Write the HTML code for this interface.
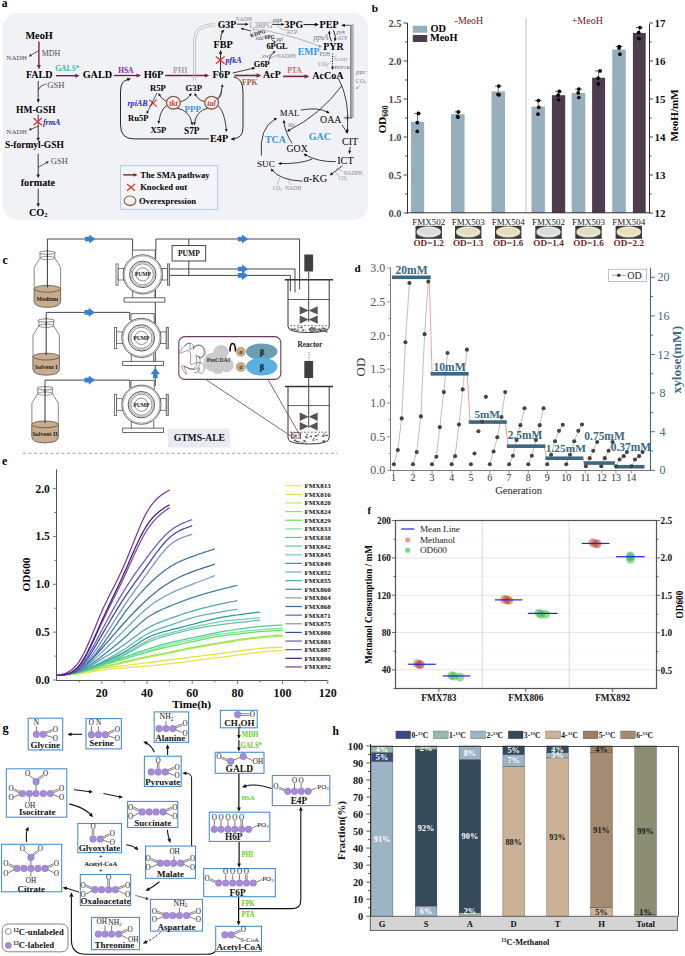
<!DOCTYPE html>
<html><head><meta charset="utf-8"><style>
html,body{margin:0;padding:0;background:#fff;overflow:hidden;}
svg{display:block;font-family:"Liberation Serif",serif;}
</style></head><body>
<svg width="685" height="956" viewBox="0 0 685 956">
<rect x="3.00" y="13.00" width="365.00" height="207.00" rx="15" fill="#f1f2f6" stroke="none" stroke-width="1"/>
<text x="1.80" y="6.70" font-size="11.50" fill="#000" font-weight="bold">a</text>
<text x="25.40" y="38.90" font-size="10.32" fill="#000" font-weight="bold">MeoH</text>
<text x="25.90" y="78.30" font-size="10.08" fill="#000" font-weight="bold">FALD</text>
<text x="82.70" y="78.30" font-size="10.18" fill="#000" font-weight="bold">GALD</text>
<text x="16.10" y="112.90" font-size="9.50" fill="#000" font-weight="bold">HM-GSH</text>
<text x="4.90" y="148.40" font-size="9.48" fill="#000" font-weight="bold">S-formyl-GSH</text>
<text x="20.70" y="185.70" font-size="10.19" fill="#000" font-weight="bold">formate</text>
<text x="28.9" y="216.2" font-size="10.3" font-weight="bold">CO<tspan font-size="6.5" dy="1">2</tspan></text>
<line x1="38.90" y1="41.50" x2="38.90" y2="66.35" stroke="#7a2341" stroke-width="1.4"/>
<polygon points="38.90,69.50 36.88,65.00 40.92,65.00" fill="#7a2341"/>
<line x1="38.90" y1="50.50" x2="30.43" y2="55.47" stroke="#333" stroke-width="0.8"/>
<polygon points="28.50,56.60 30.53,53.74 31.99,56.22" fill="#333"/>
<text x="6.30" y="59.50" font-size="7.10" fill="#505050">NADH</text>
<text x="41.70" y="56.30" font-size="8.01" fill="#505050">MDH</text>
<line x1="56.00" y1="75.70" x2="76.55" y2="75.70" stroke="#7a2341" stroke-width="1.4"/>
<polygon points="79.70,75.70 75.20,77.73 75.20,73.67" fill="#7a2341"/>
<text x="55.20" y="70.80" font-size="7.60" fill="#2ec0a0" font-weight="bold">GALS*</text>
<line x1="38.20" y1="81.00" x2="38.20" y2="100.34" stroke="#222" stroke-width="0.9"/>
<polygon points="38.20,103.00 36.49,99.20 39.91,99.20" fill="#222"/>
<path d="M38.2 90 L41 86 L46.4 83.8" stroke="#333" stroke-width="0.8" fill="none"/>
<text x="47.30" y="88.00" font-size="8.60" fill="#505050">GSH</text>
<line x1="38.20" y1="114.50" x2="38.20" y2="138.84" stroke="#222" stroke-width="0.9"/>
<polygon points="38.20,141.50 36.49,137.70 39.91,137.70" fill="#222"/>
<line x1="33.50" y1="118.00" x2="41.90" y2="125.20" stroke="#e8302a" stroke-width="1.3"/>
<line x1="33.50" y1="125.20" x2="41.90" y2="118.00" stroke="#e8302a" stroke-width="1.3"/>
<text x="42.90" y="125.00" font-size="8.08" fill="#2a2ab8" font-style="italic" font-weight="bold">frmA</text>
<line x1="38.20" y1="126.20" x2="30.38" y2="129.36" stroke="#333" stroke-width="0.8"/>
<polygon points="28.30,130.20 30.73,127.67 31.81,130.34" fill="#333"/>
<text x="6.30" y="133.50" font-size="7.10" fill="#505050">NADH</text>
<line x1="38.20" y1="153.70" x2="38.20" y2="175.64" stroke="#222" stroke-width="0.9"/>
<polygon points="38.20,178.30 36.49,174.50 39.91,174.50" fill="#222"/>
<line x1="38.20" y1="167.30" x2="47.04" y2="162.39" stroke="#333" stroke-width="0.8"/>
<polygon points="49.00,161.30 46.90,164.11 45.50,161.60" fill="#333"/>
<text x="50.80" y="164.20" font-size="8.60" fill="#505050">GSH</text>
<line x1="38.20" y1="188.70" x2="38.20" y2="204.54" stroke="#222" stroke-width="0.9"/>
<polygon points="38.20,207.20 36.49,203.40 39.91,203.40" fill="#222"/>
<line x1="113.90" y1="75.50" x2="137.95" y2="75.50" stroke="#7a2341" stroke-width="1.4"/>
<polygon points="141.10,75.50 136.60,77.53 136.60,73.47" fill="#7a2341"/>
<text x="118.20" y="72.50" font-size="7.44" fill="#7a2aa8" font-weight="bold">HSA</text>
<text x="143.70" y="78.20" font-size="10.48" fill="#000" font-weight="bold">H6P</text>
<line x1="165.20" y1="75.50" x2="206.15" y2="75.50" stroke="#7a2341" stroke-width="1.4"/>
<polygon points="209.30,75.50 204.80,77.53 204.80,73.47" fill="#7a2341"/>
<text x="173.00" y="72.50" font-size="8.04" fill="#a0a0a8" font-weight="bold">PHI</text>
<text x="212.60" y="78.20" font-size="10.22" fill="#000" font-weight="bold">F6P</text>
<line x1="234.50" y1="75.50" x2="258.04" y2="75.50" stroke="#7a2341" stroke-width="1.6"/>
<polygon points="261.40,75.50 256.60,77.66 256.60,73.34" fill="#7a2341"/>
<text x="242.10" y="85.30" font-size="7.70" fill="#9a6632" font-weight="bold">FPK</text>
<text x="263.10" y="78.20" font-size="9.91" fill="#000" font-weight="bold">AcP</text>
<line x1="283.10" y1="76.40" x2="306.04" y2="76.40" stroke="#7a2341" stroke-width="1.6"/>
<polygon points="309.40,76.40 304.60,78.56 304.60,74.24" fill="#7a2341"/>
<text x="287.20" y="72.50" font-size="7.58" fill="#c86b6b" font-weight="bold">PTA</text>
<text x="312.30" y="78.60" font-size="10.09" fill="#000" font-weight="bold">AcCoA</text>
<text x="217.70" y="28.10" font-size="9.80" fill="#000" font-weight="bold">G3P</text>
<text x="213.50" y="48.30" font-size="10.22" fill="#000" font-weight="bold">FBP</text>
<text x="284.60" y="28.20" font-size="9.90" fill="#000" font-weight="bold">3PG</text>
<text x="319.60" y="28.20" font-size="10.06" fill="#000" font-weight="bold">PEP</text>
<text x="323.30" y="49.70" font-size="9.93" fill="#000" font-weight="bold">PYR</text>
<text x="266.40" y="49.00" font-size="8.33" fill="#000" font-weight="bold">6PGL</text>
<text x="253.80" y="67.10" font-size="8.47" fill="#000" font-weight="bold">G6P</text>
<line x1="220.60" y1="71.00" x2="220.60" y2="52.66" stroke="#111" stroke-width="0.9"/>
<polygon points="220.60,50.00 222.31,53.80 218.89,53.80" fill="#111"/>
<line x1="216.00" y1="56.60" x2="224.60" y2="63.80" stroke="#e8302a" stroke-width="1.3"/>
<line x1="216.00" y1="63.80" x2="224.60" y2="56.60" stroke="#e8302a" stroke-width="1.3"/>
<text x="225.50" y="63.00" font-size="8.15" fill="#2a2ab8" font-style="italic" font-weight="bold">pfkA</text>
<path d="M220.60 40.20 Q221.00 33.00 222.62 31.48" stroke="#111" stroke-width="0.9" fill="none"/>
<polygon points="224.40,29.80 222.93,33.35 220.77,31.05" fill="#111"/>
<path d="M215.2 23.5 Q193.5 23.5 193.5 40 L193.5 80.5" stroke="#b0b0b0" stroke-width="0.7" fill="none"/>
<path d="M215.2 25.8 Q195.6 25.8 195.6 41 L195.6 80.5" stroke="#b0b0b0" stroke-width="0.7" fill="none"/>
<text x="248.80" y="27.60" font-size="7.35" fill="#8a8a8a">1,3BPG</text>
<text x="235.40" y="21.20" font-size="5.78" fill="#8a8a8a">NADH</text>
<line x1="237.00" y1="24.20" x2="246.36" y2="24.20" stroke="#111" stroke-width="0.9"/>
<polygon points="248.60,24.20 245.40,25.64 245.40,22.76" fill="#111"/>
<text x="273.10" y="21.50" font-size="6.44" fill="#555" font-style="italic">pgk</text>
<line x1="272.30" y1="24.40" x2="282.36" y2="24.40" stroke="#111" stroke-width="0.9"/>
<polygon points="284.60,24.40 281.40,25.84 281.40,22.96" fill="#111"/>
<text x="286.20" y="33.50" font-size="6.35" fill="#8a8a8a">ATP</text>
<path d="M276 24.6 Q283 31 288 30" stroke="#888" stroke-width="0.5" fill="none"/>
<line x1="303.60" y1="24.60" x2="316.10" y2="24.60" stroke="#111" stroke-width="1"/>
<polygon points="318.90,24.60 314.90,26.40 314.90,22.80" fill="#111"/>
<text x="250.80" y="37.40" font-size="5.40" fill="#222" font-weight="bold" transform="rotate(-17 250.8 37.4)">KDPG</text>
<text x="255.80" y="40.20" font-size="5.20" fill="#555" font-style="italic">edd</text>
<text x="264.60" y="39.40" font-size="5.40" fill="#222" font-weight="bold">6PG</text>
<text x="276.40" y="40.60" font-size="5.20" fill="#555" font-style="italic">pgl</text>
<line x1="251.00" y1="31.00" x2="242.53" y2="28.74" stroke="#111" stroke-width="0.8"/>
<polygon points="240.50,28.20 243.75,27.67 243.05,30.28" fill="#111"/>
<line x1="268.00" y1="36.50" x2="266.07" y2="36.02" stroke="#111" stroke-width="0.01"/>
<polygon points="266.00,36.00 266.11,35.98 266.09,36.07" fill="#111"/>
<line x1="271.50" y1="39.60" x2="274.48" y2="41.96" stroke="#111" stroke-width="0.7"/>
<polygon points="275.80,43.00 273.25,42.36 274.59,40.66" fill="#111"/>
<path d="M266.00 30.50 Q300.00 38.00 319.93 46.34" stroke="#888" stroke-width="0.6" fill="none"/>
<polygon points="322.00,47.20 318.49,47.29 319.60,44.64" fill="#888"/>
<path d="M252 29.6 L266 30.5" stroke="#888" stroke-width="0.6" fill="none"/>
<path d="M268.90 60.40 Q271.00 54.00 273.93 52.22" stroke="#111" stroke-width="0.7" fill="none"/>
<polygon points="275.60,51.20 273.86,53.73 272.55,51.58" fill="#111"/>
<text x="262.20" y="58.30" font-size="6.50" fill="#777" font-style="italic">zwf</text>
<text x="276.80" y="58.30" font-size="5.52" fill="#8a8a8a">NADPH</text>
<path d="M270.5 58.5 Q274 55.5 277 55.8" stroke="#777" stroke-width="0.5" fill="none"/>
<line x1="232.80" y1="73.00" x2="253.25" y2="68.23" stroke="#111" stroke-width="0.8"/>
<polygon points="255.50,67.70 252.62,69.90 251.95,67.00" fill="#111"/>
<path d="M331.50 41.50 Q329.00 36.00 329.30 32.73" stroke="#111" stroke-width="0.9" fill="none"/>
<polygon points="329.50,30.50 330.64,33.82 327.78,33.56" fill="#111"/>
<path d="M333.50 30.50 Q336.00 36.00 335.15 39.33" stroke="#111" stroke-width="0.9" fill="none"/>
<polygon points="334.60,41.50 333.99,38.04 336.78,38.75" fill="#111"/>
<text x="336.40" y="33.50" font-size="6.34" fill="#777" font-style="italic">pyk</text>
<text x="337.20" y="39.80" font-size="5.74" fill="#8a8a8a">ATP</text>
<text x="313.50" y="40.00" font-size="7.45" fill="#777" font-style="italic">ppsA</text>
<text x="297.70" y="55.30" font-size="9.86" fill="#3b96dd" font-weight="bold">EMP</text>
<text x="319.60" y="56.30" font-size="5.15" fill="#777">PDH</text>
<line x1="332.50" y1="53.50" x2="332.50" y2="67.76" stroke="#111" stroke-width="0.9" stroke-dasharray="1.2 1.2"/>
<polygon points="332.50,70.00 331.06,66.80 333.94,66.80" fill="#111"/>
<text x="334.20" y="61.30" font-size="4.57" fill="#8a8a8a">NADH</text>
<text x="318.20" y="66.30" font-size="6.00" fill="#8a8a8a">CO</text>
<text x="326.60" y="67.30" font-size="4.00" fill="#8a8a8a">2</text>
<path d="M332.5 60 L328 64" stroke="#888" stroke-width="0.5" fill="none"/>
<path d="M332.5 57 L336.5 56" stroke="#888" stroke-width="0.5" fill="none"/>
<text x="334.20" y="68.80" font-size="4.75" fill="#777" font-weight="bold">PEPCK</text>
<line x1="352.50" y1="24.20" x2="352.50" y2="118.00" stroke="#b4b4b4" stroke-width="2.6"/>
<path d="M350.8 118 L350.8 25.3 L342 25.3" stroke="#222" stroke-width="0.7" fill="none"/>
<polygon points="341.30,25.30 344.90,23.68 344.90,26.92" fill="#111"/>
<text x="356.10" y="73.50" font-size="7.13" fill="#777" font-style="italic">ppc</text>
<text x="355.40" y="82.50" font-size="6.50" fill="#8a8a8a">CO</text>
<text x="364.00" y="83.50" font-size="4.20" fill="#8a8a8a">2</text>
<line x1="360.00" y1="85.50" x2="357.16" y2="87.99" stroke="#777" stroke-width="0.5"/>
<polygon points="356.00,89.00 357.00,86.81 358.31,88.30" fill="#777"/>
<text x="149.90" y="90.50" font-size="8.67" fill="#000" font-weight="bold">R5P</text>
<text x="185.60" y="90.50" font-size="8.68" fill="#000" font-weight="bold">G3P</text>
<text x="128.00" y="120.50" font-size="8.54" fill="#000" font-weight="bold">Ru5P</text>
<text x="150.50" y="132.80" font-size="8.57" fill="#000" font-weight="bold">X5P</text>
<text x="184.00" y="134.20" font-size="9.30" fill="#000" font-weight="bold">S7P</text>
<text x="210.10" y="142.00" font-size="10.12" fill="#000" font-weight="bold">E4P</text>
<text x="127.40" y="106.00" font-size="8.16" fill="#2a2ab8" font-style="italic" font-weight="bold">rpiAB</text>
<line x1="149.20" y1="99.60" x2="156.80" y2="106.60" stroke="#e8302a" stroke-width="1.2"/>
<line x1="149.20" y1="106.60" x2="156.80" y2="99.60" stroke="#e8302a" stroke-width="1.2"/>
<line x1="157.00" y1="93.00" x2="147.44" y2="112.12" stroke="#111" stroke-width="0.7"/>
<polygon points="146.50,114.00 146.63,110.71 149.05,111.92" fill="#111"/>
<path d="M174.00 103.00 Q163.00 102.00 159.44 94.88" stroke="#111" stroke-width="0.8" fill="none"/>
<polygon points="158.50,93.00 161.05,95.08 158.63,96.29" fill="#111"/>
<path d="M174.00 103.00 Q186.00 102.00 190.40 94.79" stroke="#111" stroke-width="0.8" fill="none"/>
<polygon points="191.50,93.00 191.09,96.26 188.78,94.86" fill="#111"/>
<path d="M174.00 103.00 Q161.00 104.00 158.76 121.92" stroke="#111" stroke-width="0.8" fill="none"/>
<polygon points="158.50,124.00 157.53,120.86 160.21,121.19" fill="#111"/>
<path d="M177.00 108.00 Q190.00 111.00 191.97 123.43" stroke="#111" stroke-width="0.8" fill="none"/>
<polygon points="192.30,125.50 190.50,122.75 193.16,122.33" fill="#111"/>
<path d="M211.60 103.00 Q199.00 102.00 195.44 94.88" stroke="#111" stroke-width="0.8" fill="none"/>
<polygon points="194.50,93.00 197.05,95.08 194.63,96.29" fill="#111"/>
<path d="M208.00 108.00 Q196.00 111.00 194.46 123.42" stroke="#111" stroke-width="0.8" fill="none"/>
<polygon points="194.20,125.50 193.23,122.36 195.91,122.69" fill="#111"/>
<path d="M211.60 103.00 Q224.00 104.00 226.31 129.91" stroke="#111" stroke-width="0.8" fill="none"/>
<polygon points="226.50,132.00 224.89,129.13 227.58,128.89" fill="#111"/>
<path d="M211.60 103.00 Q221.00 100.00 222.30 86.09" stroke="#111" stroke-width="0.8" fill="none"/>
<polygon points="222.50,84.00 223.56,87.11 220.88,86.86" fill="#111"/>
<path d="M221.50 90.00 Q222.00 98.00 216.73 98.75" stroke="#111" stroke-width="0.6" fill="none"/>
<polygon points="215.00,99.00 217.32,97.53 217.63,99.76" fill="#111"/>
<ellipse cx="173.40" cy="102.70" rx="6.90" ry="6.30" fill="#f1f2f6" stroke="#8b5e3c" stroke-width="1.3"/>
<ellipse cx="211.60" cy="102.70" rx="6.90" ry="6.30" fill="#f1f2f6" stroke="#8b5e3c" stroke-width="1.3"/>
<text x="173.40" y="105.50" font-size="8.00" fill="#e8302a" text-anchor="middle" font-style="italic" font-weight="bold">tkt</text>
<text x="211.60" y="105.50" font-size="8.00" fill="#e8302a" text-anchor="middle" font-style="italic" font-weight="bold">tal</text>
<text x="184.60" y="111.60" font-size="8.95" fill="#3b96dd" font-weight="bold">PPP</text>
<path d="M209 138.9 L134 138.9 Q120.5 138.9 120.5 125 L120.5 92 Q120.5 80.5 128 79.5" stroke="#111" stroke-width="0.9" fill="none"/>
<polygon points="131.00,78.60 127.74,81.20 126.90,77.88" fill="#111"/>
<path d="M233.6 77 Q243 78 243 92 L243 128 Q243 138 233 138.9" stroke="#111" stroke-width="0.9" fill="none"/>
<polygon points="230.50,139.00 234.30,137.29 234.30,140.71" fill="#111"/>
<text x="279.80" y="115.60" font-size="8.82" fill="#000">MAL</text>
<text x="320.10" y="122.70" font-size="9.88" fill="#000">OAA</text>
<text x="342.00" y="145.10" font-size="10.12" fill="#000">CIT</text>
<text x="337.20" y="164.00" font-size="10.24" fill="#000">ICT</text>
<text x="286.40" y="152.10" font-size="9.88" fill="#000">GOX</text>
<text x="257.00" y="167.00" font-size="9.20" fill="#000">SUC</text>
<text x="303.40" y="182.40" font-size="10.30" fill="#000">α-KG</text>
<text x="264.90" y="143.30" font-size="9.95" fill="#3b96dd" font-weight="bold">TCA</text>
<text x="308.70" y="139.80" font-size="10.04" fill="#3b96dd" font-weight="bold">GAC</text>
<text x="288.00" y="127.20" font-size="5.50" fill="#777" font-style="italic">Ms</text>
<path d="M342.00 85.50 Q320.00 115.00 288.87 130.38" stroke="#111" stroke-width="0.8" fill="none"/>
<polygon points="286.80,131.40 289.10,128.61 290.42,131.27" fill="#111"/>
<path d="M338.50 78.50 Q350.00 100.00 347.40 130.70" stroke="#111" stroke-width="0.8" fill="none"/>
<polygon points="347.20,133.00 346.00,129.59 348.96,129.84" fill="#111"/>
<path d="M300.80 110.00 Q318.00 107.00 327.66 112.12" stroke="#111" stroke-width="0.8" fill="none"/>
<polygon points="329.70,113.20 326.09,112.97 327.48,110.34" fill="#111"/>
<line x1="342.00" y1="124.90" x2="346.78" y2="131.80" stroke="#111" stroke-width="0.8"/>
<polygon points="348.10,133.70 345.00,131.83 347.44,130.14" fill="#111"/>
<line x1="343.70" y1="117.90" x2="352.00" y2="117.90" stroke="#111" stroke-width="0.7"/>
<line x1="347.20" y1="115.50" x2="347.20" y2="120.30" stroke="#111" stroke-width="0.6"/>
<line x1="350.20" y1="146.80" x2="349.59" y2="151.71" stroke="#111" stroke-width="0.8"/>
<polygon points="349.30,154.00 348.24,150.54 351.18,150.91" fill="#111"/>
<path d="M335.80 161.70 Q318.00 162.00 305.41 154.93" stroke="#111" stroke-width="0.8" fill="none"/>
<polygon points="303.40,153.80 307.00,154.12 305.55,156.71" fill="#111"/>
<path d="M312.20 159.10 Q300.00 164.00 280.31 163.55" stroke="#111" stroke-width="0.8" fill="none"/>
<polygon points="278.00,163.50 281.33,162.09 281.27,165.06" fill="#111"/>
<path d="M292.00 143.30 Q285.00 132.00 284.02 122.00" stroke="#111" stroke-width="0.8" fill="none"/>
<polygon points="283.80,119.70 285.60,122.84 282.64,123.13" fill="#111"/>
<path d="M261.40 155.60 Q259.00 128.00 275.18 119.02" stroke="#111" stroke-width="0.8" fill="none"/>
<polygon points="277.20,117.90 275.04,120.80 273.59,118.20" fill="#111"/>
<line x1="342.50" y1="165.80" x2="331.55" y2="174.01" stroke="#111" stroke-width="0.8"/>
<polygon points="329.70,175.40 331.45,172.23 333.23,174.61" fill="#111"/>
<text x="343.70" y="174.50" font-size="5.34" fill="#8a8a8a">NADPH</text>
<text x="338.50" y="180.00" font-size="5.30" fill="#8a8a8a">CO</text>
<text x="345.50" y="180.80" font-size="3.60" fill="#8a8a8a">2</text>
<path d="M336 168.5 L342.8 171.5" stroke="#888" stroke-width="0.5" fill="none"/>
<path d="M335 171 L339 176.5" stroke="#888" stroke-width="0.5" fill="none"/>
<path d="M302.60 181.20 Q280.00 180.00 272.14 170.20" stroke="#111" stroke-width="0.8" fill="none"/>
<polygon points="270.70,168.40 273.92,170.05 271.61,171.90" fill="#111"/>
<text x="272.80" y="190.00" font-size="5.30" fill="#8a8a8a">CO</text>
<text x="279.90" y="190.80" font-size="3.60" fill="#8a8a8a">2</text>
<text x="285.00" y="190.00" font-size="5.61" fill="#8a8a8a">NADH</text>
<path d="M280.5 176.5 L277 185" stroke="#888" stroke-width="0.5" fill="none"/>
<path d="M287.5 179 L291 185" stroke="#888" stroke-width="0.5" fill="none"/>
<rect x="120.60" y="165.70" width="97.10" height="43.60" rx="0" fill="#f4f5f9" stroke="#a9c6e6" stroke-width="0.9"/>
<line x1="123.30" y1="174.90" x2="134.80" y2="174.90" stroke="#7a2341" stroke-width="1.4"/>
<polygon points="137.60,174.90 133.60,176.70 133.60,173.10" fill="#7a2341"/>
<text x="140.20" y="177.70" font-size="8.69" fill="#000" font-weight="bold">The SMA pathway</text>
<line x1="127.00" y1="184.00" x2="135.00" y2="190.80" stroke="#e8302a" stroke-width="1.2"/>
<line x1="127.00" y1="190.80" x2="135.00" y2="184.00" stroke="#e8302a" stroke-width="1.2"/>
<text x="140.20" y="190.30" font-size="8.60" fill="#000" font-weight="bold">Knocked out</text>
<ellipse cx="130.00" cy="200.70" rx="5.80" ry="4.70" fill="none" stroke="#8b5e3c" stroke-width="1.1"/>
<text x="139.00" y="203.50" font-size="8.60" fill="#000" font-weight="bold">Overexpression</text>
<text x="371.80" y="11.80" font-size="11.30" fill="#000" font-weight="bold">b</text>
<line x1="526.00" y1="18.00" x2="526.00" y2="213.00" stroke="#b0b0b0" stroke-width="0.8"/>
<rect x="411.00" y="121.80" width="13.20" height="91.20" rx="0" fill="#97afbd" stroke="none" stroke-width="1"/>
<line x1="417.60" y1="121.80" x2="417.60" y2="113.44" stroke="#111" stroke-width="0.6"/>
<line x1="414.30" y1="113.44" x2="420.90" y2="113.44" stroke="#111" stroke-width="0.7"/>
<circle cx="418.40" cy="113.44" r="1.85" fill="#000" stroke="none" stroke-width="1"/>
<circle cx="417.30" cy="122.56" r="1.85" fill="#000" stroke="none" stroke-width="1"/>
<circle cx="417.30" cy="131.30" r="1.85" fill="#000" stroke="none" stroke-width="1"/>
<rect x="451.00" y="114.20" width="13.60" height="98.80" rx="0" fill="#97afbd" stroke="none" stroke-width="1"/>
<line x1="457.80" y1="114.20" x2="457.80" y2="111.92" stroke="#111" stroke-width="0.6"/>
<line x1="454.50" y1="111.92" x2="461.10" y2="111.92" stroke="#111" stroke-width="0.7"/>
<circle cx="458.30" cy="111.92" r="1.85" fill="#000" stroke="none" stroke-width="1"/>
<circle cx="457.60" cy="116.48" r="1.85" fill="#000" stroke="none" stroke-width="1"/>
<circle cx="458.00" cy="117.24" r="1.85" fill="#000" stroke="none" stroke-width="1"/>
<rect x="491.50" y="91.40" width="13.50" height="121.60" rx="0" fill="#97afbd" stroke="none" stroke-width="1"/>
<line x1="498.25" y1="91.40" x2="498.25" y2="86.08" stroke="#111" stroke-width="0.6"/>
<line x1="494.95" y1="86.08" x2="501.55" y2="86.08" stroke="#111" stroke-width="0.7"/>
<circle cx="498.75" cy="86.08" r="1.85" fill="#000" stroke="none" stroke-width="1"/>
<circle cx="498.05" cy="94.44" r="1.85" fill="#000" stroke="none" stroke-width="1"/>
<circle cx="499.05" cy="94.82" r="1.85" fill="#000" stroke="none" stroke-width="1"/>
<rect x="531.50" y="106.60" width="13.40" height="106.40" rx="0" fill="#97afbd" stroke="none" stroke-width="1"/>
<line x1="538.20" y1="106.60" x2="538.20" y2="100.52" stroke="#111" stroke-width="0.6"/>
<line x1="534.90" y1="100.52" x2="541.50" y2="100.52" stroke="#111" stroke-width="0.7"/>
<circle cx="538.40" cy="100.52" r="1.85" fill="#000" stroke="none" stroke-width="1"/>
<circle cx="538.80" cy="107.36" r="1.85" fill="#000" stroke="none" stroke-width="1"/>
<circle cx="538.00" cy="114.20" r="1.85" fill="#000" stroke="none" stroke-width="1"/>
<rect x="551.90" y="95.20" width="13.30" height="117.80" rx="0" fill="#4d3b4e" stroke="none" stroke-width="1"/>
<line x1="558.55" y1="95.20" x2="558.55" y2="91.40" stroke="#111" stroke-width="0.6"/>
<line x1="555.25" y1="91.40" x2="561.85" y2="91.40" stroke="#111" stroke-width="0.7"/>
<circle cx="559.35" cy="91.40" r="1.85" fill="#000" stroke="none" stroke-width="1"/>
<circle cx="558.15" cy="95.20" r="1.85" fill="#000" stroke="none" stroke-width="1"/>
<circle cx="558.55" cy="99.76" r="1.85" fill="#000" stroke="none" stroke-width="1"/>
<rect x="571.70" y="92.92" width="13.60" height="120.08" rx="0" fill="#97afbd" stroke="none" stroke-width="1"/>
<line x1="578.50" y1="92.92" x2="578.50" y2="89.12" stroke="#111" stroke-width="0.6"/>
<line x1="575.20" y1="89.12" x2="581.80" y2="89.12" stroke="#111" stroke-width="0.7"/>
<circle cx="578.80" cy="89.12" r="1.85" fill="#000" stroke="none" stroke-width="1"/>
<circle cx="578.20" cy="92.92" r="1.85" fill="#000" stroke="none" stroke-width="1"/>
<circle cx="578.80" cy="97.48" r="1.85" fill="#000" stroke="none" stroke-width="1"/>
<rect x="592.10" y="77.72" width="13.00" height="135.28" rx="0" fill="#4d3b4e" stroke="none" stroke-width="1"/>
<line x1="598.60" y1="77.72" x2="598.60" y2="70.88" stroke="#111" stroke-width="0.6"/>
<line x1="595.30" y1="70.88" x2="601.90" y2="70.88" stroke="#111" stroke-width="0.7"/>
<circle cx="600.10" cy="70.88" r="1.85" fill="#000" stroke="none" stroke-width="1"/>
<circle cx="598.10" cy="78.10" r="1.85" fill="#000" stroke="none" stroke-width="1"/>
<circle cx="598.30" cy="83.80" r="1.85" fill="#000" stroke="none" stroke-width="1"/>
<rect x="612.20" y="49.60" width="13.60" height="163.40" rx="0" fill="#97afbd" stroke="none" stroke-width="1"/>
<line x1="619.00" y1="49.60" x2="619.00" y2="46.56" stroke="#111" stroke-width="0.6"/>
<line x1="615.70" y1="46.56" x2="622.30" y2="46.56" stroke="#111" stroke-width="0.7"/>
<circle cx="619.30" cy="46.56" r="1.85" fill="#000" stroke="none" stroke-width="1"/>
<circle cx="619.10" cy="48.08" r="1.85" fill="#000" stroke="none" stroke-width="1"/>
<circle cx="619.90" cy="54.16" r="1.85" fill="#000" stroke="none" stroke-width="1"/>
<rect x="632.90" y="32.88" width="12.80" height="180.12" rx="0" fill="#4d3b4e" stroke="none" stroke-width="1"/>
<line x1="639.30" y1="32.88" x2="639.30" y2="27.56" stroke="#111" stroke-width="0.6"/>
<line x1="636.00" y1="27.56" x2="642.60" y2="27.56" stroke="#111" stroke-width="0.7"/>
<circle cx="640.10" cy="27.56" r="1.85" fill="#000" stroke="none" stroke-width="1"/>
<circle cx="638.70" cy="32.50" r="1.85" fill="#000" stroke="none" stroke-width="1"/>
<circle cx="638.90" cy="38.58" r="1.85" fill="#000" stroke="none" stroke-width="1"/>
<line x1="407.50" y1="23.00" x2="407.50" y2="213.50" stroke="#333" stroke-width="1"/>
<line x1="407.00" y1="212.80" x2="650.00" y2="212.80" stroke="#333" stroke-width="1"/>
<line x1="649.50" y1="24.00" x2="649.50" y2="213.30" stroke="#333" stroke-width="1"/>
<line x1="403.60" y1="213.00" x2="407.60" y2="213.00" stroke="#333" stroke-width="0.9"/>
<text x="401.60" y="216.60" font-size="10.50" fill="#4a4a4a" text-anchor="end" font-weight="bold">0.0</text>
<line x1="405.10" y1="194.00" x2="407.60" y2="194.00" stroke="#333" stroke-width="0.9"/>
<line x1="403.60" y1="175.00" x2="407.60" y2="175.00" stroke="#333" stroke-width="0.9"/>
<text x="401.60" y="178.60" font-size="10.50" fill="#4a4a4a" text-anchor="end" font-weight="bold">0.5</text>
<line x1="405.10" y1="156.00" x2="407.60" y2="156.00" stroke="#333" stroke-width="0.9"/>
<line x1="403.60" y1="137.00" x2="407.60" y2="137.00" stroke="#333" stroke-width="0.9"/>
<text x="401.60" y="140.60" font-size="10.50" fill="#4a4a4a" text-anchor="end" font-weight="bold">1.0</text>
<line x1="405.10" y1="118.00" x2="407.60" y2="118.00" stroke="#333" stroke-width="0.9"/>
<line x1="403.60" y1="99.00" x2="407.60" y2="99.00" stroke="#333" stroke-width="0.9"/>
<text x="401.60" y="102.60" font-size="10.50" fill="#4a4a4a" text-anchor="end" font-weight="bold">1.5</text>
<line x1="405.10" y1="80.00" x2="407.60" y2="80.00" stroke="#333" stroke-width="0.9"/>
<line x1="403.60" y1="61.00" x2="407.60" y2="61.00" stroke="#333" stroke-width="0.9"/>
<text x="401.60" y="64.60" font-size="10.50" fill="#4a4a4a" text-anchor="end" font-weight="bold">2.0</text>
<line x1="405.10" y1="42.00" x2="407.60" y2="42.00" stroke="#333" stroke-width="0.9"/>
<line x1="403.60" y1="23.00" x2="407.60" y2="23.00" stroke="#333" stroke-width="0.9"/>
<text x="401.60" y="26.60" font-size="10.50" fill="#4a4a4a" text-anchor="end" font-weight="bold">2.5</text>
<line x1="649.00" y1="213.00" x2="653.00" y2="213.00" stroke="#333" stroke-width="0.9"/>
<text x="654.60" y="216.80" font-size="11.00" fill="#111" font-weight="bold">12</text>
<line x1="649.00" y1="194.00" x2="651.50" y2="194.00" stroke="#333" stroke-width="0.9"/>
<line x1="649.00" y1="175.00" x2="653.00" y2="175.00" stroke="#333" stroke-width="0.9"/>
<text x="654.60" y="178.80" font-size="11.00" fill="#111" font-weight="bold">13</text>
<line x1="649.00" y1="156.00" x2="651.50" y2="156.00" stroke="#333" stroke-width="0.9"/>
<line x1="649.00" y1="137.00" x2="653.00" y2="137.00" stroke="#333" stroke-width="0.9"/>
<text x="654.60" y="140.80" font-size="11.00" fill="#111" font-weight="bold">14</text>
<line x1="649.00" y1="118.00" x2="651.50" y2="118.00" stroke="#333" stroke-width="0.9"/>
<line x1="649.00" y1="99.00" x2="653.00" y2="99.00" stroke="#333" stroke-width="0.9"/>
<text x="654.60" y="102.80" font-size="11.00" fill="#111" font-weight="bold">15</text>
<line x1="649.00" y1="80.00" x2="651.50" y2="80.00" stroke="#333" stroke-width="0.9"/>
<line x1="649.00" y1="61.00" x2="653.00" y2="61.00" stroke="#333" stroke-width="0.9"/>
<text x="654.60" y="64.80" font-size="11.00" fill="#111" font-weight="bold">16</text>
<line x1="649.00" y1="42.00" x2="651.50" y2="42.00" stroke="#333" stroke-width="0.9"/>
<line x1="649.00" y1="23.00" x2="653.00" y2="23.00" stroke="#333" stroke-width="0.9"/>
<text x="654.60" y="26.80" font-size="11.00" fill="#111" font-weight="bold">17</text>
<text transform="translate(386.2 133.3) rotate(-90)" font-size="11" font-weight="bold">OD<tspan font-size="7.5" dy="1.5">600</tspan></text>
<text x="678.40" y="141.40" font-size="11.00" fill="#000" font-weight="bold" transform="rotate(-90 678.4 141.4)">MeoH/mM</text>
<rect x="412.80" y="25.70" width="14.40" height="7.00" rx="0" fill="#97afbd" stroke="none" stroke-width="1"/>
<rect x="412.80" y="35.00" width="14.40" height="7.00" rx="0" fill="#4d3b4e" stroke="none" stroke-width="1"/>
<text x="430.40" y="31.50" font-size="10.30" fill="#000" font-weight="bold">OD</text>
<text x="430.00" y="41.40" font-size="10.30" fill="#000" font-weight="bold">MeoH</text>
<text x="454.60" y="24.30" font-size="9.94" fill="#6a2418">-MeoH</text>
<text x="571.70" y="24.30" font-size="10.03" fill="#6a2418">+MeoH</text>
<text x="428.70" y="224.80" font-size="9.00" fill="#222" text-anchor="middle">FMX502</text>
<rect x="415.50" y="225.80" width="26.40" height="13.00" rx="0" fill="#3a3a3a" stroke="none" stroke-width="1"/>
<ellipse cx="428.70" cy="232.00" rx="12.20" ry="5.60" fill="#d8dadb" stroke="none" stroke-width="1"/>
<ellipse cx="428.70" cy="231.30" rx="10.50" ry="4.30" fill="none" stroke="#f4f4f0" stroke-width="0.8"/>
<text x="428.70" y="246.00" font-size="9.20" fill="#6e1c1c" text-anchor="middle" font-weight="bold">OD=1.2</text>
<text x="468.20" y="224.80" font-size="9.00" fill="#222" text-anchor="middle">FMX503</text>
<rect x="455.00" y="225.80" width="26.40" height="13.00" rx="0" fill="#3a3a3a" stroke="none" stroke-width="1"/>
<ellipse cx="468.20" cy="232.00" rx="12.20" ry="5.60" fill="#e2dcc0" stroke="none" stroke-width="1"/>
<ellipse cx="468.20" cy="231.30" rx="10.50" ry="4.30" fill="none" stroke="#f4f4f0" stroke-width="0.8"/>
<text x="468.20" y="246.00" font-size="9.20" fill="#6e1c1c" text-anchor="middle" font-weight="bold">OD=1.3</text>
<text x="508.20" y="224.80" font-size="9.00" fill="#222" text-anchor="middle">FMX504</text>
<rect x="495.00" y="225.80" width="26.40" height="13.00" rx="0" fill="#3a3a3a" stroke="none" stroke-width="1"/>
<ellipse cx="508.20" cy="232.00" rx="12.20" ry="5.60" fill="#e4ddb8" stroke="none" stroke-width="1"/>
<ellipse cx="508.20" cy="231.30" rx="10.50" ry="4.30" fill="none" stroke="#f4f4f0" stroke-width="0.8"/>
<text x="508.20" y="246.00" font-size="9.20" fill="#6e1c1c" text-anchor="middle" font-weight="bold">OD=1.6</text>
<text x="548.50" y="224.80" font-size="9.00" fill="#222" text-anchor="middle">FMX502</text>
<rect x="535.30" y="225.80" width="26.40" height="13.00" rx="0" fill="#3a3a3a" stroke="none" stroke-width="1"/>
<ellipse cx="548.50" cy="232.00" rx="12.20" ry="5.60" fill="#d8dadb" stroke="none" stroke-width="1"/>
<ellipse cx="548.50" cy="231.30" rx="10.50" ry="4.30" fill="none" stroke="#f4f4f0" stroke-width="0.8"/>
<text x="548.50" y="246.00" font-size="9.20" fill="#6e1c1c" text-anchor="middle" font-weight="bold">OD=1.4</text>
<text x="588.50" y="224.80" font-size="9.00" fill="#222" text-anchor="middle">FMX503</text>
<rect x="575.30" y="225.80" width="26.40" height="13.00" rx="0" fill="#3a3a3a" stroke="none" stroke-width="1"/>
<ellipse cx="588.50" cy="232.00" rx="12.20" ry="5.60" fill="#e2dcc0" stroke="none" stroke-width="1"/>
<ellipse cx="588.50" cy="231.30" rx="10.50" ry="4.30" fill="none" stroke="#f4f4f0" stroke-width="0.8"/>
<text x="588.50" y="246.00" font-size="9.20" fill="#6e1c1c" text-anchor="middle" font-weight="bold">OD=1.6</text>
<text x="628.80" y="224.80" font-size="9.00" fill="#222" text-anchor="middle">FMX504</text>
<rect x="615.60" y="225.80" width="26.40" height="13.00" rx="0" fill="#3a3a3a" stroke="none" stroke-width="1"/>
<ellipse cx="628.80" cy="232.00" rx="12.20" ry="5.60" fill="#e6dfba" stroke="none" stroke-width="1"/>
<ellipse cx="628.80" cy="231.30" rx="10.50" ry="4.30" fill="none" stroke="#f4f4f0" stroke-width="0.8"/>
<text x="628.80" y="246.00" font-size="9.20" fill="#6e1c1c" text-anchor="middle" font-weight="bold">OD=2.2</text>
<text x="2.60" y="264.20" font-size="12.00" fill="#000" font-weight="bold">c</text>
<path d="M47.4 287.5 L47.4 239 L132.6 239 L132.6 250" stroke="#333" stroke-width="0.9" fill="none"/>
<path d="M155.9 250 L155.9 239 L299.6 239 L299.6 289.3" stroke="#333" stroke-width="0.9" fill="none"/>
<path d="M170 269 L295 269 L295 292.4" stroke="#333" stroke-width="0.9" fill="none"/>
<path d="M170 275.4 L290.4 275.4 L290.4 291" stroke="#333" stroke-width="0.9" fill="none"/>
<path d="M46.2 355 L46.2 312.4 L129.8 312.4 L129.8 320" stroke="#333" stroke-width="0.9" fill="none"/>
<path d="M45 423 L45 380.1 L129.8 380.1 L129.8 388" stroke="#333" stroke-width="0.9" fill="none"/>
<line x1="155.30" y1="250.00" x2="155.30" y2="386.00" stroke="#333" stroke-width="0.9"/>
<line x1="188.80" y1="239.00" x2="188.80" y2="276.00" stroke="#333" stroke-width="0.9"/>
<rect x="172.10" y="245.60" width="33.60" height="15.40" rx="0" fill="#fff" stroke="#333" stroke-width="0.9"/>
<text x="188.90" y="256.40" font-size="7.60" fill="#111" text-anchor="middle" font-weight="bold">PUMP</text>
<polygon points="85.00,236.70 89.20,236.70 89.20,234.40 95.40,239.00 89.20,243.60 89.20,241.30 85.00,241.30" fill="#3a7fd0"/>
<polygon points="84.50,310.10 88.70,310.10 88.70,307.80 94.90,312.40 88.70,317.00 88.70,314.70 84.50,314.70" fill="#3a7fd0"/>
<polygon points="84.50,377.80 88.70,377.80 88.70,375.50 94.90,380.10 88.70,384.70 88.70,382.40 84.50,382.40" fill="#3a7fd0"/>
<polygon points="237.80,236.70 242.00,236.70 242.00,234.40 248.20,239.00 242.00,243.60 242.00,241.30 237.80,241.30" fill="#3a7fd0"/>
<polygon points="237.80,266.70 242.00,266.70 242.00,264.40 248.20,269.00 242.00,273.60 242.00,271.30 237.80,271.30" fill="#3a7fd0"/>
<polygon points="237.80,273.10 242.00,273.10 242.00,270.80 248.20,275.40 242.00,280.00 242.00,277.70 237.80,277.70" fill="#3a7fd0"/>
<polygon points="155.30,367.80 159.90,374.00 157.60,374.00 157.60,378.30 153.00,378.30 153.00,374.00 150.70,374.00" fill="#3a7fd0"/>
<line x1="132.40" y1="250.10" x2="132.40" y2="257.40" stroke="#444" stroke-width="0.8"/>
<line x1="155.70" y1="250.10" x2="155.70" y2="259.40" stroke="#444" stroke-width="0.8"/>
<line x1="132.40" y1="250.10" x2="155.70" y2="250.10" stroke="#444" stroke-width="0.8"/>
<rect x="116.00" y="263.90" width="2.10" height="21.30" rx="0" fill="#fff" stroke="#444" stroke-width="0.7"/>
<rect x="118.10" y="268.40" width="5.60" height="11.60" rx="0" fill="#fff" stroke="#444" stroke-width="0.7"/>
<rect x="162.00" y="268.40" width="5.60" height="11.60" rx="0" fill="#fff" stroke="#444" stroke-width="0.7"/>
<rect x="167.60" y="263.90" width="2.10" height="21.30" rx="0" fill="#ccc" stroke="#444" stroke-width="0.7"/>
<line x1="132.70" y1="290.40" x2="132.70" y2="297.80" stroke="#444" stroke-width="0.8"/>
<line x1="155.10" y1="290.40" x2="155.10" y2="297.80" stroke="#444" stroke-width="0.8"/>
<rect x="124.10" y="297.80" width="40.80" height="4.30" rx="0" fill="#fff" stroke="#444" stroke-width="0.8"/>
<circle cx="142.80" cy="274.40" r="19.60" fill="#fff" stroke="#444" stroke-width="0.8"/>
<circle cx="142.80" cy="274.40" r="18.40" fill="none" stroke="#777" stroke-width="0.6"/>
<circle cx="142.80" cy="274.40" r="13.20" fill="none" stroke="#444" stroke-width="0.9"/>
<circle cx="142.80" cy="274.40" r="12.00" fill="none" stroke="#777" stroke-width="0.5"/>
<circle cx="142.80" cy="274.40" r="10.60" fill="none" stroke="#444" stroke-width="0.6"/>
<circle cx="142.80" cy="274.40" r="6.60" fill="none" stroke="#444" stroke-width="0.6"/>
<text x="142.80" y="276.40" font-size="5.60" fill="#222" text-anchor="middle" font-weight="bold">PUMP</text>
<line x1="131.00" y1="313.60" x2="131.00" y2="320.90" stroke="#444" stroke-width="0.8"/>
<line x1="154.30" y1="313.60" x2="154.30" y2="322.90" stroke="#444" stroke-width="0.8"/>
<line x1="131.00" y1="313.60" x2="154.30" y2="313.60" stroke="#444" stroke-width="0.8"/>
<rect x="114.60" y="327.40" width="2.10" height="21.30" rx="0" fill="#fff" stroke="#444" stroke-width="0.7"/>
<rect x="116.70" y="331.90" width="5.60" height="11.60" rx="0" fill="#fff" stroke="#444" stroke-width="0.7"/>
<rect x="160.60" y="331.90" width="5.60" height="11.60" rx="0" fill="#fff" stroke="#444" stroke-width="0.7"/>
<rect x="166.20" y="327.40" width="2.10" height="21.30" rx="0" fill="#ccc" stroke="#444" stroke-width="0.7"/>
<line x1="131.30" y1="353.90" x2="131.30" y2="361.30" stroke="#444" stroke-width="0.8"/>
<line x1="153.70" y1="353.90" x2="153.70" y2="361.30" stroke="#444" stroke-width="0.8"/>
<rect x="122.70" y="361.30" width="40.80" height="4.30" rx="0" fill="#fff" stroke="#444" stroke-width="0.8"/>
<circle cx="141.40" cy="337.90" r="19.60" fill="#fff" stroke="#444" stroke-width="0.8"/>
<circle cx="141.40" cy="337.90" r="18.40" fill="none" stroke="#777" stroke-width="0.6"/>
<circle cx="141.40" cy="337.90" r="13.20" fill="none" stroke="#444" stroke-width="0.9"/>
<circle cx="141.40" cy="337.90" r="12.00" fill="none" stroke="#777" stroke-width="0.5"/>
<circle cx="141.40" cy="337.90" r="10.60" fill="none" stroke="#444" stroke-width="0.6"/>
<circle cx="141.40" cy="337.90" r="6.60" fill="none" stroke="#444" stroke-width="0.6"/>
<text x="141.40" y="339.90" font-size="5.60" fill="#222" text-anchor="middle" font-weight="bold">PUMP</text>
<line x1="131.00" y1="380.40" x2="131.00" y2="387.70" stroke="#444" stroke-width="0.8"/>
<line x1="154.30" y1="380.40" x2="154.30" y2="389.70" stroke="#444" stroke-width="0.8"/>
<line x1="131.00" y1="380.40" x2="154.30" y2="380.40" stroke="#444" stroke-width="0.8"/>
<rect x="114.60" y="394.20" width="2.10" height="21.30" rx="0" fill="#fff" stroke="#444" stroke-width="0.7"/>
<rect x="116.70" y="398.70" width="5.60" height="11.60" rx="0" fill="#fff" stroke="#444" stroke-width="0.7"/>
<rect x="160.60" y="398.70" width="5.60" height="11.60" rx="0" fill="#fff" stroke="#444" stroke-width="0.7"/>
<rect x="166.20" y="394.20" width="2.10" height="21.30" rx="0" fill="#ccc" stroke="#444" stroke-width="0.7"/>
<line x1="131.30" y1="420.70" x2="131.30" y2="428.10" stroke="#444" stroke-width="0.8"/>
<line x1="153.70" y1="420.70" x2="153.70" y2="428.10" stroke="#444" stroke-width="0.8"/>
<rect x="122.70" y="428.10" width="40.80" height="4.30" rx="0" fill="#fff" stroke="#444" stroke-width="0.8"/>
<circle cx="141.40" cy="404.70" r="19.60" fill="#fff" stroke="#444" stroke-width="0.8"/>
<circle cx="141.40" cy="404.70" r="18.40" fill="none" stroke="#777" stroke-width="0.6"/>
<circle cx="141.40" cy="404.70" r="13.20" fill="none" stroke="#444" stroke-width="0.9"/>
<circle cx="141.40" cy="404.70" r="12.00" fill="none" stroke="#777" stroke-width="0.5"/>
<circle cx="141.40" cy="404.70" r="10.60" fill="none" stroke="#444" stroke-width="0.6"/>
<circle cx="141.40" cy="404.70" r="6.60" fill="none" stroke="#444" stroke-width="0.6"/>
<text x="141.40" y="406.70" font-size="5.60" fill="#222" text-anchor="middle" font-weight="bold">PUMP</text>
<path d="M40.10 258.00 L40.10 258.00 L34.20 267.40 L34.20 301.00 Q34.20 307.20 47.40 307.20 Q60.60 307.20 60.60 301.00 L60.60 267.40 L54.70 258.00" stroke="#555" stroke-width="0.7" fill="#fff"/>
<path d="M34.20 288.80 L34.20 301.00 Q34.20 307.20 47.40 307.20 Q60.60 307.20 60.60 301.00 L60.60 288.80 Z" stroke="#555" stroke-width="0.6" fill="#c9ac8c"/>
<ellipse cx="47.40" cy="288.80" rx="13.20" ry="3.40" fill="#c9ac8c" stroke="#444" stroke-width="0.7"/>
<line x1="40.10" y1="252.70" x2="40.10" y2="258.00" stroke="#555" stroke-width="0.7"/>
<line x1="54.70" y1="252.70" x2="54.70" y2="258.00" stroke="#555" stroke-width="0.7"/>
<ellipse cx="47.40" cy="252.70" rx="8.20" ry="1.60" fill="#fff" stroke="#555" stroke-width="0.7"/>
<ellipse cx="47.40" cy="258.00" rx="7.40" ry="1.60" fill="none" stroke="#555" stroke-width="0.6"/>
<text x="47.40" y="300.80" font-size="6.00" fill="#222" text-anchor="middle" font-weight="bold">Medium</text>
<path d="M38.90 325.80 L38.90 325.80 L33.00 335.20 L33.00 368.80 Q33.00 375.00 46.20 375.00 Q59.40 375.00 59.40 368.80 L59.40 335.20 L53.50 325.80" stroke="#555" stroke-width="0.7" fill="#fff"/>
<path d="M33.00 356.60 L33.00 368.80 Q33.00 375.00 46.20 375.00 Q59.40 375.00 59.40 368.80 L59.40 356.60 Z" stroke="#555" stroke-width="0.6" fill="#c9ac8c"/>
<ellipse cx="46.20" cy="356.60" rx="13.20" ry="3.40" fill="#c9ac8c" stroke="#444" stroke-width="0.7"/>
<line x1="38.90" y1="320.50" x2="38.90" y2="325.80" stroke="#555" stroke-width="0.7"/>
<line x1="53.50" y1="320.50" x2="53.50" y2="325.80" stroke="#555" stroke-width="0.7"/>
<ellipse cx="46.20" cy="320.50" rx="8.20" ry="1.60" fill="#fff" stroke="#555" stroke-width="0.7"/>
<ellipse cx="46.20" cy="325.80" rx="7.40" ry="1.60" fill="none" stroke="#555" stroke-width="0.6"/>
<text x="46.20" y="368.60" font-size="6.00" fill="#222" text-anchor="middle" font-weight="bold">Solvent I</text>
<path d="M37.80 393.60 L37.80 393.60 L31.90 403.00 L31.90 436.60 Q31.90 442.80 45.10 442.80 Q58.30 442.80 58.30 436.60 L58.30 403.00 L52.40 393.60" stroke="#555" stroke-width="0.7" fill="#fff"/>
<path d="M31.90 424.40 L31.90 436.60 Q31.90 442.80 45.10 442.80 Q58.30 442.80 58.30 436.60 L58.30 424.40 Z" stroke="#555" stroke-width="0.6" fill="#c9ac8c"/>
<ellipse cx="45.10" cy="424.40" rx="13.20" ry="3.40" fill="#c9ac8c" stroke="#444" stroke-width="0.7"/>
<line x1="37.80" y1="388.30" x2="37.80" y2="393.60" stroke="#555" stroke-width="0.7"/>
<line x1="52.40" y1="388.30" x2="52.40" y2="393.60" stroke="#555" stroke-width="0.7"/>
<ellipse cx="45.10" cy="388.30" rx="8.20" ry="1.60" fill="#fff" stroke="#555" stroke-width="0.7"/>
<ellipse cx="45.10" cy="393.60" rx="7.40" ry="1.60" fill="none" stroke="#555" stroke-width="0.6"/>
<text x="45.10" y="436.40" font-size="6.00" fill="#222" text-anchor="middle" font-weight="bold">Solvent II</text>
<line x1="47.40" y1="250.00" x2="47.40" y2="287.50" stroke="#222" stroke-width="0.9"/>
<line x1="46.20" y1="318.00" x2="46.20" y2="355.00" stroke="#222" stroke-width="0.9"/>
<line x1="45.00" y1="386.00" x2="45.00" y2="423.00" stroke="#222" stroke-width="0.9"/>
<rect x="304.30" y="254.50" width="8.80" height="17.00" rx="0" fill="#3f3f3f" stroke="none" stroke-width="1"/>
<line x1="308.70" y1="271.50" x2="308.70" y2="322.00" stroke="#333" stroke-width="0.9"/>
<path d="M288 279.70 L288 326.50 Q288 332.50 308.6 332.50 Q329.2 332.50 329.2 326.50 L329.2 279.70" stroke="#333" stroke-width="1" fill="none"/>
<line x1="284.80" y1="279.70" x2="333.00" y2="279.70" stroke="#333" stroke-width="1.5"/>
<line x1="288.00" y1="299.50" x2="329.20" y2="299.50" stroke="#333" stroke-width="0.8"/>
<polygon points="299.70,306.20 308.70,310.40 299.70,314.60 317.70,306.20 308.70,310.40 317.70,314.60" fill="#555"/>
<polygon points="299.70,306.20 308.70,310.40 299.70,314.60" fill="#555"/>
<polygon points="317.70,306.20 308.70,310.40 317.70,314.60" fill="#555"/>
<polygon points="299.70,315.40 308.70,319.60 299.70,323.80 317.70,315.40 308.70,319.60 317.70,323.80" fill="#555"/>
<polygon points="299.70,315.40 308.70,319.60 299.70,323.80" fill="#555"/>
<polygon points="317.70,315.40 308.70,319.60 317.70,323.80" fill="#555"/>
<line x1="290.00" y1="325.70" x2="327.00" y2="325.70" stroke="#444" stroke-width="0.7" stroke-dasharray="2 1.5"/>
<ellipse cx="305.78" cy="330.59" rx="0.75" ry="0.48" fill="#666" stroke="none" stroke-width="1"/>
<ellipse cx="297.74" cy="328.00" rx="0.79" ry="0.50" fill="#666" stroke="none" stroke-width="1"/>
<ellipse cx="311.63" cy="328.11" rx="1.68" ry="1.08" fill="#666" stroke="none" stroke-width="1"/>
<ellipse cx="320.55" cy="330.27" rx="1.09" ry="0.70" fill="#666" stroke="none" stroke-width="1"/>
<ellipse cx="291.19" cy="329.44" rx="1.40" ry="0.90" fill="#666" stroke="none" stroke-width="1"/>
<ellipse cx="324.78" cy="330.44" rx="1.16" ry="0.75" fill="#666" stroke="none" stroke-width="1"/>
<ellipse cx="313.13" cy="329.02" rx="1.40" ry="0.90" fill="#666" stroke="none" stroke-width="1"/>
<ellipse cx="310.14" cy="329.71" rx="1.38" ry="0.89" fill="#666" stroke="none" stroke-width="1"/>
<ellipse cx="301.44" cy="327.44" rx="1.32" ry="0.85" fill="#666" stroke="none" stroke-width="1"/>
<ellipse cx="316.66" cy="329.21" rx="1.22" ry="0.78" fill="#666" stroke="none" stroke-width="1"/>
<ellipse cx="320.91" cy="330.13" rx="1.67" ry="1.08" fill="#666" stroke="none" stroke-width="1"/>
<ellipse cx="297.78" cy="329.95" rx="1.23" ry="0.79" fill="#666" stroke="none" stroke-width="1"/>
<ellipse cx="296.47" cy="330.78" rx="0.73" ry="0.47" fill="#666" stroke="none" stroke-width="1"/>
<ellipse cx="311.91" cy="331.39" rx="1.53" ry="0.98" fill="#666" stroke="none" stroke-width="1"/>
<ellipse cx="313.80" cy="330.31" rx="1.11" ry="0.71" fill="#666" stroke="none" stroke-width="1"/>
<ellipse cx="319.27" cy="329.17" rx="1.57" ry="1.01" fill="#666" stroke="none" stroke-width="1"/>
<ellipse cx="317.14" cy="331.32" rx="1.20" ry="0.77" fill="#666" stroke="none" stroke-width="1"/>
<ellipse cx="323.92" cy="330.76" rx="1.50" ry="0.97" fill="#666" stroke="none" stroke-width="1"/>
<ellipse cx="291.91" cy="329.42" rx="1.31" ry="0.84" fill="#666" stroke="none" stroke-width="1"/>
<ellipse cx="294.59" cy="329.24" rx="1.46" ry="0.94" fill="#666" stroke="none" stroke-width="1"/>
<ellipse cx="303.20" cy="330.05" rx="1.32" ry="0.85" fill="#666" stroke="none" stroke-width="1"/>
<ellipse cx="326.42" cy="331.45" rx="1.45" ry="0.93" fill="#666" stroke="none" stroke-width="1"/>
<ellipse cx="298.93" cy="327.34" rx="0.78" ry="0.50" fill="#666" stroke="none" stroke-width="1"/>
<ellipse cx="322.91" cy="328.18" rx="1.36" ry="0.87" fill="#666" stroke="none" stroke-width="1"/>
<ellipse cx="318.03" cy="330.85" rx="0.77" ry="0.49" fill="#666" stroke="none" stroke-width="1"/>
<ellipse cx="310.52" cy="331.08" rx="1.21" ry="0.78" fill="#666" stroke="none" stroke-width="1"/>
<ellipse cx="324.49" cy="328.78" rx="1.57" ry="1.01" fill="#666" stroke="none" stroke-width="1"/>
<ellipse cx="314.57" cy="330.41" rx="1.57" ry="1.01" fill="#666" stroke="none" stroke-width="1"/>
<ellipse cx="309.84" cy="329.18" rx="1.46" ry="0.94" fill="#666" stroke="none" stroke-width="1"/>
<ellipse cx="314.42" cy="328.27" rx="1.40" ry="0.90" fill="#666" stroke="none" stroke-width="1"/>
<rect x="304.30" y="361.00" width="8.80" height="17.00" rx="0" fill="#3f3f3f" stroke="none" stroke-width="1"/>
<line x1="308.70" y1="378.00" x2="308.70" y2="428.00" stroke="#333" stroke-width="0.9"/>
<path d="M288 386.50 L288 438.00 Q288 444.00 308.6 444.00 Q329.2 444.00 329.2 438.00 L329.2 386.50" stroke="#333" stroke-width="1" fill="none"/>
<line x1="284.80" y1="386.50" x2="333.00" y2="386.50" stroke="#333" stroke-width="1.5"/>
<line x1="288.00" y1="405.60" x2="329.20" y2="405.60" stroke="#333" stroke-width="0.8"/>
<polygon points="299.70,412.60 308.70,416.80 299.70,421.00 317.70,412.60 308.70,416.80 317.70,421.00" fill="#555"/>
<polygon points="299.70,412.60 308.70,416.80 299.70,421.00" fill="#555"/>
<polygon points="317.70,412.60 308.70,416.80 317.70,421.00" fill="#555"/>
<polygon points="299.70,422.00 308.70,426.20 299.70,430.40 317.70,422.00 308.70,426.20 317.70,430.40" fill="#555"/>
<polygon points="299.70,422.00 308.70,426.20 299.70,430.40" fill="#555"/>
<polygon points="317.70,422.00 308.70,426.20 317.70,430.40" fill="#555"/>
<line x1="290.00" y1="432.20" x2="327.00" y2="432.20" stroke="#444" stroke-width="0.7" stroke-dasharray="2 1.5"/>
<ellipse cx="313.39" cy="440.10" rx="1.23" ry="0.79" fill="#666" stroke="none" stroke-width="1"/>
<ellipse cx="306.02" cy="442.84" rx="0.73" ry="0.47" fill="#666" stroke="none" stroke-width="1"/>
<ellipse cx="323.37" cy="436.02" rx="1.46" ry="0.94" fill="#666" stroke="none" stroke-width="1"/>
<ellipse cx="315.85" cy="435.92" rx="1.51" ry="0.97" fill="#666" stroke="none" stroke-width="1"/>
<ellipse cx="301.56" cy="442.97" rx="1.03" ry="0.66" fill="#666" stroke="none" stroke-width="1"/>
<ellipse cx="326.63" cy="435.40" rx="1.39" ry="0.90" fill="#666" stroke="none" stroke-width="1"/>
<ellipse cx="323.99" cy="433.92" rx="0.78" ry="0.50" fill="#666" stroke="none" stroke-width="1"/>
<ellipse cx="295.73" cy="435.56" rx="1.46" ry="0.94" fill="#666" stroke="none" stroke-width="1"/>
<ellipse cx="307.04" cy="434.86" rx="1.15" ry="0.74" fill="#666" stroke="none" stroke-width="1"/>
<ellipse cx="299.12" cy="442.14" rx="0.77" ry="0.49" fill="#666" stroke="none" stroke-width="1"/>
<ellipse cx="299.07" cy="441.30" rx="1.03" ry="0.66" fill="#666" stroke="none" stroke-width="1"/>
<ellipse cx="292.61" cy="437.94" rx="1.19" ry="0.77" fill="#666" stroke="none" stroke-width="1"/>
<ellipse cx="304.06" cy="440.72" rx="1.23" ry="0.79" fill="#666" stroke="none" stroke-width="1"/>
<ellipse cx="323.59" cy="441.05" rx="1.40" ry="0.90" fill="#666" stroke="none" stroke-width="1"/>
<ellipse cx="292.71" cy="434.78" rx="1.21" ry="0.78" fill="#666" stroke="none" stroke-width="1"/>
<ellipse cx="310.83" cy="436.44" rx="1.35" ry="0.87" fill="#666" stroke="none" stroke-width="1"/>
<ellipse cx="305.95" cy="436.74" rx="1.17" ry="0.75" fill="#666" stroke="none" stroke-width="1"/>
<ellipse cx="324.44" cy="440.83" rx="0.99" ry="0.64" fill="#666" stroke="none" stroke-width="1"/>
<ellipse cx="313.90" cy="438.34" rx="0.99" ry="0.64" fill="#666" stroke="none" stroke-width="1"/>
<ellipse cx="296.95" cy="441.70" rx="1.32" ry="0.85" fill="#666" stroke="none" stroke-width="1"/>
<ellipse cx="324.29" cy="433.84" rx="0.74" ry="0.48" fill="#666" stroke="none" stroke-width="1"/>
<ellipse cx="302.86" cy="442.93" rx="0.99" ry="0.64" fill="#666" stroke="none" stroke-width="1"/>
<ellipse cx="306.79" cy="437.55" rx="1.31" ry="0.84" fill="#666" stroke="none" stroke-width="1"/>
<ellipse cx="295.08" cy="440.37" rx="1.50" ry="0.97" fill="#666" stroke="none" stroke-width="1"/>
<ellipse cx="299.10" cy="435.85" rx="0.88" ry="0.57" fill="#666" stroke="none" stroke-width="1"/>
<ellipse cx="294.35" cy="436.60" rx="1.18" ry="0.76" fill="#666" stroke="none" stroke-width="1"/>
<ellipse cx="304.88" cy="441.28" rx="1.16" ry="0.75" fill="#666" stroke="none" stroke-width="1"/>
<ellipse cx="316.76" cy="439.63" rx="1.14" ry="0.73" fill="#666" stroke="none" stroke-width="1"/>
<ellipse cx="300.16" cy="438.37" rx="0.90" ry="0.58" fill="#666" stroke="none" stroke-width="1"/>
<ellipse cx="318.20" cy="435.03" rx="1.13" ry="0.72" fill="#666" stroke="none" stroke-width="1"/>
<text x="309.90" y="347.40" font-size="7.30" fill="#222" text-anchor="middle" font-weight="bold">Reactor</text>
<line x1="309.00" y1="352.00" x2="309.00" y2="361.00" stroke="#444" stroke-width="0.8" stroke-dasharray="1 1.5"/>
<path d="M206 379.6 L291.6 436.6" stroke="#6b3a5e" stroke-width="0.8" fill="none"/>
<path d="M268 379.6 L300.3 436" stroke="#6b3a5e" stroke-width="0.8" fill="none"/>
<rect x="291.50" y="432.80" width="9.00" height="5.20" rx="0" fill="none" stroke="#6b3a5e" stroke-width="0.8"/>
<rect x="178.80" y="336.60" width="102.00" height="42.80" rx="6" fill="#fff" stroke="#6b3a5e" stroke-width="1.1"/>
<path d="M194.13 372.42 L196.16 372.53 L197.78 371.97 L198.89 370.94 L199.46 369.70 L199.54 368.56 L199.26 367.79 L198.78 367.56 L198.30 367.96 L197.99 368.90 L198.00 370.19 L198.39 371.56 L199.17 372.70 L200.25 373.35 L201.49 373.33 L202.72 372.57 L203.72 371.15 L204.32 369.27 L204.38 367.21 L203.84 365.27 L202.70 363.73 L201.07 362.77 L199.09 362.44 L196.98 362.69 L194.93 363.30 L193.13 364.01 L191.74 364.52 L190.81 364.56 L190.36 363.96 L190.29 362.68 L190.46 360.80 L190.70 358.51 L190.82 356.12 L190.65 353.92 L190.09 352.18 L189.10 351.08 L187.71 350.69 L186.04 350.90 L184.26 351.54 L182.58 352.32 L181.18 352.93 L180.25 353.13 L179.91 352.74 L180.18 351.72 L181.03 350.16 L182.36 348.26 L183.97 346.33 L185.69 344.64 L187.29 343.48 L188.62 343.02 L189.56 343.29 L190.08 344.20 L190.21 345.55 L190.06 347.06 L189.80 348.41 L189.61 349.36 L189.68 349.74 L190.14 349.50 L191.07 348.74 L192.49 347.67 L194.31 346.57 L196.40 345.74 L198.56 345.44 L200.58 345.82 L202.27 346.93 L203.46 348.66 L204.07 350.79 L204.08 353.03 L203.55 355.08 L202.63 356.67 L201.48 357.65 L200.31 357.98 L199.30 357.75 L198.60 357.18 L198.28 356.55 L198.34 356.16 L198.71 356.25 L199.25 356.99 L199.78 358.38 L200.11 360.33 L200.06 362.61 L199.52 364.93 L198.44 366.98 L196.83 368.51 L194.81 369.36 L192.54 369.50 L190.22 369.04 L188.07 368.19 L186.28 367.24 L184.98 366.49 L184.23 366.19 L184.03 366.48 L184.28 367.39 L184.83 368.79 L185.51 370.47 L186.10 372.14 L186.47 373.48 L186.48 374.26 L186.10 374.33 L185.38 373.67 L184.41 372.39 L183.37 370.72 L182.45 368.96 L181.83 367.40 L181.69 366.29 L182.11 365.79 L183.13 365.89 L184.69 366.50 L186.66 367.38 L188.85 368.24 L191.06 368.78 L193.08 368.78 L194.75 368.08 L195.94 366.69 L196.63 364.73 L196.86 362.43 L196.75 360.09 L196.46 358.02 L196.17 356.45 L196.07 355.54 L196.29 355.28 L196.92 355.57 L197.95 356.18 L199.31 356.80 L200.87 357.16 L202.42 357.01 L203.78 356.22 L204.74 354.80 L205.17 352.88 L204.99 350.69 L204.20 348.54 L202.89 346.73 L201.19 345.49 L199.31 344.96 L197.45 345.14 L195.81 345.90 L194.52 347.01 L193.66 348.18 L193.24 349.10 L193.18 349.55 L193.35 349.39 L193.56 348.64 L193.63 347.43 L193.39 345.99 L192.74 344.63 L191.62 343.64 L190.07 343.24 L188.20 343.58 L186.18 344.62 L184.21 346.24" stroke="#222" stroke-width="0.45" fill="none"/>
<circle cx="213.00" cy="362.00" r="9.60" fill="#cbcbcb" stroke="none" stroke-width="1"/>
<circle cx="221.00" cy="352.50" r="7.60" fill="#cbcbcb" stroke="none" stroke-width="1"/>
<circle cx="226.50" cy="365.00" r="7.20" fill="#cbcbcb" stroke="none" stroke-width="1"/>
<circle cx="218.00" cy="368.00" r="6.00" fill="#cbcbcb" stroke="none" stroke-width="1"/>
<text x="218.60" y="361.60" font-size="5.80" fill="#333" text-anchor="middle" font-weight="bold">PmCDA1</text>
<path d="M230 351.5 Q230 343.5 232.7 343.5 Q235.5 343.5 235.5 351.5" stroke="#000" stroke-width="1.5" fill="none"/>
<ellipse cx="261.70" cy="351.60" rx="15.70" ry="8.20" fill="#6b9db3" stroke="none" stroke-width="1"/>
<ellipse cx="261.70" cy="366.60" rx="15.70" ry="9.00" fill="#5ab0e2" stroke="none" stroke-width="1"/>
<circle cx="240.80" cy="351.80" r="5.00" fill="#c9a889" stroke="none" stroke-width="1"/>
<circle cx="240.80" cy="367.00" r="5.00" fill="#c9a889" stroke="none" stroke-width="1"/>
<text x="240.80" y="353.70" font-size="5.50" fill="#333" text-anchor="middle" font-weight="bold">α</text>
<text x="240.80" y="369.00" font-size="5.50" fill="#333" text-anchor="middle" font-weight="bold">α</text>
<text x="262.00" y="354.60" font-size="8.50" fill="#111" text-anchor="middle" font-weight="bold">β</text>
<text x="262.00" y="369.70" font-size="8.50" fill="#111" text-anchor="middle" font-weight="bold">β</text>
<rect x="168.00" y="428.50" width="62.00" height="19.00" rx="0" fill="#e8eaf4" stroke="none" stroke-width="1"/>
<text x="173.70" y="441.30" font-size="9.62" fill="#111" font-weight="bold">GTMS-ALE</text>
<line x1="23.00" y1="453.30" x2="338.00" y2="453.30" stroke="#8f8290" stroke-width="0.8" stroke-dasharray="3 2.5"/>
<text x="354.60" y="271.60" font-size="11.00" fill="#000" font-weight="bold">d</text>
<path d="M393.90 464.23 L397.80 450.08 L401.70 418.40 L405.40 342.24 L409.40 282.93" stroke="#8a8a8a" stroke-width="0.55" fill="none"/>
<path d="M413.00 464.23 L416.70 452.10 L420.90 416.38 L424.60 334.15 L428.30 281.58" stroke="#8a8a8a" stroke-width="0.55" fill="none"/>
<path d="M432.00 464.23 L436.40 456.82 L439.80 427.16 L443.80 392.12 L447.50 353.02" stroke="#8a8a8a" stroke-width="0.55" fill="none"/>
<path d="M451.70 464.23 L455.10 456.15 L459.00 424.47 L462.70 389.42 L466.90 349.65" stroke="#8a8a8a" stroke-width="0.55" fill="none"/>
<path d="M489.80 464.23 L493.60 451.43 L497.30 437.27 L501.50 417.05 L505.20 392.12" stroke="#8a8a8a" stroke-width="0.55" fill="none"/>
<path d="M509.10 464.23 L512.90 455.81 L516.60 439.97 L520.40 425.14 L524.50 408.29" stroke="#8a8a8a" stroke-width="0.55" fill="none"/>
<path d="M528.30 464.23 L531.80 455.81 L535.90 439.97 L539.70 425.14 L543.60 408.29" stroke="#8a8a8a" stroke-width="0.55" fill="none"/>
<path d="M547.20 464.23 L551.10 454.80 L555.00 441.32 L559.00 430.87 L562.80 424.81" stroke="#8a8a8a" stroke-width="0.55" fill="none"/>
<path d="M566.30 464.23 L570.00 454.80 L574.20 441.32 L578.30 430.87 L582.00 424.47" stroke="#8a8a8a" stroke-width="0.55" fill="none"/>
<path d="M585.90 466.26 L589.70 458.17 L593.20 450.75 L597.20 441.99" stroke="#8a8a8a" stroke-width="0.55" fill="none"/>
<path d="M601.30 466.26 L604.80 458.17 L608.60 450.75 L612.60 441.99" stroke="#8a8a8a" stroke-width="0.55" fill="none"/>
<path d="M616.10 466.26 L619.60 459.52 L623.70 456.15 L626.90 452.10" stroke="#8a8a8a" stroke-width="0.55" fill="none"/>
<path d="M631.50 466.26 L635.00 459.52 L639.10 456.15 L642.60 452.10" stroke="#8a8a8a" stroke-width="0.55" fill="none"/>
<line x1="429.20" y1="277.30" x2="432.10" y2="373.80" stroke="#f06060" stroke-width="0.6"/>
<line x1="467.20" y1="373.80" x2="470.20" y2="422.05" stroke="#f06060" stroke-width="0.6"/>
<line x1="505.30" y1="422.05" x2="508.30" y2="446.18" stroke="#f06060" stroke-width="0.6"/>
<line x1="543.90" y1="446.18" x2="546.90" y2="458.24" stroke="#f06060" stroke-width="0.6"/>
<line x1="581.90" y1="458.24" x2="585.20" y2="463.06" stroke="#f06060" stroke-width="0.6"/>
<line x1="613.30" y1="463.06" x2="616.30" y2="466.73" stroke="#f06060" stroke-width="0.6"/>
<rect x="391.90" y="275.50" width="38.80" height="3.60" rx="0" fill="#3d6882" stroke="none" stroke-width="1"/>
<rect x="430.60" y="372.00" width="38.10" height="3.60" rx="0" fill="#3d6882" stroke="none" stroke-width="1"/>
<rect x="468.70" y="420.25" width="38.10" height="3.60" rx="0" fill="#3d6882" stroke="none" stroke-width="1"/>
<rect x="506.80" y="444.38" width="38.60" height="3.60" rx="0" fill="#3d6882" stroke="none" stroke-width="1"/>
<rect x="545.40" y="456.44" width="38.00" height="3.60" rx="0" fill="#3d6882" stroke="none" stroke-width="1"/>
<rect x="583.70" y="461.26" width="31.10" height="3.60" rx="0" fill="#3d6882" stroke="none" stroke-width="1"/>
<rect x="614.80" y="464.93" width="29.70" height="3.60" rx="0" fill="#3d6882" stroke="none" stroke-width="1"/>
<circle cx="393.90" cy="464.23" r="2.05" fill="#444" stroke="none" stroke-width="1"/>
<circle cx="397.80" cy="450.08" r="2.05" fill="#444" stroke="none" stroke-width="1"/>
<circle cx="401.70" cy="418.40" r="2.05" fill="#444" stroke="none" stroke-width="1"/>
<circle cx="405.40" cy="342.24" r="2.05" fill="#444" stroke="none" stroke-width="1"/>
<circle cx="409.40" cy="282.93" r="2.05" fill="#444" stroke="none" stroke-width="1"/>
<circle cx="413.00" cy="464.23" r="2.05" fill="#444" stroke="none" stroke-width="1"/>
<circle cx="416.70" cy="452.10" r="2.05" fill="#444" stroke="none" stroke-width="1"/>
<circle cx="420.90" cy="416.38" r="2.05" fill="#444" stroke="none" stroke-width="1"/>
<circle cx="424.60" cy="334.15" r="2.05" fill="#444" stroke="none" stroke-width="1"/>
<circle cx="428.30" cy="281.58" r="2.05" fill="#444" stroke="none" stroke-width="1"/>
<circle cx="432.00" cy="464.23" r="2.05" fill="#444" stroke="none" stroke-width="1"/>
<circle cx="436.40" cy="456.82" r="2.05" fill="#444" stroke="none" stroke-width="1"/>
<circle cx="439.80" cy="427.16" r="2.05" fill="#444" stroke="none" stroke-width="1"/>
<circle cx="443.80" cy="392.12" r="2.05" fill="#444" stroke="none" stroke-width="1"/>
<circle cx="447.50" cy="353.02" r="2.05" fill="#444" stroke="none" stroke-width="1"/>
<circle cx="451.70" cy="464.23" r="2.05" fill="#444" stroke="none" stroke-width="1"/>
<circle cx="455.10" cy="456.15" r="2.05" fill="#444" stroke="none" stroke-width="1"/>
<circle cx="459.00" cy="424.47" r="2.05" fill="#444" stroke="none" stroke-width="1"/>
<circle cx="462.70" cy="389.42" r="2.05" fill="#444" stroke="none" stroke-width="1"/>
<circle cx="466.90" cy="349.65" r="2.05" fill="#444" stroke="none" stroke-width="1"/>
<circle cx="470.90" cy="464.23" r="2.05" fill="#444" stroke="none" stroke-width="1"/>
<circle cx="474.50" cy="453.45" r="2.05" fill="#444" stroke="none" stroke-width="1"/>
<circle cx="478.40" cy="431.21" r="2.05" fill="#444" stroke="none" stroke-width="1"/>
<circle cx="482.20" cy="421.77" r="2.05" fill="#444" stroke="none" stroke-width="1"/>
<circle cx="485.90" cy="396.83" r="2.05" fill="#444" stroke="none" stroke-width="1"/>
<circle cx="489.80" cy="464.23" r="2.05" fill="#444" stroke="none" stroke-width="1"/>
<circle cx="493.60" cy="451.43" r="2.05" fill="#444" stroke="none" stroke-width="1"/>
<circle cx="497.30" cy="437.27" r="2.05" fill="#444" stroke="none" stroke-width="1"/>
<circle cx="501.50" cy="417.05" r="2.05" fill="#444" stroke="none" stroke-width="1"/>
<circle cx="505.20" cy="392.12" r="2.05" fill="#444" stroke="none" stroke-width="1"/>
<circle cx="509.10" cy="464.23" r="2.05" fill="#444" stroke="none" stroke-width="1"/>
<circle cx="512.90" cy="455.81" r="2.05" fill="#444" stroke="none" stroke-width="1"/>
<circle cx="516.60" cy="439.97" r="2.05" fill="#444" stroke="none" stroke-width="1"/>
<circle cx="520.40" cy="425.14" r="2.05" fill="#444" stroke="none" stroke-width="1"/>
<circle cx="524.50" cy="408.29" r="2.05" fill="#444" stroke="none" stroke-width="1"/>
<circle cx="528.30" cy="464.23" r="2.05" fill="#444" stroke="none" stroke-width="1"/>
<circle cx="531.80" cy="455.81" r="2.05" fill="#444" stroke="none" stroke-width="1"/>
<circle cx="535.90" cy="439.97" r="2.05" fill="#444" stroke="none" stroke-width="1"/>
<circle cx="539.70" cy="425.14" r="2.05" fill="#444" stroke="none" stroke-width="1"/>
<circle cx="543.60" cy="408.29" r="2.05" fill="#444" stroke="none" stroke-width="1"/>
<circle cx="547.20" cy="464.23" r="2.05" fill="#444" stroke="none" stroke-width="1"/>
<circle cx="551.10" cy="454.80" r="2.05" fill="#444" stroke="none" stroke-width="1"/>
<circle cx="555.00" cy="441.32" r="2.05" fill="#444" stroke="none" stroke-width="1"/>
<circle cx="559.00" cy="430.87" r="2.05" fill="#444" stroke="none" stroke-width="1"/>
<circle cx="562.80" cy="424.81" r="2.05" fill="#444" stroke="none" stroke-width="1"/>
<circle cx="566.30" cy="464.23" r="2.05" fill="#444" stroke="none" stroke-width="1"/>
<circle cx="570.00" cy="454.80" r="2.05" fill="#444" stroke="none" stroke-width="1"/>
<circle cx="574.20" cy="441.32" r="2.05" fill="#444" stroke="none" stroke-width="1"/>
<circle cx="578.30" cy="430.87" r="2.05" fill="#444" stroke="none" stroke-width="1"/>
<circle cx="582.00" cy="424.47" r="2.05" fill="#444" stroke="none" stroke-width="1"/>
<circle cx="585.90" cy="466.26" r="2.05" fill="#444" stroke="none" stroke-width="1"/>
<circle cx="589.70" cy="458.17" r="2.05" fill="#444" stroke="none" stroke-width="1"/>
<circle cx="593.20" cy="450.75" r="2.05" fill="#444" stroke="none" stroke-width="1"/>
<circle cx="597.20" cy="441.99" r="2.05" fill="#444" stroke="none" stroke-width="1"/>
<circle cx="601.30" cy="466.26" r="2.05" fill="#444" stroke="none" stroke-width="1"/>
<circle cx="604.80" cy="458.17" r="2.05" fill="#444" stroke="none" stroke-width="1"/>
<circle cx="608.60" cy="450.75" r="2.05" fill="#444" stroke="none" stroke-width="1"/>
<circle cx="612.60" cy="441.99" r="2.05" fill="#444" stroke="none" stroke-width="1"/>
<circle cx="616.10" cy="466.26" r="2.05" fill="#444" stroke="none" stroke-width="1"/>
<circle cx="619.60" cy="459.52" r="2.05" fill="#444" stroke="none" stroke-width="1"/>
<circle cx="623.70" cy="456.15" r="2.05" fill="#444" stroke="none" stroke-width="1"/>
<circle cx="626.90" cy="452.10" r="2.05" fill="#444" stroke="none" stroke-width="1"/>
<circle cx="631.50" cy="466.26" r="2.05" fill="#444" stroke="none" stroke-width="1"/>
<circle cx="635.00" cy="459.52" r="2.05" fill="#444" stroke="none" stroke-width="1"/>
<circle cx="639.10" cy="456.15" r="2.05" fill="#444" stroke="none" stroke-width="1"/>
<circle cx="642.60" cy="452.10" r="2.05" fill="#444" stroke="none" stroke-width="1"/>
<text x="395.60" y="274.20" font-size="11.52" fill="#3d6882" font-weight="bold">20mM</text>
<text x="433.50" y="370.60" font-size="11.60" fill="#3d6882" font-weight="bold">10mM</text>
<text x="474.40" y="418.10" font-size="11.24" fill="#3d6882" font-weight="bold">5mM</text>
<text x="507.70" y="438.60" font-size="11.43" fill="#3d6882" font-weight="bold">2.5mM</text>
<text x="545.80" y="452.20" font-size="11.37" fill="#3d6882" font-weight="bold">1.25mM</text>
<text x="584.30" y="440.20" font-size="11.48" fill="#3d6882" font-weight="bold">0.75mM</text>
<text x="610.70" y="451.10" font-size="11.48" fill="#3d6882" font-weight="bold">0.37mM</text>
<line x1="390.50" y1="267.50" x2="390.50" y2="470.80" stroke="#7a7a7a" stroke-width="1"/>
<line x1="390.00" y1="470.50" x2="651.00" y2="470.50" stroke="#7a7a7a" stroke-width="1"/>
<line x1="387.00" y1="470.30" x2="390.50" y2="470.30" stroke="#7a7a7a" stroke-width="0.8"/>
<text x="385.30" y="474.30" font-size="12.00" fill="#555" text-anchor="end">0.0</text>
<line x1="388.50" y1="453.45" x2="390.50" y2="453.45" stroke="#7a7a7a" stroke-width="0.8"/>
<line x1="387.00" y1="436.60" x2="390.50" y2="436.60" stroke="#7a7a7a" stroke-width="0.8"/>
<text x="385.30" y="440.60" font-size="12.00" fill="#555" text-anchor="end">0.5</text>
<line x1="388.50" y1="419.75" x2="390.50" y2="419.75" stroke="#7a7a7a" stroke-width="0.8"/>
<line x1="387.00" y1="402.90" x2="390.50" y2="402.90" stroke="#7a7a7a" stroke-width="0.8"/>
<text x="385.30" y="406.90" font-size="12.00" fill="#555" text-anchor="end">1.0</text>
<line x1="388.50" y1="386.05" x2="390.50" y2="386.05" stroke="#7a7a7a" stroke-width="0.8"/>
<line x1="387.00" y1="369.20" x2="390.50" y2="369.20" stroke="#7a7a7a" stroke-width="0.8"/>
<text x="385.30" y="373.20" font-size="12.00" fill="#555" text-anchor="end">1.5</text>
<line x1="388.50" y1="352.35" x2="390.50" y2="352.35" stroke="#7a7a7a" stroke-width="0.8"/>
<line x1="387.00" y1="335.50" x2="390.50" y2="335.50" stroke="#7a7a7a" stroke-width="0.8"/>
<text x="385.30" y="339.50" font-size="12.00" fill="#555" text-anchor="end">2.0</text>
<line x1="388.50" y1="318.65" x2="390.50" y2="318.65" stroke="#7a7a7a" stroke-width="0.8"/>
<line x1="387.00" y1="301.80" x2="390.50" y2="301.80" stroke="#7a7a7a" stroke-width="0.8"/>
<text x="385.30" y="305.80" font-size="12.00" fill="#555" text-anchor="end">2.5</text>
<line x1="388.50" y1="284.95" x2="390.50" y2="284.95" stroke="#7a7a7a" stroke-width="0.8"/>
<line x1="387.00" y1="268.10" x2="390.50" y2="268.10" stroke="#7a7a7a" stroke-width="0.8"/>
<text x="385.30" y="272.10" font-size="12.00" fill="#555" text-anchor="end">3.0</text>
<line x1="393.60" y1="470.40" x2="393.60" y2="473.50" stroke="#7a7a7a" stroke-width="0.8"/>
<text x="393.60" y="481.30" font-size="10.00" fill="#333" text-anchor="middle">1</text>
<line x1="413.00" y1="470.40" x2="413.00" y2="473.50" stroke="#7a7a7a" stroke-width="0.8"/>
<text x="413.00" y="481.30" font-size="10.00" fill="#333" text-anchor="middle">2</text>
<line x1="432.10" y1="470.40" x2="432.10" y2="473.50" stroke="#7a7a7a" stroke-width="0.8"/>
<text x="432.10" y="481.30" font-size="10.00" fill="#333" text-anchor="middle">3</text>
<line x1="451.80" y1="470.40" x2="451.80" y2="473.50" stroke="#7a7a7a" stroke-width="0.8"/>
<text x="451.80" y="481.30" font-size="10.00" fill="#333" text-anchor="middle">4</text>
<line x1="470.90" y1="470.40" x2="470.90" y2="473.50" stroke="#7a7a7a" stroke-width="0.8"/>
<text x="470.90" y="481.30" font-size="10.00" fill="#333" text-anchor="middle">5</text>
<line x1="489.80" y1="470.40" x2="489.80" y2="473.50" stroke="#7a7a7a" stroke-width="0.8"/>
<text x="489.80" y="481.30" font-size="10.00" fill="#333" text-anchor="middle">6</text>
<line x1="509.10" y1="470.40" x2="509.10" y2="473.50" stroke="#7a7a7a" stroke-width="0.8"/>
<text x="509.10" y="481.30" font-size="10.00" fill="#333" text-anchor="middle">7</text>
<line x1="528.30" y1="470.40" x2="528.30" y2="473.50" stroke="#7a7a7a" stroke-width="0.8"/>
<text x="528.30" y="481.30" font-size="10.00" fill="#333" text-anchor="middle">8</text>
<line x1="547.20" y1="470.40" x2="547.20" y2="473.50" stroke="#7a7a7a" stroke-width="0.8"/>
<text x="547.20" y="481.30" font-size="10.00" fill="#333" text-anchor="middle">9</text>
<line x1="566.30" y1="470.40" x2="566.30" y2="473.50" stroke="#7a7a7a" stroke-width="0.8"/>
<text x="566.30" y="481.30" font-size="10.00" fill="#333" text-anchor="middle">10</text>
<line x1="585.40" y1="470.40" x2="585.40" y2="473.50" stroke="#7a7a7a" stroke-width="0.8"/>
<text x="585.40" y="481.30" font-size="10.00" fill="#333" text-anchor="middle">11</text>
<line x1="601.80" y1="470.40" x2="601.80" y2="473.50" stroke="#7a7a7a" stroke-width="0.8"/>
<text x="601.80" y="481.30" font-size="10.00" fill="#333" text-anchor="middle">12</text>
<line x1="615.90" y1="470.40" x2="615.90" y2="473.50" stroke="#7a7a7a" stroke-width="0.8"/>
<text x="615.90" y="481.30" font-size="10.00" fill="#333" text-anchor="middle">13</text>
<line x1="631.20" y1="470.40" x2="631.20" y2="473.50" stroke="#7a7a7a" stroke-width="0.8"/>
<text x="631.20" y="481.30" font-size="10.00" fill="#333" text-anchor="middle">14</text>
<text x="518.60" y="493.80" font-size="10.50" fill="#222" text-anchor="middle">Generation</text>
<text x="365.10" y="367.00" font-size="13.00" fill="#333" text-anchor="middle" transform="rotate(-90 365.1 367)">OD</text>
<line x1="650.50" y1="267.70" x2="650.50" y2="470.80" stroke="#3d6882" stroke-width="1.1"/>
<line x1="650.70" y1="470.30" x2="654.90" y2="470.30" stroke="#3d6882" stroke-width="0.9"/>
<text x="659.50" y="474.40" font-size="12.00" fill="#3d6882">0</text>
<line x1="650.70" y1="451.00" x2="653.20" y2="451.00" stroke="#3d6882" stroke-width="0.9"/>
<line x1="650.70" y1="431.70" x2="654.90" y2="431.70" stroke="#3d6882" stroke-width="0.9"/>
<text x="659.50" y="435.80" font-size="12.00" fill="#3d6882">4</text>
<line x1="650.70" y1="412.40" x2="653.20" y2="412.40" stroke="#3d6882" stroke-width="0.9"/>
<line x1="650.70" y1="393.10" x2="654.90" y2="393.10" stroke="#3d6882" stroke-width="0.9"/>
<text x="659.50" y="397.20" font-size="12.00" fill="#3d6882">8</text>
<line x1="650.70" y1="373.80" x2="653.20" y2="373.80" stroke="#3d6882" stroke-width="0.9"/>
<line x1="650.70" y1="354.50" x2="654.90" y2="354.50" stroke="#3d6882" stroke-width="0.9"/>
<text x="657.50" y="358.60" font-size="12.00" fill="#3d6882">12</text>
<line x1="650.70" y1="335.20" x2="653.20" y2="335.20" stroke="#3d6882" stroke-width="0.9"/>
<line x1="650.70" y1="315.90" x2="654.90" y2="315.90" stroke="#3d6882" stroke-width="0.9"/>
<text x="657.50" y="320.00" font-size="12.00" fill="#3d6882">16</text>
<line x1="650.70" y1="296.60" x2="653.20" y2="296.60" stroke="#3d6882" stroke-width="0.9"/>
<line x1="650.70" y1="277.30" x2="654.90" y2="277.30" stroke="#3d6882" stroke-width="0.9"/>
<text x="657.50" y="281.40" font-size="12.00" fill="#3d6882">20</text>
<text x="681.30" y="359.70" font-size="13.40" fill="#3d6882" text-anchor="middle" font-weight="bold" transform="rotate(-90 681.3 359.7)">xylose(mM)</text>
<rect x="608.40" y="269.20" width="38.30" height="12.20" rx="0" fill="#fff" stroke="#999" stroke-width="0.6"/>
<line x1="612.00" y1="275.30" x2="626.00" y2="275.30" stroke="#666" stroke-width="0.6"/>
<circle cx="618.80" cy="275.30" r="1.80" fill="#444" stroke="none" stroke-width="1"/>
<text x="627.20" y="279.20" font-size="10.00" fill="#222">OD</text>
<text x="1.90" y="465.00" font-size="12.00" fill="#000" font-weight="bold">e</text>
<path d="M56.60 675.22 L59.46 675.13 L62.32 675.02 L65.18 674.89 L68.04 674.74 L70.90 674.55 L73.76 674.32 L76.63 674.05 L79.49 673.71 L82.35 673.31 L85.21 672.85 L88.07 672.37 L90.93 671.87 L93.79 671.37 L96.65 670.88 L99.51 670.42 L102.37 670.01 L105.23 669.65 L108.09 669.34 L110.95 669.07 L113.82 668.83 L116.68 668.60 L119.54 668.39 L122.40 668.17 L125.26 667.95 L128.12 667.71 L130.98 667.46 L133.84 667.20 L136.70 666.93 L139.56 666.65 L142.42 666.38 L145.28 666.10 L148.14 665.83 L151.01 665.56 L153.87 665.30 L156.73 665.03 L159.59 664.76 L162.45 664.48 L165.31 664.19 L168.17 663.88 L171.03 663.56 L173.89 663.22 L176.75 662.87 L179.61 662.51 L182.47 662.14 L185.33 661.77 L188.19 661.39 L191.06 661.01 L193.92 660.64 L196.78 660.27 L199.64 659.90 L202.50 659.54 L205.36 659.18 L208.22 658.81 L211.08 658.46 L213.94 658.10 L216.80 657.74 L219.66 657.38 L222.52 657.02 L225.38 656.66 L228.25 656.30 L231.11 655.93 L233.97 655.56 L236.83 655.19 L239.69 654.81 L242.55 654.43 L245.41 654.04 L248.27 653.67 L251.13 653.30 L253.99 652.95 L256.85 652.61 L259.71 652.29 L262.57 651.99 L265.44 651.71 L268.30 651.46 L271.16 651.21 L274.02 650.98 L276.88 650.76 L279.74 650.54 L282.60 650.33" stroke="#e6e64a" stroke-width="1.25" fill="none"/>
<path d="M56.60 675.22 L59.46 675.09 L62.32 674.93 L65.18 674.76 L68.04 674.55 L70.90 674.31 L73.76 674.01 L76.63 673.65 L79.49 673.21 L82.35 672.70 L85.21 672.13 L88.07 671.51 L90.93 670.87 L93.79 670.23 L96.65 669.60 L99.51 669.00 L102.37 668.46 L105.23 667.97 L108.09 667.54 L110.95 667.16 L113.82 666.81 L116.68 666.48 L119.54 666.16 L122.40 665.85 L125.26 665.53 L128.12 665.19 L130.98 664.84 L133.84 664.49 L136.70 664.12 L139.56 663.75 L142.42 663.38 L145.28 663.00 L148.14 662.63 L151.01 662.26 L153.87 661.89 L156.73 661.53 L159.59 661.17 L162.45 660.80 L165.31 660.44 L168.17 660.08 L171.03 659.72 L173.89 659.36 L176.75 659.00 L179.61 658.63 L182.47 658.27 L185.33 657.91 L188.19 657.54 L191.06 657.18 L193.92 656.81 L196.78 656.45 L199.64 656.08 L202.50 655.72 L205.36 655.35 L208.22 654.99 L211.08 654.63 L213.94 654.27 L216.80 653.91 L219.66 653.56 L222.52 653.20 L225.38 652.84 L228.25 652.48 L231.11 652.11 L233.97 651.74 L236.83 651.36 L239.69 650.97 L242.55 650.57 L245.41 650.18 L248.27 649.79 L251.13 649.42 L253.99 649.07 L256.85 648.75 L259.71 648.46 L262.57 648.21 L265.44 648.00 L268.30 647.81 L271.16 647.65 L274.02 647.51 L276.88 647.39 L279.74 647.28 L282.60 647.17" stroke="#d6e63e" stroke-width="1.25" fill="none"/>
<path d="M56.60 675.22 L59.46 675.00 L62.32 674.76 L65.18 674.50 L68.04 674.22 L70.90 673.90 L73.76 673.54 L76.63 673.12 L79.49 672.64 L82.35 672.10 L85.21 671.50 L88.07 670.86 L90.93 670.19 L93.79 669.50 L96.65 668.81 L99.51 668.12 L102.37 667.46 L105.23 666.82 L108.09 666.20 L110.95 665.60 L113.82 665.00 L116.68 664.41 L119.54 663.81 L122.40 663.19 L125.26 662.56 L128.12 661.90 L130.98 661.23 L133.84 660.55 L136.70 659.87 L139.56 659.20 L142.42 658.54 L145.28 657.90 L148.14 657.29 L151.01 656.71 L153.87 656.16 L156.73 655.62 L159.59 655.09 L162.45 654.56 L165.31 654.02 L168.17 653.47 L171.03 652.89 L173.89 652.30 L176.75 651.69 L179.61 651.07 L182.47 650.45 L185.33 649.84 L188.19 649.24 L191.06 648.66 L193.92 648.11 L196.78 647.59 L199.64 647.08 L202.50 646.60 L205.36 646.12 L208.22 645.66 L211.08 645.19 L213.94 644.72 L216.80 644.24 L219.66 643.75 L222.52 643.26 L225.38 642.77 L228.25 642.28 L231.11 641.79 L233.97 641.32 L236.83 640.86 L239.69 640.41 L242.55 639.99 L245.41 639.58 L248.27 639.20 L251.13 638.84 L253.99 638.51 L256.85 638.20 L259.71 637.93 L262.57 637.68 L265.44 637.45 L268.30 637.25 L271.16 637.07 L274.02 636.90 L276.88 636.74 L279.74 636.60 L282.60 636.45" stroke="#bce866" stroke-width="1.25" fill="none"/>
<path d="M56.60 675.22 L59.46 674.97 L62.32 674.71 L65.18 674.43 L68.04 674.12 L70.90 673.78 L73.76 673.39 L76.63 672.95 L79.49 672.45 L82.35 671.88 L85.21 671.26 L88.07 670.59 L90.93 669.88 L93.79 669.15 L96.65 668.42 L99.51 667.68 L102.37 666.96 L105.23 666.26 L108.09 665.58 L110.95 664.91 L113.82 664.25 L116.68 663.59 L119.54 662.93 L122.40 662.27 L125.26 661.60 L128.12 660.92 L130.98 660.24 L133.84 659.56 L136.70 658.88 L139.56 658.21 L142.42 657.56 L145.28 656.94 L148.14 656.34 L151.01 655.76 L153.87 655.21 L156.73 654.67 L159.59 654.14 L162.45 653.61 L165.31 653.07 L168.17 652.51 L171.03 651.94 L173.89 651.34 L176.75 650.73 L179.61 650.11 L182.47 649.49 L185.33 648.88 L188.19 648.28 L191.06 647.70 L193.92 647.15 L196.78 646.63 L199.64 646.13 L202.50 645.64 L205.36 645.17 L208.22 644.70 L211.08 644.23 L213.94 643.76 L216.80 643.28 L219.66 642.79 L222.52 642.30 L225.38 641.80 L228.25 641.31 L231.11 640.83 L233.97 640.36 L236.83 639.90 L239.69 639.47 L242.55 639.05 L245.41 638.65 L248.27 638.28 L251.13 637.92 L253.99 637.59 L256.85 637.27 L259.71 636.97 L262.57 636.68 L265.44 636.42 L268.30 636.16 L271.16 635.92 L274.02 635.69 L276.88 635.46 L279.74 635.24 L282.60 635.02" stroke="#96e652" stroke-width="1.25" fill="none"/>
<path d="M56.60 675.22 L59.46 674.97 L62.32 674.69 L65.18 674.39 L68.04 674.05 L70.90 673.67 L73.76 673.24 L76.63 672.73 L79.49 672.15 L82.35 671.48 L85.21 670.74 L88.07 669.93 L90.93 669.08 L93.79 668.20 L96.65 667.30 L99.51 666.39 L102.37 665.49 L105.23 664.61 L108.09 663.75 L110.95 662.89 L113.82 662.05 L116.68 661.21 L119.54 660.37 L122.40 659.53 L125.26 658.68 L128.12 657.83 L130.98 656.97 L133.84 656.11 L136.70 655.25 L139.56 654.40 L142.42 653.56 L145.28 652.74 L148.14 651.93 L151.01 651.14 L153.87 650.37 L156.73 649.63 L159.59 648.90 L162.45 648.19 L165.31 647.50 L168.17 646.84 L171.03 646.19 L173.89 645.57 L176.75 644.96 L179.61 644.35 L182.47 643.76 L185.33 643.16 L188.19 642.56 L191.06 641.95 L193.92 641.32 L196.78 640.69 L199.64 640.05 L202.50 639.42 L205.36 638.80 L208.22 638.20 L211.08 637.64 L213.94 637.11 L216.80 636.63 L219.66 636.19 L222.52 635.79 L225.38 635.42 L228.25 635.07 L231.11 634.75 L233.97 634.43 L236.83 634.11 L239.69 633.79 L242.55 633.47 L245.41 633.15 L248.27 632.84 L251.13 632.53 L253.99 632.24 L256.85 631.96 L259.71 631.71 L262.57 631.47 L265.44 631.25 L268.30 631.06 L271.16 630.87 L274.02 630.70 L276.88 630.54 L279.74 630.38 L282.60 630.23" stroke="#5ee25c" stroke-width="1.25" fill="none"/>
<path d="M56.60 675.22 L59.46 674.96 L62.32 674.68 L65.18 674.37 L68.04 674.03 L70.90 673.63 L73.76 673.18 L76.63 672.66 L79.49 672.05 L82.35 671.35 L85.21 670.57 L88.07 669.73 L90.93 668.83 L93.79 667.89 L96.65 666.93 L99.51 665.96 L102.37 665.00 L105.23 664.04 L108.09 663.10 L110.95 662.18 L113.82 661.26 L116.68 660.36 L119.54 659.47 L122.40 658.60 L125.26 657.74 L128.12 656.88 L130.98 656.04 L133.84 655.19 L136.70 654.35 L139.56 653.51 L142.42 652.65 L145.28 651.79 L148.14 650.92 L151.01 650.04 L153.87 649.15 L156.73 648.27 L159.59 647.41 L162.45 646.57 L165.31 645.76 L168.17 644.99 L171.03 644.26 L173.89 643.59 L176.75 642.95 L179.61 642.35 L182.47 641.76 L185.33 641.18 L188.19 640.61 L191.06 640.02 L193.92 639.41 L196.78 638.79 L199.64 638.15 L202.50 637.52 L205.36 636.90 L208.22 636.30 L211.08 635.73 L213.94 635.20 L216.80 634.71 L219.66 634.27 L222.52 633.87 L225.38 633.50 L228.25 633.16 L231.11 632.83 L233.97 632.51 L236.83 632.20 L239.69 631.88 L242.55 631.56 L245.41 631.24 L248.27 630.93 L251.13 630.62 L253.99 630.33 L256.85 630.05 L259.71 629.79 L262.57 629.56 L265.44 629.34 L268.30 629.14 L271.16 628.96 L274.02 628.79 L276.88 628.63 L279.74 628.47 L282.60 628.32" stroke="#7ee29e" stroke-width="1.25" fill="none"/>
<path d="M56.60 675.22 L59.46 674.96 L62.32 674.67 L65.18 674.36 L68.04 674.01 L70.90 673.60 L73.76 673.13 L76.63 672.58 L79.49 671.95 L82.35 671.21 L85.21 670.39 L88.07 669.50 L90.93 668.55 L93.79 667.56 L96.65 666.55 L99.51 665.53 L102.37 664.51 L105.23 663.51 L108.09 662.53 L110.95 661.55 L113.82 660.59 L116.68 659.62 L119.54 658.66 L122.40 657.70 L125.26 656.73 L128.12 655.76 L130.98 654.78 L133.84 653.81 L136.70 652.83 L139.56 651.86 L142.42 650.90 L145.28 649.94 L148.14 649.00 L151.01 648.07 L153.87 647.16 L156.73 646.28 L159.59 645.42 L162.45 644.60 L165.31 643.81 L168.17 643.05 L171.03 642.35 L173.89 641.68 L176.75 641.04 L179.61 640.44 L182.47 639.85 L185.33 639.27 L188.19 638.69 L191.06 638.11 L193.92 637.52 L196.78 636.91 L199.64 636.30 L202.50 635.68 L205.36 635.07 L208.22 634.46 L211.08 633.86 L213.94 633.29 L216.80 632.73 L219.66 632.20 L222.52 631.68 L225.38 631.19 L228.25 630.71 L231.11 630.25 L233.97 629.80 L236.83 629.36 L239.69 628.93 L242.55 628.52 L245.41 628.11 L248.27 627.73 L251.13 627.37 L253.99 627.03 L256.85 626.72 L259.71 626.44 L262.57 626.20 L265.44 625.98 L268.30 625.79 L271.16 625.62 L274.02 625.46 L276.88 625.32 L279.74 625.19 L282.60 625.06" stroke="#46d48c" stroke-width="1.25" fill="none"/>
<path d="M56.60 675.22 L59.17 674.98 L61.75 674.72 L64.32 674.44 L66.90 674.13 L69.47 673.78 L72.05 673.38 L74.62 672.92 L77.20 672.39 L79.77 671.77 L82.35 671.08 L84.92 670.31 L87.50 669.48 L90.07 668.59 L92.65 667.67 L95.22 666.72 L97.79 665.76 L100.37 664.79 L102.94 663.83 L105.52 662.88 L108.09 661.93 L110.67 660.96 L113.24 659.97 L115.82 658.93 L118.39 657.85 L120.97 656.70 L123.54 655.47 L126.12 654.16 L128.69 652.78 L131.27 651.34 L133.84 649.87 L136.42 648.40 L138.99 646.94 L141.56 645.52 L144.14 644.16 L146.71 642.88 L149.29 641.71 L151.86 640.64 L154.44 639.66 L157.01 638.75 L159.59 637.90 L162.16 637.11 L164.74 636.35 L167.31 635.62 L169.89 634.91 L172.46 634.20 L175.04 633.51 L177.61 632.82 L180.18 632.15 L182.76 631.49 L185.33 630.86 L187.91 630.25 L190.48 629.66 L193.06 629.11 L195.63 628.59 L198.21 628.10 L200.78 627.63 L203.36 627.19 L205.93 626.77 L208.51 626.37 L211.08 625.98 L213.66 625.61 L216.23 625.25 L218.81 624.89 L221.38 624.55 L223.95 624.21 L226.53 623.88 L229.10 623.56 L231.68 623.25 L234.25 622.94 L236.83 622.65 L239.40 622.36 L241.98 622.07 L244.55 621.79 L247.13 621.52 L249.70 621.25 L252.28 620.98 L254.85 620.71 L257.43 620.45 L260.00 620.19" stroke="#58c89c" stroke-width="1.25" fill="none"/>
<path d="M56.60 675.22 L59.17 674.98 L61.75 674.72 L64.32 674.43 L66.90 674.12 L69.47 673.75 L72.05 673.34 L74.62 672.86 L77.20 672.31 L79.77 671.67 L82.35 670.94 L84.92 670.13 L87.50 669.26 L90.07 668.33 L92.65 667.36 L95.22 666.37 L97.79 665.36 L100.37 664.34 L102.94 663.34 L105.52 662.35 L108.09 661.35 L110.67 660.34 L113.24 659.30 L115.82 658.21 L118.39 657.06 L120.97 655.84 L123.54 654.54 L126.12 653.13 L128.69 651.63 L131.27 650.08 L133.84 648.49 L136.42 646.90 L138.99 645.32 L141.56 643.79 L144.14 642.34 L146.71 640.99 L149.29 639.76 L151.86 638.65 L154.44 637.65 L157.01 636.73 L159.59 635.89 L162.16 635.12 L164.74 634.38 L167.31 633.68 L169.89 633.00 L172.46 632.33 L175.04 631.66 L177.61 630.99 L180.18 630.33 L182.76 629.68 L185.33 629.04 L187.91 628.40 L190.48 627.77 L193.06 627.16 L195.63 626.55 L198.21 625.95 L200.78 625.37 L203.36 624.81 L205.93 624.27 L208.51 623.75 L211.08 623.25 L213.66 622.79 L216.23 622.35 L218.81 621.95 L221.38 621.57 L223.95 621.22 L226.53 620.89 L229.10 620.58 L231.68 620.29 L234.25 620.02 L236.83 619.76 L239.40 619.52 L241.98 619.28 L244.55 619.05 L247.13 618.83 L249.70 618.61 L252.28 618.40 L254.85 618.20 L257.43 617.99 L260.00 617.79" stroke="#7cc8b4" stroke-width="1.25" fill="none"/>
<path d="M56.60 675.22 L59.17 675.00 L61.75 674.74 L64.32 674.46 L66.90 674.14 L69.47 673.77 L72.05 673.34 L74.62 672.84 L77.20 672.24 L79.77 671.55 L82.35 670.76 L84.92 669.87 L87.50 668.91 L90.07 667.88 L92.65 666.81 L95.22 665.70 L97.79 664.58 L100.37 663.46 L102.94 662.34 L105.52 661.24 L108.09 660.14 L110.67 659.02 L113.24 657.87 L115.82 656.67 L118.39 655.41 L120.97 654.08 L123.54 652.65 L126.12 651.13 L128.69 649.51 L131.27 647.83 L133.84 646.12 L136.42 644.40 L138.99 642.72 L141.56 641.09 L144.14 639.56 L146.71 638.14 L149.29 636.86 L151.86 635.72 L154.44 634.69 L157.01 633.77 L159.59 632.94 L162.16 632.18 L164.74 631.46 L167.31 630.79 L169.89 630.13 L172.46 629.48 L175.04 628.84 L177.61 628.19 L180.18 627.55 L182.76 626.90 L185.33 626.25 L187.91 625.59 L190.48 624.93 L193.06 624.25 L195.63 623.57 L198.21 622.89 L200.78 622.21 L203.36 621.53 L205.93 620.87 L208.51 620.23 L211.08 619.61 L213.66 619.02 L216.23 618.46 L218.81 617.94 L221.38 617.45 L223.95 616.99 L226.53 616.55 L229.10 616.14 L231.68 615.74 L234.25 615.36 L236.83 615.00 L239.40 614.65 L241.98 614.30 L244.55 613.97 L247.13 613.64 L249.70 613.31 L252.28 612.99 L254.85 612.68 L257.43 612.36 L260.00 612.05" stroke="#2a9a92" stroke-width="1.25" fill="none"/>
<path d="M56.60 675.22 L58.89 675.01 L61.18 674.77 L63.47 674.52 L65.75 674.23 L68.04 673.91 L70.33 673.55 L72.62 673.13 L74.91 672.64 L77.20 672.08 L79.49 671.44 L81.77 670.71 L84.06 669.91 L86.35 669.02 L88.64 668.08 L90.93 667.08 L93.22 666.04 L95.51 664.96 L97.79 663.85 L100.08 662.72 L102.37 661.57 L104.66 660.43 L106.95 659.26 L109.24 658.08 L111.53 656.88 L113.82 655.64 L116.10 654.36 L118.39 653.04 L120.68 651.66 L122.97 650.23 L125.26 648.73 L127.55 647.17 L129.84 645.57 L132.12 643.95 L134.41 642.32 L136.70 640.71 L138.99 639.13 L141.28 637.61 L143.57 636.16 L145.86 634.80 L148.14 633.55 L150.43 632.42 L152.72 631.38 L155.01 630.43 L157.30 629.55 L159.59 628.72 L161.88 627.93 L164.16 627.17 L166.45 626.43 L168.74 625.67 L171.03 624.91 L173.32 624.12 L175.61 623.32 L177.90 622.51 L180.18 621.71 L182.47 620.92 L184.76 620.15 L187.05 619.39 L189.34 618.67 L191.63 617.99 L193.92 617.35 L196.21 616.76 L198.49 616.20 L200.78 615.68 L203.07 615.19 L205.36 614.73 L207.65 614.29 L209.94 613.86 L212.23 613.45 L214.51 613.05 L216.80 612.65 L219.09 612.26 L221.38 611.87 L223.67 611.48 L225.96 611.09 L228.25 610.71 L230.53 610.32 L232.82 609.94 L235.11 609.56 L237.40 609.18" stroke="#62b4ac" stroke-width="1.25" fill="none"/>
<path d="M56.60 675.22 L58.89 675.07 L61.18 674.87 L63.47 674.64 L65.75 674.38 L68.04 674.06 L70.33 673.68 L72.62 673.21 L74.91 672.65 L77.20 671.99 L79.49 671.20 L81.77 670.29 L84.06 669.26 L86.35 668.13 L88.64 666.92 L90.93 665.63 L93.22 664.29 L95.51 662.91 L97.79 661.50 L100.08 660.08 L102.37 658.65 L104.66 657.24 L106.95 655.84 L109.24 654.43 L111.53 653.01 L113.82 651.58 L116.10 650.12 L118.39 648.63 L120.68 647.10 L122.97 645.53 L125.26 643.90 L127.55 642.23 L129.84 640.52 L132.12 638.80 L134.41 637.08 L136.70 635.38 L138.99 633.71 L141.28 632.09 L143.57 630.55 L145.86 629.10 L148.14 627.74 L150.43 626.50 L152.72 625.35 L155.01 624.29 L157.30 623.30 L159.59 622.37 L161.88 621.48 L164.16 620.64 L166.45 619.82 L168.74 619.01 L171.03 618.21 L173.32 617.40 L175.61 616.60 L177.90 615.80 L180.18 615.01 L182.47 614.23 L184.76 613.46 L187.05 612.72 L189.34 611.99 L191.63 611.28 L193.92 610.60 L196.21 609.95 L198.49 609.32 L200.78 608.71 L203.07 608.12 L205.36 607.55 L207.65 607.00 L209.94 606.46 L212.23 605.93 L214.51 605.41 L216.80 604.91 L219.09 604.41 L221.38 603.91 L223.67 603.42 L225.96 602.94 L228.25 602.46 L230.53 601.98 L232.82 601.51 L235.11 601.04 L237.40 600.57" stroke="#52a4ae" stroke-width="1.25" fill="none"/>
<path d="M56.60 675.22 L58.89 675.07 L61.18 674.86 L63.47 674.61 L65.75 674.32 L68.04 673.97 L70.33 673.54 L72.62 673.01 L74.91 672.37 L77.20 671.60 L79.49 670.70 L81.77 669.63 L84.06 668.43 L86.35 667.11 L88.64 665.68 L90.93 664.15 L93.22 662.55 L95.51 660.89 L97.79 659.18 L100.08 657.45 L102.37 655.70 L104.66 653.94 L106.95 652.18 L109.24 650.40 L111.53 648.60 L113.82 646.78 L116.10 644.92 L118.39 643.02 L120.68 641.08 L122.97 639.09 L125.26 637.04 L127.55 634.94 L129.84 632.82 L132.12 630.68 L134.41 628.54 L136.70 626.44 L138.99 624.39 L141.28 622.41 L143.57 620.52 L145.86 618.74 L148.14 617.08 L150.43 615.57 L152.72 614.17 L155.01 612.88 L157.30 611.68 L159.59 610.57 L161.88 609.51 L164.16 608.51 L166.45 607.55 L168.74 606.61 L171.03 605.69 L173.32 604.77 L175.61 603.86 L177.90 602.96 L180.18 602.07 L182.47 601.20 L184.76 600.35 L187.05 599.51 L189.34 598.70 L191.63 597.90 L193.92 597.13 L196.21 596.39 L198.49 595.66 L200.78 594.96 L203.07 594.27 L205.36 593.61 L207.65 592.95 L209.94 592.32 L212.23 591.69 L214.51 591.07 L216.80 590.47 L219.09 589.87 L221.38 589.28 L223.67 588.69 L225.96 588.11 L228.25 587.53 L230.53 586.96 L232.82 586.39 L235.11 585.82 L237.40 585.25" stroke="#3a88a0" stroke-width="1.25" fill="none"/>
<path d="M56.60 675.22 L58.60 675.12 L60.61 674.95 L62.61 674.75 L64.61 674.52 L66.61 674.23 L68.62 673.87 L70.62 673.43 L72.62 672.90 L74.62 672.26 L76.63 671.50 L78.63 670.60 L80.63 669.56 L82.63 668.37 L84.64 667.05 L86.64 665.62 L88.64 664.08 L90.64 662.45 L92.65 660.75 L94.65 658.97 L96.65 657.15 L98.65 655.28 L100.66 653.39 L102.66 651.49 L104.66 649.58 L106.66 647.66 L108.67 645.73 L110.67 643.80 L112.67 641.85 L114.67 639.89 L116.68 637.92 L118.68 635.94 L120.68 633.94 L122.68 631.93 L124.69 629.90 L126.69 627.86 L128.69 625.81 L130.69 623.76 L132.70 621.72 L134.70 619.71 L136.70 617.72 L138.70 615.77 L140.71 613.86 L142.71 612.01 L144.71 610.23 L146.71 608.52 L148.72 606.89 L150.72 605.34 L152.72 603.87 L154.72 602.46 L156.73 601.13 L158.73 599.86 L160.73 598.64 L162.73 597.48 L164.74 596.38 L166.74 595.31 L168.74 594.29 L170.74 593.31 L172.75 592.36 L174.75 591.44 L176.75 590.54 L178.75 589.68 L180.76 588.83 L182.76 588.01 L184.76 587.20 L186.76 586.40 L188.77 585.62 L190.77 584.84 L192.77 584.07 L194.77 583.30 L196.78 582.53 L198.78 581.76 L200.78 581.00 L202.78 580.24 L204.79 579.48 L206.79 578.72 L208.79 577.96 L210.79 577.20 L212.80 576.44 L214.80 575.69" stroke="#74a4bc" stroke-width="1.25" fill="none"/>
<path d="M56.60 675.22 L58.60 675.14 L60.61 674.98 L62.61 674.79 L64.61 674.55 L66.61 674.25 L68.62 673.86 L70.62 673.38 L72.62 672.78 L74.62 672.06 L76.63 671.18 L78.63 670.14 L80.63 668.93 L82.63 667.55 L84.64 666.00 L86.64 664.32 L88.64 662.50 L90.64 660.57 L92.65 658.55 L94.65 656.44 L96.65 654.27 L98.65 652.04 L100.66 649.77 L102.66 647.49 L104.66 645.18 L106.66 642.87 L108.67 640.56 L110.67 638.24 L112.67 635.93 L114.67 633.62 L116.68 631.32 L118.68 629.03 L120.68 626.75 L122.68 624.50 L124.69 622.27 L126.69 620.07 L128.69 617.89 L130.69 615.75 L132.70 613.63 L134.70 611.55 L136.70 609.51 L138.70 607.50 L140.71 605.53 L142.71 603.60 L144.71 601.72 L146.71 599.87 L148.72 598.08 L150.72 596.33 L152.72 594.62 L154.72 592.97 L156.73 591.37 L158.73 589.82 L160.73 588.33 L162.73 586.89 L164.74 585.51 L166.74 584.19 L168.74 582.93 L170.74 581.73 L172.75 580.59 L174.75 579.51 L176.75 578.47 L178.75 577.49 L180.76 576.55 L182.76 575.65 L184.76 574.79 L186.76 573.96 L188.77 573.16 L190.77 572.39 L192.77 571.64 L194.77 570.90 L196.78 570.18 L198.78 569.48 L200.78 568.79 L202.78 568.11 L204.79 567.45 L206.79 566.79 L208.79 566.13 L210.79 565.48 L212.80 564.84 L214.80 564.20" stroke="#3a6a9a" stroke-width="1.25" fill="none"/>
<path d="M56.60 675.22 L58.60 675.12 L60.61 674.94 L62.61 674.72 L64.61 674.45 L66.61 674.12 L68.62 673.69 L70.62 673.17 L72.62 672.52 L74.62 671.74 L76.63 670.81 L78.63 669.70 L80.63 668.41 L82.63 666.93 L84.64 665.28 L86.64 663.47 L88.64 661.50 L90.64 659.39 L92.65 657.15 L94.65 654.79 L96.65 652.32 L98.65 649.75 L100.66 647.09 L102.66 644.36 L104.66 641.56 L106.66 638.70 L108.67 635.81 L110.67 632.88 L112.67 629.94 L114.67 627.00 L116.68 624.07 L118.68 621.16 L120.68 618.28 L122.68 615.45 L124.69 612.68 L126.69 609.98 L128.69 607.34 L130.69 604.78 L132.70 602.28 L134.70 599.84 L136.70 597.47 L138.70 595.16 L140.71 592.90 L142.71 590.71 L144.71 588.57 L146.71 586.49 L148.72 584.46 L150.72 582.49 L152.72 580.57 L154.72 578.72 L156.73 576.93 L158.73 575.20 L160.73 573.55 L162.73 571.96 L164.74 570.45 L166.74 569.02 L168.74 567.67 L170.74 566.40 L172.75 565.20 L174.75 564.09 L176.75 563.03 L178.75 562.04 L180.76 561.11 L182.76 560.22 L184.76 559.38 L186.76 558.58 L188.77 557.80 L190.77 557.05 L192.77 556.32 L194.77 555.60 L196.78 554.89 L198.78 554.20 L200.78 553.51 L202.78 552.84 L204.79 552.17 L206.79 551.50 L208.79 550.84 L210.79 550.19 L212.80 549.54 L214.80 548.89" stroke="#3a7aa6" stroke-width="1.25" fill="none"/>
<path d="M56.60 675.22 L58.32 675.21 L60.03 675.09 L61.75 674.95 L63.47 674.76 L65.18 674.53 L66.90 674.22 L68.62 673.83 L70.33 673.35 L72.05 672.76 L73.76 672.04 L75.48 671.20 L77.20 670.20 L78.91 669.03 L80.63 667.70 L82.35 666.19 L84.06 664.53 L85.78 662.72 L87.50 660.77 L89.21 658.70 L90.93 656.52 L92.65 654.23 L94.36 651.86 L96.08 649.41 L97.79 646.88 L99.51 644.31 L101.23 641.68 L102.94 639.03 L104.66 636.35 L106.38 633.64 L108.09 630.92 L109.81 628.20 L111.53 625.46 L113.24 622.74 L114.96 620.01 L116.68 617.30 L118.39 614.61 L120.11 611.95 L121.83 609.31 L123.54 606.71 L125.26 604.15 L126.97 601.63 L128.69 599.15 L130.41 596.70 L132.12 594.28 L133.84 591.87 L135.56 589.49 L137.27 587.12 L138.99 584.75 L140.71 582.38 L142.42 580.01 L144.14 577.64 L145.86 575.25 L147.57 572.84 L149.29 570.42 L151.01 567.99 L152.72 565.58 L154.44 563.19 L156.15 560.83 L157.87 558.53 L159.59 556.29 L161.30 554.13 L163.02 552.06 L164.74 550.10 L166.45 548.26 L168.17 546.55 L169.89 544.99 L171.60 543.58 L173.32 542.31 L175.04 541.18 L176.75 540.17 L178.47 539.26 L180.18 538.45 L181.90 537.72 L183.62 537.07 L185.33 536.47 L187.05 535.93 L188.77 535.42 L190.48 534.93 L192.20 534.45" stroke="#7890c4" stroke-width="1.25" fill="none"/>
<path d="M56.60 675.22 L58.32 675.29 L60.03 675.24 L61.75 675.15 L63.47 675.00 L65.18 674.79 L66.90 674.49 L68.62 674.09 L70.33 673.57 L72.05 672.90 L73.76 672.09 L75.48 671.10 L77.20 669.92 L78.91 668.53 L80.63 666.92 L82.35 665.10 L84.06 663.08 L85.78 660.88 L87.50 658.53 L89.21 656.04 L90.93 653.42 L92.65 650.69 L94.36 647.88 L96.08 645.00 L97.79 642.07 L99.51 639.10 L101.23 636.12 L102.94 633.13 L104.66 630.16 L106.38 627.20 L108.09 624.26 L109.81 621.33 L111.53 618.43 L113.24 615.56 L114.96 612.71 L116.68 609.90 L118.39 607.13 L120.11 604.40 L121.83 601.71 L123.54 599.06 L125.26 596.47 L126.97 593.92 L128.69 591.42 L130.41 588.96 L132.12 586.53 L133.84 584.13 L135.56 581.74 L137.27 579.38 L138.99 577.02 L140.71 574.67 L142.42 572.31 L144.14 569.95 L145.86 567.58 L147.57 565.19 L149.29 562.79 L151.01 560.38 L152.72 557.97 L154.44 555.60 L156.15 553.25 L157.87 550.96 L159.59 548.72 L161.30 546.56 L163.02 544.49 L164.74 542.51 L166.45 540.65 L168.17 538.91 L169.89 537.32 L171.60 535.87 L173.32 534.55 L175.04 533.36 L176.75 532.29 L178.47 531.31 L180.18 530.43 L181.90 529.63 L183.62 528.89 L185.33 528.22 L187.05 527.58 L188.77 526.98 L190.48 526.41 L192.20 525.85" stroke="#3a4aa0" stroke-width="1.25" fill="none"/>
<path d="M56.60 675.22 L58.32 675.29 L60.03 675.21 L61.75 675.10 L63.47 674.93 L65.18 674.68 L66.90 674.33 L68.62 673.87 L70.33 673.27 L72.05 672.52 L73.76 671.59 L75.48 670.47 L77.20 669.13 L78.91 667.57 L80.63 665.75 L82.35 663.70 L84.06 661.44 L85.78 658.97 L87.50 656.34 L89.21 653.54 L90.93 650.62 L92.65 647.58 L94.36 644.46 L96.08 641.26 L97.79 638.01 L99.51 634.74 L101.23 631.45 L102.94 628.18 L104.66 624.93 L106.38 621.71 L108.09 618.51 L109.81 615.35 L111.53 612.21 L113.24 609.12 L114.96 606.06 L116.68 603.05 L118.39 600.08 L120.11 597.16 L121.83 594.29 L123.54 591.47 L125.26 588.71 L126.97 586.01 L128.69 583.36 L130.41 580.75 L132.12 578.20 L133.84 575.68 L135.56 573.21 L137.27 570.76 L138.99 568.35 L140.71 565.97 L142.42 563.62 L144.14 561.28 L145.86 558.96 L147.57 556.66 L149.29 554.37 L151.01 552.10 L152.72 549.86 L154.44 547.67 L156.15 545.52 L157.87 543.43 L159.59 541.40 L161.30 539.45 L163.02 537.58 L164.74 535.79 L166.45 534.11 L168.17 532.53 L169.89 531.07 L171.60 529.73 L173.32 528.50 L175.04 527.37 L176.75 526.33 L178.47 525.38 L180.18 524.50 L181.90 523.68 L183.62 522.92 L185.33 522.21 L187.05 521.54 L188.77 520.89 L190.48 520.26 L192.20 519.64" stroke="#6a5cbc" stroke-width="1.25" fill="none"/>
<path d="M56.60 675.22 L58.03 675.37 L59.46 675.35 L60.89 675.30 L62.32 675.21 L63.75 675.07 L65.18 674.86 L66.61 674.56 L68.04 674.17 L69.47 673.66 L70.90 673.03 L72.33 672.27 L73.76 671.35 L75.19 670.27 L76.63 669.01 L78.06 667.55 L79.49 665.89 L80.92 664.01 L82.35 661.94 L83.78 659.69 L85.21 657.27 L86.64 654.71 L88.07 652.02 L89.50 649.21 L90.93 646.30 L92.36 643.32 L93.79 640.28 L95.22 637.18 L96.65 634.06 L98.08 630.93 L99.51 627.81 L100.94 624.70 L102.37 621.63 L103.80 618.61 L105.23 615.63 L106.66 612.68 L108.09 609.76 L109.52 606.87 L110.95 603.98 L112.38 601.11 L113.82 598.23 L115.25 595.35 L116.68 592.47 L118.11 589.56 L119.54 586.63 L120.97 583.67 L122.40 580.68 L123.83 577.64 L125.26 574.56 L126.69 571.43 L128.12 568.27 L129.55 565.10 L130.98 561.92 L132.41 558.75 L133.84 555.60 L135.27 552.49 L136.70 549.43 L138.13 546.43 L139.56 543.51 L140.99 540.67 L142.42 537.94 L143.85 535.32 L145.28 532.83 L146.71 530.48 L148.14 528.28 L149.57 526.23 L151.01 524.32 L152.44 522.54 L153.87 520.88 L155.30 519.32 L156.73 517.87 L158.16 516.51 L159.59 515.22 L161.02 514.01 L162.45 512.85 L163.88 511.75 L165.31 510.68 L166.74 509.64 L168.17 508.63 L169.60 507.62" stroke="#7a4cb4" stroke-width="1.25" fill="none"/>
<path d="M56.60 675.22 L58.03 675.31 L59.46 675.22 L60.89 675.11 L62.32 674.96 L63.75 674.75 L65.18 674.47 L66.61 674.11 L68.04 673.66 L69.47 673.10 L70.90 672.41 L72.33 671.59 L73.76 670.61 L75.19 669.47 L76.63 668.15 L78.06 666.64 L79.49 664.93 L80.92 663.00 L82.35 660.88 L83.78 658.58 L85.21 656.11 L86.64 653.50 L88.07 650.75 L89.50 647.89 L90.93 644.93 L92.36 641.89 L93.79 638.78 L95.22 635.62 L96.65 632.43 L98.08 629.23 L99.51 626.02 L100.94 622.83 L102.37 619.67 L103.80 616.55 L105.23 613.46 L106.66 610.40 L108.09 607.37 L109.52 604.35 L110.95 601.34 L112.38 598.34 L113.82 595.34 L115.25 592.33 L116.68 589.32 L118.11 586.28 L119.54 583.22 L120.97 580.14 L122.40 577.02 L123.83 573.86 L125.26 570.66 L126.69 567.41 L128.12 564.14 L129.55 560.86 L130.98 557.59 L132.41 554.33 L133.84 551.10 L135.27 547.91 L136.70 544.78 L138.13 541.73 L139.56 538.76 L140.99 535.89 L142.42 533.14 L143.85 530.52 L145.28 528.03 L146.71 525.71 L148.14 523.55 L149.57 521.55 L151.01 519.71 L152.44 518.01 L153.87 516.44 L155.30 515.00 L156.73 513.66 L158.16 512.42 L159.59 511.27 L161.02 510.19 L162.45 509.18 L163.88 508.23 L165.31 507.32 L166.74 506.44 L168.17 505.58 L169.60 504.74" stroke="#4a1a7a" stroke-width="1.25" fill="none"/>
<path d="M56.60 675.22 L58.03 675.14 L59.46 674.88 L60.89 674.58 L62.32 674.23 L63.75 673.83 L65.18 673.35 L66.61 672.77 L68.04 672.09 L69.47 671.29 L70.90 670.35 L72.33 669.25 L73.76 667.99 L75.19 666.54 L76.63 664.89 L78.06 663.03 L79.49 660.94 L80.92 658.61 L82.35 656.07 L83.78 653.33 L85.21 650.42 L86.64 647.37 L88.07 644.18 L89.50 640.90 L90.93 637.53 L92.36 634.09 L93.79 630.62 L95.22 627.14 L96.65 623.66 L98.08 620.21 L99.51 616.81 L100.94 613.48 L102.37 610.25 L103.80 607.11 L105.23 604.07 L106.66 601.10 L108.09 598.19 L109.52 595.32 L110.95 592.49 L112.38 589.67 L113.82 586.86 L115.25 584.03 L116.68 581.18 L118.11 578.29 L119.54 575.35 L120.97 572.34 L122.40 569.24 L123.83 566.05 L125.26 562.75 L126.69 559.35 L128.12 555.86 L129.55 552.31 L130.98 548.72 L132.41 545.11 L133.84 541.50 L135.27 537.92 L136.70 534.37 L138.13 530.89 L139.56 527.49 L140.99 524.19 L142.42 521.03 L143.85 518.00 L145.28 515.15 L146.71 512.48 L148.14 510.02 L149.57 507.77 L151.01 505.70 L152.44 503.81 L153.87 502.08 L155.30 500.49 L156.73 499.05 L158.16 497.72 L159.59 496.51 L161.02 495.38 L162.45 494.34 L163.88 493.37 L165.31 492.45 L166.74 491.57 L168.17 490.71 L169.60 489.88" stroke="#763c96" stroke-width="1.25" fill="none"/>
<line x1="285.40" y1="485.70" x2="301.90" y2="485.70" stroke="#e6e64a" stroke-width="1.2"/>
<text x="304.40" y="488.20" font-size="7.00" fill="#111" font-weight="bold">FMX813</text>
<line x1="285.40" y1="494.33" x2="301.90" y2="494.33" stroke="#d6e63e" stroke-width="1.2"/>
<text x="304.40" y="496.83" font-size="7.00" fill="#111" font-weight="bold">FMX816</text>
<line x1="285.40" y1="502.96" x2="301.90" y2="502.96" stroke="#bce866" stroke-width="1.2"/>
<text x="304.40" y="505.46" font-size="7.00" fill="#111" font-weight="bold">FMX820</text>
<line x1="285.40" y1="511.59" x2="301.90" y2="511.59" stroke="#96e652" stroke-width="1.2"/>
<text x="304.40" y="514.09" font-size="7.00" fill="#111" font-weight="bold">FMX824</text>
<line x1="285.40" y1="520.22" x2="301.90" y2="520.22" stroke="#5ee25c" stroke-width="1.2"/>
<text x="304.40" y="522.72" font-size="7.00" fill="#111" font-weight="bold">FMX829</text>
<line x1="285.40" y1="528.85" x2="301.90" y2="528.85" stroke="#7ee29e" stroke-width="1.2"/>
<text x="304.40" y="531.35" font-size="7.00" fill="#111" font-weight="bold">FMX833</text>
<line x1="285.40" y1="537.48" x2="301.90" y2="537.48" stroke="#46d48c" stroke-width="1.2"/>
<text x="304.40" y="539.98" font-size="7.00" fill="#111" font-weight="bold">FMX838</text>
<line x1="285.40" y1="546.11" x2="301.90" y2="546.11" stroke="#58c89c" stroke-width="1.2"/>
<text x="304.40" y="548.61" font-size="7.00" fill="#111" font-weight="bold">FMX842</text>
<line x1="285.40" y1="554.74" x2="301.90" y2="554.74" stroke="#7cc8b4" stroke-width="1.2"/>
<text x="304.40" y="557.24" font-size="7.00" fill="#111" font-weight="bold">FMX845</text>
<line x1="285.40" y1="563.37" x2="301.90" y2="563.37" stroke="#2a9a92" stroke-width="1.2"/>
<text x="304.40" y="565.87" font-size="7.00" fill="#111" font-weight="bold">FMX849</text>
<line x1="285.40" y1="572.00" x2="301.90" y2="572.00" stroke="#62b4ac" stroke-width="1.2"/>
<text x="304.40" y="574.50" font-size="7.00" fill="#111" font-weight="bold">FMX852</text>
<line x1="285.40" y1="580.63" x2="301.90" y2="580.63" stroke="#52a4ae" stroke-width="1.2"/>
<text x="304.40" y="583.13" font-size="7.00" fill="#111" font-weight="bold">FMX855</text>
<line x1="285.40" y1="589.26" x2="301.90" y2="589.26" stroke="#3a88a0" stroke-width="1.2"/>
<text x="304.40" y="591.76" font-size="7.00" fill="#111" font-weight="bold">FMX860</text>
<line x1="285.40" y1="597.89" x2="301.90" y2="597.89" stroke="#74a4bc" stroke-width="1.2"/>
<text x="304.40" y="600.39" font-size="7.00" fill="#111" font-weight="bold">FMX864</text>
<line x1="285.40" y1="606.52" x2="301.90" y2="606.52" stroke="#3a6a9a" stroke-width="1.2"/>
<text x="304.40" y="609.02" font-size="7.00" fill="#111" font-weight="bold">FMX868</text>
<line x1="285.40" y1="615.15" x2="301.90" y2="615.15" stroke="#3a7aa6" stroke-width="1.2"/>
<text x="304.40" y="617.65" font-size="7.00" fill="#111" font-weight="bold">FMX871</text>
<line x1="285.40" y1="623.78" x2="301.90" y2="623.78" stroke="#7890c4" stroke-width="1.2"/>
<text x="304.40" y="626.28" font-size="7.00" fill="#111" font-weight="bold">FMX875</text>
<line x1="285.40" y1="632.41" x2="301.90" y2="632.41" stroke="#3a4aa0" stroke-width="1.2"/>
<text x="304.40" y="634.91" font-size="7.00" fill="#111" font-weight="bold">FMX880</text>
<line x1="285.40" y1="641.04" x2="301.90" y2="641.04" stroke="#6a5cbc" stroke-width="1.2"/>
<text x="304.40" y="643.54" font-size="7.00" fill="#111" font-weight="bold">FMX883</text>
<line x1="285.40" y1="649.67" x2="301.90" y2="649.67" stroke="#7a4cb4" stroke-width="1.2"/>
<text x="304.40" y="652.17" font-size="7.00" fill="#111" font-weight="bold">FMX887</text>
<line x1="285.40" y1="658.30" x2="301.90" y2="658.30" stroke="#4a1a7a" stroke-width="1.2"/>
<text x="304.40" y="660.80" font-size="7.00" fill="#111" font-weight="bold">FMX890</text>
<line x1="285.40" y1="666.93" x2="301.90" y2="666.93" stroke="#763c96" stroke-width="1.2"/>
<text x="304.40" y="669.43" font-size="7.00" fill="#111" font-weight="bold">FMX892</text>
<line x1="56.50" y1="469.40" x2="56.50" y2="680.80" stroke="#555" stroke-width="1"/>
<line x1="56.00" y1="680.50" x2="327.30" y2="680.50" stroke="#555" stroke-width="1"/>
<line x1="52.80" y1="680.00" x2="56.60" y2="680.00" stroke="#555" stroke-width="0.8"/>
<text x="49.80" y="683.90" font-size="11.50" fill="#111" text-anchor="end" font-weight="bold">0.0</text>
<line x1="54.40" y1="656.08" x2="56.60" y2="656.08" stroke="#555" stroke-width="0.8"/>
<line x1="52.80" y1="632.15" x2="56.60" y2="632.15" stroke="#555" stroke-width="0.8"/>
<text x="49.80" y="636.05" font-size="11.50" fill="#111" text-anchor="end" font-weight="bold">0.5</text>
<line x1="54.40" y1="608.23" x2="56.60" y2="608.23" stroke="#555" stroke-width="0.8"/>
<line x1="52.80" y1="584.30" x2="56.60" y2="584.30" stroke="#555" stroke-width="0.8"/>
<text x="49.80" y="588.20" font-size="11.50" fill="#111" text-anchor="end" font-weight="bold">1.0</text>
<line x1="54.40" y1="560.38" x2="56.60" y2="560.38" stroke="#555" stroke-width="0.8"/>
<line x1="52.80" y1="536.45" x2="56.60" y2="536.45" stroke="#555" stroke-width="0.8"/>
<text x="49.80" y="540.35" font-size="11.50" fill="#111" text-anchor="end" font-weight="bold">1.5</text>
<line x1="54.40" y1="512.52" x2="56.60" y2="512.52" stroke="#555" stroke-width="0.8"/>
<line x1="52.80" y1="488.60" x2="56.60" y2="488.60" stroke="#555" stroke-width="0.8"/>
<text x="49.80" y="492.50" font-size="11.50" fill="#111" text-anchor="end" font-weight="bold">2.0</text>
<line x1="79.20" y1="680.20" x2="79.20" y2="682.40" stroke="#555" stroke-width="0.8"/>
<line x1="101.80" y1="680.20" x2="101.80" y2="684.00" stroke="#555" stroke-width="0.8"/>
<text x="101.80" y="696.60" font-size="12.00" fill="#111" text-anchor="middle" font-weight="bold">20</text>
<line x1="124.40" y1="680.20" x2="124.40" y2="682.40" stroke="#555" stroke-width="0.8"/>
<line x1="147.00" y1="680.20" x2="147.00" y2="684.00" stroke="#555" stroke-width="0.8"/>
<text x="147.00" y="696.60" font-size="12.00" fill="#111" text-anchor="middle" font-weight="bold">40</text>
<line x1="169.60" y1="680.20" x2="169.60" y2="682.40" stroke="#555" stroke-width="0.8"/>
<line x1="192.20" y1="680.20" x2="192.20" y2="684.00" stroke="#555" stroke-width="0.8"/>
<text x="192.20" y="696.60" font-size="12.00" fill="#111" text-anchor="middle" font-weight="bold">60</text>
<line x1="214.80" y1="680.20" x2="214.80" y2="682.40" stroke="#555" stroke-width="0.8"/>
<line x1="237.40" y1="680.20" x2="237.40" y2="684.00" stroke="#555" stroke-width="0.8"/>
<text x="237.40" y="696.60" font-size="12.00" fill="#111" text-anchor="middle" font-weight="bold">80</text>
<line x1="260.00" y1="680.20" x2="260.00" y2="682.40" stroke="#555" stroke-width="0.8"/>
<line x1="282.60" y1="680.20" x2="282.60" y2="684.00" stroke="#555" stroke-width="0.8"/>
<text x="282.60" y="696.60" font-size="12.00" fill="#111" text-anchor="middle" font-weight="bold">100</text>
<line x1="305.20" y1="680.20" x2="305.20" y2="682.40" stroke="#555" stroke-width="0.8"/>
<line x1="327.80" y1="680.20" x2="327.80" y2="684.00" stroke="#555" stroke-width="0.8"/>
<text x="327.80" y="696.60" font-size="12.00" fill="#111" text-anchor="middle" font-weight="bold">120</text>
<text x="191.60" y="708.30" font-size="11.30" fill="#000" text-anchor="middle" font-weight="bold">Time(h)</text>
<text x="30.20" y="574.50" font-size="11.30" fill="#000" text-anchor="middle" font-weight="bold" transform="rotate(-90 30.2 574.5)">OD600</text>
<text x="367.40" y="514.30" font-size="10.50" fill="#000" font-weight="bold">f</text>
<line x1="395.50" y1="669.84" x2="656.50" y2="669.84" stroke="#d4d4d4" stroke-width="0.6"/>
<line x1="395.50" y1="632.53" x2="656.50" y2="632.53" stroke="#d4d4d4" stroke-width="0.6"/>
<line x1="395.50" y1="595.22" x2="656.50" y2="595.22" stroke="#d4d4d4" stroke-width="0.6"/>
<line x1="395.50" y1="557.91" x2="656.50" y2="557.91" stroke="#d4d4d4" stroke-width="0.6"/>
<line x1="395.50" y1="651.19" x2="656.50" y2="651.19" stroke="#e0e0e0" stroke-width="0.5" stroke-dasharray="2 2"/>
<line x1="395.50" y1="613.88" x2="656.50" y2="613.88" stroke="#e0e0e0" stroke-width="0.5" stroke-dasharray="2 2"/>
<line x1="395.50" y1="576.56" x2="656.50" y2="576.56" stroke="#e0e0e0" stroke-width="0.5" stroke-dasharray="2 2"/>
<line x1="395.50" y1="539.25" x2="656.50" y2="539.25" stroke="#e0e0e0" stroke-width="0.5" stroke-dasharray="2 2"/>
<line x1="482.30" y1="520.50" x2="482.30" y2="688.50" stroke="#c8c8c8" stroke-width="0.7"/>
<line x1="569.20" y1="520.50" x2="569.20" y2="688.50" stroke="#c8c8c8" stroke-width="0.7"/>
<rect x="395.50" y="520.50" width="261.00" height="168.00" rx="0" fill="none" stroke="#555" stroke-width="1.2"/>
<line x1="393.50" y1="688.50" x2="395.50" y2="688.50" stroke="#444" stroke-width="0.8"/>
<line x1="392.00" y1="669.84" x2="395.50" y2="669.84" stroke="#444" stroke-width="0.8"/>
<text x="391.00" y="673.14" font-size="9.30" fill="#111" text-anchor="end" font-weight="bold">40</text>
<line x1="393.50" y1="651.19" x2="395.50" y2="651.19" stroke="#444" stroke-width="0.8"/>
<line x1="392.00" y1="632.53" x2="395.50" y2="632.53" stroke="#444" stroke-width="0.8"/>
<text x="391.00" y="635.83" font-size="9.30" fill="#111" text-anchor="end" font-weight="bold">80</text>
<line x1="393.50" y1="613.88" x2="395.50" y2="613.88" stroke="#444" stroke-width="0.8"/>
<line x1="392.00" y1="595.22" x2="395.50" y2="595.22" stroke="#444" stroke-width="0.8"/>
<text x="391.00" y="598.52" font-size="9.30" fill="#111" text-anchor="end" font-weight="bold">120</text>
<line x1="393.50" y1="576.56" x2="395.50" y2="576.56" stroke="#444" stroke-width="0.8"/>
<line x1="392.00" y1="557.91" x2="395.50" y2="557.91" stroke="#444" stroke-width="0.8"/>
<text x="391.00" y="561.21" font-size="9.30" fill="#111" text-anchor="end" font-weight="bold">160</text>
<line x1="393.50" y1="539.25" x2="395.50" y2="539.25" stroke="#444" stroke-width="0.8"/>
<line x1="392.00" y1="520.60" x2="395.50" y2="520.60" stroke="#444" stroke-width="0.8"/>
<text x="391.00" y="523.90" font-size="9.30" fill="#111" text-anchor="end" font-weight="bold">200</text>
<line x1="656.50" y1="670.30" x2="660.00" y2="670.30" stroke="#444" stroke-width="0.8"/>
<text x="660.50" y="673.60" font-size="9.30" fill="#111" font-weight="bold">0.5</text>
<line x1="656.50" y1="651.58" x2="658.50" y2="651.58" stroke="#444" stroke-width="0.8"/>
<line x1="656.50" y1="632.85" x2="660.00" y2="632.85" stroke="#444" stroke-width="0.8"/>
<text x="660.50" y="636.15" font-size="9.30" fill="#111" font-weight="bold">1.0</text>
<line x1="656.50" y1="614.12" x2="658.50" y2="614.12" stroke="#444" stroke-width="0.8"/>
<line x1="656.50" y1="595.40" x2="660.00" y2="595.40" stroke="#444" stroke-width="0.8"/>
<text x="660.50" y="598.70" font-size="9.30" fill="#111" font-weight="bold">1.5</text>
<line x1="656.50" y1="576.67" x2="658.50" y2="576.67" stroke="#444" stroke-width="0.8"/>
<line x1="656.50" y1="557.95" x2="660.00" y2="557.95" stroke="#444" stroke-width="0.8"/>
<text x="660.50" y="561.25" font-size="9.30" fill="#111" font-weight="bold">2.0</text>
<line x1="656.50" y1="539.23" x2="658.50" y2="539.23" stroke="#444" stroke-width="0.8"/>
<line x1="656.50" y1="520.50" x2="660.00" y2="520.50" stroke="#444" stroke-width="0.8"/>
<text x="660.50" y="523.80" font-size="9.30" fill="#111" font-weight="bold">2.5</text>
<line x1="438.90" y1="688.50" x2="438.90" y2="692.00" stroke="#444" stroke-width="0.8"/>
<text x="438.90" y="701.30" font-size="9.30" fill="#111" text-anchor="middle" font-weight="bold">FMX783</text>
<line x1="525.80" y1="688.50" x2="525.80" y2="692.00" stroke="#444" stroke-width="0.8"/>
<text x="525.80" y="701.30" font-size="9.30" fill="#111" text-anchor="middle" font-weight="bold">FMX806</text>
<line x1="612.70" y1="688.50" x2="612.70" y2="692.00" stroke="#444" stroke-width="0.8"/>
<text x="612.70" y="701.30" font-size="9.30" fill="#111" text-anchor="middle" font-weight="bold">FMX892</text>
<text x="372.40" y="604.40" font-size="9.40" fill="#000" text-anchor="middle" font-weight="bold" transform="rotate(-90 372.4 604.4)">Metnanol Consumption / mM</text>
<text x="683.30" y="604.60" font-size="9.30" fill="#000" text-anchor="middle" font-weight="bold" transform="rotate(-90 683.3 604.6)">OD600</text>
<circle cx="417.50" cy="663.45" r="4.30" fill="#c0482c" stroke="none" stroke-width="1" opacity="0.5"/>
<circle cx="420.50" cy="664.55" r="4.30" fill="#c0482c" stroke="none" stroke-width="1" opacity="0.5"/>
<circle cx="419.50" cy="664.75" r="4.30" fill="#c0482c" stroke="none" stroke-width="1" opacity="0.5"/>
<line x1="408.20" y1="664.25" x2="435.80" y2="664.25" stroke="#2222ee" stroke-width="1.2"/>
<circle cx="451.70" cy="675.54" r="4.30" fill="#2cb83e" stroke="none" stroke-width="1" opacity="0.5"/>
<circle cx="454.00" cy="676.22" r="4.30" fill="#2cb83e" stroke="none" stroke-width="1" opacity="0.5"/>
<circle cx="460.00" cy="677.09" r="4.30" fill="#2cb83e" stroke="none" stroke-width="1" opacity="0.5"/>
<line x1="442.80" y1="675.92" x2="470.30" y2="675.92" stroke="#2222ee" stroke-width="1.2"/>
<circle cx="504.60" cy="599.38" r="4.30" fill="#c0482c" stroke="none" stroke-width="1" opacity="0.5"/>
<circle cx="508.90" cy="600.48" r="4.30" fill="#c0482c" stroke="none" stroke-width="1" opacity="0.5"/>
<circle cx="507.00" cy="599.88" r="4.30" fill="#c0482c" stroke="none" stroke-width="1" opacity="0.5"/>
<line x1="495.00" y1="599.88" x2="522.30" y2="599.88" stroke="#2222ee" stroke-width="1.2"/>
<circle cx="539.00" cy="613.00" r="4.30" fill="#2cb83e" stroke="none" stroke-width="1" opacity="0.5"/>
<circle cx="541.00" cy="614.35" r="4.30" fill="#2cb83e" stroke="none" stroke-width="1" opacity="0.5"/>
<circle cx="545.50" cy="614.18" r="4.30" fill="#2cb83e" stroke="none" stroke-width="1" opacity="0.5"/>
<line x1="527.80" y1="613.38" x2="557.50" y2="613.38" stroke="#2222ee" stroke-width="1.2"/>
<circle cx="592.80" cy="542.45" r="4.30" fill="#c0482c" stroke="none" stroke-width="1" opacity="0.5"/>
<circle cx="597.40" cy="543.85" r="4.30" fill="#c0482c" stroke="none" stroke-width="1" opacity="0.5"/>
<circle cx="595.50" cy="543.75" r="4.30" fill="#c0482c" stroke="none" stroke-width="1" opacity="0.5"/>
<line x1="581.70" y1="543.45" x2="609.40" y2="543.45" stroke="#2222ee" stroke-width="1.2"/>
<circle cx="630.40" cy="555.70" r="4.30" fill="#2cb83e" stroke="none" stroke-width="1" opacity="0.5"/>
<circle cx="630.40" cy="556.95" r="4.30" fill="#2cb83e" stroke="none" stroke-width="1" opacity="0.5"/>
<circle cx="630.40" cy="559.45" r="4.30" fill="#2cb83e" stroke="none" stroke-width="1" opacity="0.5"/>
<line x1="616.00" y1="556.70" x2="644.60" y2="556.70" stroke="#2222ee" stroke-width="1.2"/>
<line x1="401.20" y1="529.00" x2="414.30" y2="529.00" stroke="#2222ee" stroke-width="1.2"/>
<text x="419.90" y="532.00" font-size="9.20" fill="#222">Mean Line</text>
<circle cx="407.70" cy="540.00" r="2.60" fill="#d8a4a4" stroke="none" stroke-width="1"/>
<text x="419.90" y="543.00" font-size="9.20" fill="#222">Methanol</text>
<circle cx="407.70" cy="550.20" r="2.60" fill="#7ed88a" stroke="none" stroke-width="1"/>
<text x="419.90" y="553.20" font-size="9.20" fill="#222">OD600</text>
<text x="2.60" y="732.00" font-size="12.20" fill="#000" font-weight="bold">g</text>
<line x1="82.00" y1="734.30" x2="70.24" y2="734.30" stroke="#111" stroke-width="1.1"/>
<polygon points="67.30,734.30 71.50,732.41 71.50,736.19" fill="#111"/>
<path d="M154.40 752.20 Q151.00 745.00 145.88 742.70" stroke="#111" stroke-width="1.1" fill="none"/>
<polygon points="143.20,741.50 147.81,741.50 146.26,744.94" fill="#111"/>
<line x1="167.60" y1="755.00" x2="167.60" y2="747.24" stroke="#111" stroke-width="1.1"/>
<polygon points="167.60,744.30 169.49,748.50 165.71,748.50" fill="#111"/>
<path d="M191.6 846 L191.6 779 Q191.6 773.2 186 773.2" stroke="#111" stroke-width="1" fill="none"/>
<polygon points="182.30,773.20 186.30,771.40 186.30,775.00" fill="#111"/>
<line x1="74.00" y1="789.70" x2="90.22" y2="791.75" stroke="#111" stroke-width="1"/>
<polygon points="93.00,792.10 88.81,793.38 89.26,789.81" fill="#111"/>
<line x1="103.40" y1="793.50" x2="120.26" y2="797.03" stroke="#111" stroke-width="1"/>
<polygon points="123.00,797.60 118.72,798.54 119.45,795.02" fill="#111"/>
<path d="M69.30 803.90 Q85.00 808.00 91.07 814.98" stroke="#111" stroke-width="1.1" fill="none"/>
<polygon points="93.00,817.20 88.82,815.27 91.67,812.79" fill="#111"/>
<path d="M26.60 841.90 Q25.80 833.00 27.34 829.40" stroke="#111" stroke-width="1.1" fill="none"/>
<polygon points="28.50,826.70 28.58,831.30 25.11,829.82" fill="#111"/>
<path d="M126.20 844.70 Q134.00 846.00 136.37 848.48" stroke="#111" stroke-width="1.1" fill="none"/>
<polygon points="138.40,850.60 134.13,848.87 136.86,846.26" fill="#111"/>
<path d="M167.30 830.00 Q168.00 836.00 169.50 840.14" stroke="#111" stroke-width="1.1" fill="none"/>
<polygon points="170.50,842.90 167.29,839.60 170.85,838.31" fill="#111"/>
<path d="M159.50 881.80 Q153.00 887.00 148.03 889.49" stroke="#111" stroke-width="1.1" fill="none"/>
<polygon points="145.40,890.80 148.31,887.23 150.00,890.61" fill="#111"/>
<path d="M79.00 892.20 Q70.00 889.00 65.48 888.08" stroke="#111" stroke-width="1" fill="none"/>
<polygon points="62.60,887.50 67.09,886.48 66.34,890.19" fill="#111"/>
<line x1="135.40" y1="895.40" x2="146.84" y2="898.60" stroke="#111" stroke-width="0.6"/>
<polygon points="149.00,899.20 145.53,899.73 146.31,896.95" fill="#111"/>
<path d="M160.40 932.60 Q153.00 939.00 145.50 942.24" stroke="#111" stroke-width="1" fill="none" stroke-dasharray="2.2 1.6"/>
<polygon points="142.80,943.40 145.91,940.00 147.41,943.47" fill="#111"/>
<path d="M216 950.6 Q213 954.3 207 954.3 L86 954.3 Q71.4 954.3 71.4 940 L71.4 897" stroke="#111" stroke-width="1.1" fill="none"/>
<polygon points="71.40,892.20 73.43,896.70 69.38,896.70" fill="#111"/>
<line x1="238.90" y1="728.00" x2="238.90" y2="736.20" stroke="#111" stroke-width="1.1"/>
<polygon points="238.90,739.00 237.10,735.00 240.70,735.00" fill="#111"/>
<line x1="238.90" y1="740.00" x2="238.90" y2="748.80" stroke="#111" stroke-width="1.1"/>
<polygon points="238.90,751.60 237.10,747.60 240.70,747.60" fill="#111"/>
<line x1="238.90" y1="773.50" x2="238.90" y2="808.86" stroke="#111" stroke-width="1.2"/>
<polygon points="238.90,811.80 237.01,807.60 240.79,807.60" fill="#111"/>
<path d="M271.60 788.40 Q255.00 783.00 244.80 786.30" stroke="#111" stroke-width="1.1" fill="none"/>
<polygon points="242.00,787.20 245.42,784.11 246.58,787.71" fill="#111"/>
<line x1="239.10" y1="841.60" x2="239.10" y2="864.86" stroke="#111" stroke-width="1.2"/>
<polygon points="239.10,867.80 237.21,863.60 240.99,863.60" fill="#111"/>
<line x1="238.60" y1="897.00" x2="238.60" y2="922.56" stroke="#111" stroke-width="1.2"/>
<polygon points="238.60,925.50 236.71,921.30 240.49,921.30" fill="#111"/>
<path d="M238.6 908.6 L292.5 908.6 Q300.8 908.6 300.8 900 L300.8 811" stroke="#111" stroke-width="1.1" fill="none"/>
<polygon points="300.80,806.50 302.74,810.80 298.87,810.80" fill="#111"/>
<text x="241.80" y="737.50" font-size="6.79" fill="#62cc28" font-weight="bold" transform="translate(241.8 737.5) scale(1 1.1) translate(-241.8 -737.5)">MDH</text>
<text x="240.60" y="747.70" font-size="6.61" fill="#62cc28" font-weight="bold" transform="translate(240.6 747.7) scale(1 1.1) translate(-240.6 -747.7)">GALS*</text>
<text x="241.50" y="800.30" font-size="6.47" fill="#62cc28" font-weight="bold" transform="translate(241.5 800.3) scale(1 1.1) translate(-241.5 -800.3)">HSA</text>
<text x="241.50" y="857.00" font-size="6.52" fill="#62cc28" font-weight="bold" transform="translate(241.5 857) scale(1 1.1) translate(-241.5 -857)">PHI</text>
<text x="241.40" y="906.20" font-size="6.75" fill="#62cc28" font-weight="bold" transform="translate(241.4 906.2) scale(1 1.1) translate(-241.4 -906.2)">FPK</text>
<text x="241.40" y="917.50" font-size="6.85" fill="#62cc28" font-weight="bold" transform="translate(241.4 917.5) scale(1 1.1) translate(-241.4 -917.5)">PTA</text>
<rect x="28.20" y="718.20" width="34.50" height="31.80" rx="0" fill="#fff" stroke="#4a8fd6" stroke-width="1.1"/>
<line x1="36.40" y1="726.20" x2="36.40" y2="731.00" stroke="#222" stroke-width="0.6"/>
<text x="36.40" y="724.80" font-size="7.20" fill="#111" text-anchor="middle">N</text>
<circle cx="36.40" cy="734.30" r="3.35" fill="#a58bd8" stroke="#7e66b4" stroke-width="0.35"/>
<circle cx="43.20" cy="734.30" r="3.35" fill="#a58bd8" stroke="#7e66b4" stroke-width="0.35"/>
<line x1="46.49" y1="733.49" x2="52.89" y2="730.79" stroke="#222" stroke-width="0.55"/>
<line x1="45.91" y1="732.11" x2="52.31" y2="729.41" stroke="#222" stroke-width="0.55"/>
<line x1="46.20" y1="735.50" x2="52.60" y2="737.50" stroke="#222" stroke-width="0.6"/>
<text x="55.40" y="731.80" font-size="7.20" fill="#111" text-anchor="middle">O</text>
<text x="55.40" y="740.50" font-size="7.20" fill="#111" text-anchor="middle">O</text>
<text x="45.30" y="748.00" font-size="9.00" fill="#111" text-anchor="middle" font-weight="bold">Glycine</text>
<rect x="86.00" y="718.60" width="35.40" height="30.30" rx="0" fill="#fff" stroke="#4a8fd6" stroke-width="1.1"/>
<line x1="91.40" y1="726.00" x2="91.40" y2="731.40" stroke="#222" stroke-width="0.6"/>
<line x1="98.40" y1="726.00" x2="98.40" y2="731.40" stroke="#222" stroke-width="0.6"/>
<text x="91.40" y="724.80" font-size="7.20" fill="#111" text-anchor="middle">O</text>
<text x="98.70" y="724.80" font-size="7.20" fill="#111" text-anchor="middle">N</text>
<circle cx="91.40" cy="734.70" r="3.35" fill="#a58bd8" stroke="#7e66b4" stroke-width="0.35"/>
<circle cx="98.40" cy="734.70" r="3.35" fill="#a58bd8" stroke="#7e66b4" stroke-width="0.35"/>
<circle cx="105.30" cy="734.70" r="3.35" fill="#a58bd8" stroke="#7e66b4" stroke-width="0.35"/>
<line x1="108.61" y1="733.88" x2="114.81" y2="731.08" stroke="#222" stroke-width="0.55"/>
<line x1="107.99" y1="732.52" x2="114.19" y2="729.72" stroke="#222" stroke-width="0.55"/>
<line x1="108.30" y1="735.90" x2="114.50" y2="737.90" stroke="#222" stroke-width="0.6"/>
<text x="117.30" y="732.10" font-size="7.20" fill="#111" text-anchor="middle">O</text>
<text x="117.30" y="740.90" font-size="7.20" fill="#111" text-anchor="middle">O</text>
<text x="101.60" y="746.30" font-size="9.00" fill="#111" text-anchor="middle" font-weight="bold">Serine</text>
<rect x="154.20" y="711.90" width="34.40" height="30.40" rx="0" fill="#fff" stroke="#4a8fd6" stroke-width="1.1"/>
<line x1="166.00" y1="721.00" x2="166.00" y2="725.30" stroke="#222" stroke-width="0.6"/>
<text x="166.50" y="719.30" font-size="7.80" fill="#111" text-anchor="middle">NH<tspan font-size="5.07" dy="1.2">2</tspan></text>
<circle cx="159.10" cy="728.60" r="3.35" fill="#a58bd8" stroke="#7e66b4" stroke-width="0.35"/>
<circle cx="166.00" cy="728.60" r="3.35" fill="#a58bd8" stroke="#7e66b4" stroke-width="0.35"/>
<circle cx="172.80" cy="728.60" r="3.35" fill="#a58bd8" stroke="#7e66b4" stroke-width="0.35"/>
<line x1="176.07" y1="727.80" x2="182.57" y2="725.30" stroke="#222" stroke-width="0.55"/>
<line x1="175.53" y1="726.40" x2="182.03" y2="723.90" stroke="#222" stroke-width="0.55"/>
<line x1="175.80" y1="729.80" x2="182.30" y2="732.50" stroke="#222" stroke-width="0.6"/>
<text x="185.10" y="726.30" font-size="7.20" fill="#111" text-anchor="middle">O</text>
<text x="185.10" y="735.50" font-size="7.20" fill="#111" text-anchor="middle">O</text>
<text x="170.30" y="741.00" font-size="9.00" fill="#111" text-anchor="middle" font-weight="bold">Alanine</text>
<rect x="144.40" y="756.20" width="36.80" height="30.20" rx="0" fill="#fff" stroke="#4a8fd6" stroke-width="1.1"/>
<line x1="158.95" y1="768.60" x2="158.95" y2="762.60" stroke="#222" stroke-width="0.55"/>
<line x1="157.45" y1="768.60" x2="157.45" y2="762.60" stroke="#222" stroke-width="0.55"/>
<text x="158.20" y="762.60" font-size="7.20" fill="#111" text-anchor="middle">O</text>
<circle cx="151.20" cy="771.90" r="3.35" fill="#a58bd8" stroke="#7e66b4" stroke-width="0.35"/>
<circle cx="158.20" cy="771.90" r="3.35" fill="#a58bd8" stroke="#7e66b4" stroke-width="0.35"/>
<circle cx="165.10" cy="771.90" r="3.35" fill="#a58bd8" stroke="#7e66b4" stroke-width="0.35"/>
<line x1="168.38" y1="771.10" x2="174.68" y2="768.60" stroke="#222" stroke-width="0.55"/>
<line x1="167.82" y1="769.70" x2="174.12" y2="767.20" stroke="#222" stroke-width="0.55"/>
<line x1="168.10" y1="773.10" x2="174.40" y2="775.40" stroke="#222" stroke-width="0.6"/>
<text x="177.20" y="769.60" font-size="7.20" fill="#111" text-anchor="middle">O</text>
<text x="177.20" y="778.40" font-size="7.20" fill="#111" text-anchor="middle">O</text>
<text x="162.80" y="784.50" font-size="9.00" fill="#111" text-anchor="middle" font-weight="bold">Pyruvate</text>
<rect x="220.40" y="710.30" width="36.80" height="17.50" rx="0" fill="#fff" stroke="#4a8fd6" stroke-width="1.1"/>
<circle cx="237.60" cy="714.60" r="3.35" fill="#a58bd8" stroke="#7e66b4" stroke-width="0.35"/>
<line x1="241.00" y1="715.50" x2="249.50" y2="715.50" stroke="#222" stroke-width="0.55"/>
<line x1="241.00" y1="713.70" x2="249.50" y2="713.70" stroke="#222" stroke-width="0.55"/>
<text x="252.30" y="716.90" font-size="7.20" fill="#111" text-anchor="middle">O</text>
<text x="239.4" y="726" font-size="9" font-weight="bold" fill="#111" text-anchor="middle">CH<tspan font-size="5.8" dy="1.5">3</tspan><tspan dy="-1.5">OH</tspan></text>
<rect x="215.20" y="752.30" width="48.80" height="21.00" rx="0" fill="#fff" stroke="#4a8fd6" stroke-width="1.1"/>
<line x1="221.01" y1="758.29" x2="227.31" y2="760.89" stroke="#222" stroke-width="0.55"/>
<line x1="221.59" y1="756.91" x2="227.89" y2="759.51" stroke="#222" stroke-width="0.55"/>
<text x="218.90" y="758.90" font-size="7.20" fill="#111" text-anchor="middle">O</text>
<circle cx="230.60" cy="761.30" r="3.35" fill="#a58bd8" stroke="#7e66b4" stroke-width="0.35"/>
<circle cx="243.20" cy="756.40" r="3.35" fill="#a58bd8" stroke="#7e66b4" stroke-width="0.35"/>
<line x1="233.60" y1="760.00" x2="240.20" y2="757.60" stroke="#222" stroke-width="0.6"/>
<line x1="246.30" y1="757.40" x2="252.60" y2="760.70" stroke="#222" stroke-width="0.6"/>
<text x="258.00" y="764.30" font-size="7.20" fill="#111" text-anchor="middle">OH</text>
<text x="239.30" y="772.20" font-size="9.50" fill="#111" text-anchor="middle" font-weight="bold">GALD</text>
<rect x="6.30" y="768.80" width="60.50" height="48.40" rx="0" fill="#fff" stroke="#4a8fd6" stroke-width="1.1"/>
<line x1="36.10" y1="790.00" x2="36.10" y2="785.00" stroke="#222" stroke-width="0.6"/>
<circle cx="36.10" cy="781.70" r="3.35" fill="#a58bd8" stroke="#7e66b4" stroke-width="0.35"/>
<line x1="34.00" y1="779.00" x2="29.50" y2="775.50" stroke="#222" stroke-width="0.6"/>
<line x1="38.63" y1="779.61" x2="43.93" y2="775.91" stroke="#222" stroke-width="0.55"/>
<line x1="37.77" y1="778.39" x2="43.07" y2="774.69" stroke="#222" stroke-width="0.55"/>
<text x="27.50" y="776.00" font-size="7.20" fill="#111" text-anchor="middle">O</text>
<text x="45.50" y="775.50" font-size="7.20" fill="#111" text-anchor="middle">O</text>
<line x1="29.40" y1="796.80" x2="29.40" y2="801.80" stroke="#222" stroke-width="0.6"/>
<text x="30.00" y="807.90" font-size="7.20" fill="#111" text-anchor="middle">OH</text>
<circle cx="22.40" cy="793.50" r="3.35" fill="#a58bd8" stroke="#7e66b4" stroke-width="0.35"/>
<circle cx="29.40" cy="793.50" r="3.35" fill="#a58bd8" stroke="#7e66b4" stroke-width="0.35"/>
<circle cx="36.10" cy="793.50" r="3.35" fill="#a58bd8" stroke="#7e66b4" stroke-width="0.35"/>
<circle cx="43.30" cy="793.50" r="3.35" fill="#a58bd8" stroke="#7e66b4" stroke-width="0.35"/>
<circle cx="50.30" cy="793.50" r="3.35" fill="#a58bd8" stroke="#7e66b4" stroke-width="0.35"/>
<line x1="19.71" y1="791.32" x2="14.11" y2="788.82" stroke="#222" stroke-width="0.55"/>
<line x1="19.09" y1="792.68" x2="13.49" y2="790.18" stroke="#222" stroke-width="0.55"/>
<line x1="19.40" y1="794.70" x2="13.80" y2="797.10" stroke="#222" stroke-width="0.6"/>
<text x="11.00" y="791.20" font-size="7.20" fill="#111" text-anchor="middle">O</text>
<text x="11.00" y="800.10" font-size="7.20" fill="#111" text-anchor="middle">O</text>
<line x1="53.61" y1="792.68" x2="59.21" y2="790.18" stroke="#222" stroke-width="0.55"/>
<line x1="52.99" y1="791.32" x2="58.59" y2="788.82" stroke="#222" stroke-width="0.55"/>
<line x1="53.30" y1="794.70" x2="58.90" y2="797.10" stroke="#222" stroke-width="0.6"/>
<text x="61.70" y="791.20" font-size="7.20" fill="#111" text-anchor="middle">O</text>
<text x="61.70" y="800.10" font-size="7.20" fill="#111" text-anchor="middle">O</text>
<text x="37.30" y="815.40" font-size="9.00" fill="#111" text-anchor="middle" font-weight="bold">Isocitrate</text>
<rect x="127.60" y="801.40" width="50.20" height="26.10" rx="0" fill="#fff" stroke="#4a8fd6" stroke-width="1.1"/>
<circle cx="142.20" cy="811.90" r="3.35" fill="#a58bd8" stroke="#7e66b4" stroke-width="0.35"/>
<circle cx="149.20" cy="811.90" r="3.35" fill="#a58bd8" stroke="#7e66b4" stroke-width="0.35"/>
<circle cx="156.00" cy="811.90" r="3.35" fill="#a58bd8" stroke="#7e66b4" stroke-width="0.35"/>
<circle cx="163.00" cy="811.90" r="3.35" fill="#a58bd8" stroke="#7e66b4" stroke-width="0.35"/>
<line x1="139.50" y1="809.71" x2="133.60" y2="807.11" stroke="#222" stroke-width="0.55"/>
<line x1="138.90" y1="811.09" x2="133.00" y2="808.49" stroke="#222" stroke-width="0.55"/>
<line x1="139.20" y1="813.10" x2="133.30" y2="815.90" stroke="#222" stroke-width="0.6"/>
<text x="130.50" y="809.50" font-size="7.20" fill="#111" text-anchor="middle">O</text>
<text x="130.50" y="818.90" font-size="7.20" fill="#111" text-anchor="middle">O</text>
<line x1="166.29" y1="811.09" x2="172.39" y2="808.49" stroke="#222" stroke-width="0.55"/>
<line x1="165.71" y1="809.71" x2="171.81" y2="807.11" stroke="#222" stroke-width="0.55"/>
<line x1="166.00" y1="813.10" x2="172.10" y2="815.90" stroke="#222" stroke-width="0.6"/>
<text x="174.90" y="809.50" font-size="7.20" fill="#111" text-anchor="middle">O</text>
<text x="174.90" y="818.90" font-size="7.20" fill="#111" text-anchor="middle">O</text>
<text x="152.70" y="825.60" font-size="9.00" fill="#111" text-anchor="middle" font-weight="bold">Succinate</text>
<rect x="77.80" y="823.50" width="43.70" height="29.20" rx="0" fill="#fff" stroke="#4a8fd6" stroke-width="1.1"/>
<line x1="93.75" y1="835.60" x2="93.75" y2="829.30" stroke="#222" stroke-width="0.55"/>
<line x1="92.25" y1="835.60" x2="92.25" y2="829.30" stroke="#222" stroke-width="0.55"/>
<text x="93.00" y="829.20" font-size="7.20" fill="#111" text-anchor="middle">O</text>
<circle cx="93.00" cy="839.00" r="3.35" fill="#a58bd8" stroke="#7e66b4" stroke-width="0.35"/>
<circle cx="100.20" cy="839.00" r="3.35" fill="#a58bd8" stroke="#7e66b4" stroke-width="0.35"/>
<line x1="103.52" y1="838.18" x2="109.92" y2="835.18" stroke="#222" stroke-width="0.55"/>
<line x1="102.88" y1="836.82" x2="109.28" y2="833.82" stroke="#222" stroke-width="0.55"/>
<line x1="103.20" y1="840.20" x2="109.60" y2="842.30" stroke="#222" stroke-width="0.6"/>
<text x="112.40" y="836.20" font-size="7.20" fill="#111" text-anchor="middle">O</text>
<text x="112.40" y="845.30" font-size="7.20" fill="#111" text-anchor="middle">O</text>
<text x="99.40" y="850.60" font-size="9.00" fill="#111" text-anchor="middle" font-weight="bold">Glyoxylate</text>
<rect x="1.50" y="844.30" width="60.20" height="47.50" rx="0" fill="#fff" stroke="#4a8fd6" stroke-width="1.1"/>
<line x1="30.90" y1="865.00" x2="30.90" y2="860.50" stroke="#222" stroke-width="0.6"/>
<circle cx="30.90" cy="857.40" r="3.35" fill="#a58bd8" stroke="#7e66b4" stroke-width="0.35"/>
<line x1="28.80" y1="854.80" x2="24.40" y2="850.60" stroke="#222" stroke-width="0.6"/>
<line x1="33.46" y1="855.39" x2="38.86" y2="851.19" stroke="#222" stroke-width="0.55"/>
<line x1="32.54" y1="854.21" x2="37.94" y2="850.01" stroke="#222" stroke-width="0.55"/>
<text x="22.40" y="851.00" font-size="7.20" fill="#111" text-anchor="middle">O</text>
<text x="40.40" y="851.00" font-size="7.20" fill="#111" text-anchor="middle">O</text>
<circle cx="17.10" cy="868.40" r="3.35" fill="#a58bd8" stroke="#7e66b4" stroke-width="0.35"/>
<circle cx="24.10" cy="868.40" r="3.35" fill="#a58bd8" stroke="#7e66b4" stroke-width="0.35"/>
<circle cx="30.90" cy="868.40" r="3.35" fill="#a58bd8" stroke="#7e66b4" stroke-width="0.35"/>
<circle cx="38.00" cy="868.40" r="3.35" fill="#a58bd8" stroke="#7e66b4" stroke-width="0.35"/>
<circle cx="45.00" cy="868.40" r="3.35" fill="#a58bd8" stroke="#7e66b4" stroke-width="0.35"/>
<line x1="14.40" y1="866.21" x2="9.00" y2="863.81" stroke="#222" stroke-width="0.55"/>
<line x1="13.80" y1="867.59" x2="8.40" y2="865.19" stroke="#222" stroke-width="0.55"/>
<line x1="14.10" y1="869.60" x2="8.70" y2="872.70" stroke="#222" stroke-width="0.6"/>
<text x="5.90" y="866.20" font-size="7.20" fill="#111" text-anchor="middle">O</text>
<text x="5.90" y="875.70" font-size="7.20" fill="#111" text-anchor="middle">O</text>
<line x1="48.30" y1="867.59" x2="53.90" y2="865.19" stroke="#222" stroke-width="0.55"/>
<line x1="47.70" y1="866.21" x2="53.30" y2="863.81" stroke="#222" stroke-width="0.55"/>
<line x1="48.00" y1="869.60" x2="53.60" y2="872.70" stroke="#222" stroke-width="0.6"/>
<text x="56.40" y="866.20" font-size="7.20" fill="#111" text-anchor="middle">O</text>
<text x="56.40" y="875.70" font-size="7.20" fill="#111" text-anchor="middle">O</text>
<line x1="30.90" y1="871.70" x2="30.90" y2="876.50" stroke="#222" stroke-width="0.6"/>
<text x="30.90" y="883.30" font-size="7.20" fill="#111" text-anchor="middle">OH</text>
<text x="31.20" y="891.80" font-size="9.00" fill="#111" text-anchor="middle" font-weight="bold">Citrate</text>
<text x="100.70" y="859.00" font-size="7.00" fill="#111" text-anchor="middle" font-weight="bold">+</text>
<text x="100.70" y="865.60" font-size="6.60" fill="#111" text-anchor="middle" font-weight="bold">Acetyl-CoA</text>
<text x="100.70" y="873.40" font-size="7.00" fill="#111" text-anchor="middle" font-weight="bold">+</text>
<rect x="145.60" y="846.10" width="49.90" height="32.20" rx="0" fill="#fff" stroke="#4a8fd6" stroke-width="1.1"/>
<line x1="174.00" y1="860.00" x2="174.00" y2="855.50" stroke="#222" stroke-width="0.6"/>
<text x="174.60" y="853.90" font-size="7.20" fill="#111" text-anchor="middle">OH</text>
<circle cx="160.40" cy="863.20" r="3.35" fill="#a58bd8" stroke="#7e66b4" stroke-width="0.35"/>
<circle cx="167.00" cy="863.20" r="3.35" fill="#a58bd8" stroke="#7e66b4" stroke-width="0.35"/>
<circle cx="173.70" cy="863.20" r="3.35" fill="#a58bd8" stroke="#7e66b4" stroke-width="0.35"/>
<circle cx="180.70" cy="863.20" r="3.35" fill="#a58bd8" stroke="#7e66b4" stroke-width="0.35"/>
<line x1="157.67" y1="861.00" x2="151.27" y2="858.50" stroke="#222" stroke-width="0.55"/>
<line x1="157.13" y1="862.40" x2="150.73" y2="859.90" stroke="#222" stroke-width="0.55"/>
<line x1="157.40" y1="864.40" x2="151.00" y2="867.40" stroke="#222" stroke-width="0.6"/>
<text x="148.20" y="860.90" font-size="7.20" fill="#111" text-anchor="middle">O</text>
<text x="148.20" y="870.40" font-size="7.20" fill="#111" text-anchor="middle">O</text>
<line x1="183.98" y1="862.39" x2="190.08" y2="859.89" stroke="#222" stroke-width="0.55"/>
<line x1="183.42" y1="861.01" x2="189.52" y2="858.51" stroke="#222" stroke-width="0.55"/>
<line x1="183.70" y1="864.40" x2="189.80" y2="867.40" stroke="#222" stroke-width="0.6"/>
<text x="192.60" y="860.90" font-size="7.20" fill="#111" text-anchor="middle">O</text>
<text x="192.60" y="870.40" font-size="7.20" fill="#111" text-anchor="middle">O</text>
<text x="170.40" y="876.50" font-size="9.00" fill="#111" text-anchor="middle" font-weight="bold">Malate</text>
<rect x="80.30" y="874.50" width="50.30" height="31.00" rx="0" fill="#fff" stroke="#4a8fd6" stroke-width="1.1"/>
<line x1="109.35" y1="886.30" x2="109.35" y2="880.00" stroke="#222" stroke-width="0.55"/>
<line x1="107.85" y1="886.30" x2="107.85" y2="880.00" stroke="#222" stroke-width="0.55"/>
<text x="108.60" y="879.90" font-size="7.20" fill="#111" text-anchor="middle">O</text>
<circle cx="94.90" cy="889.70" r="3.35" fill="#a58bd8" stroke="#7e66b4" stroke-width="0.35"/>
<circle cx="101.60" cy="889.70" r="3.35" fill="#a58bd8" stroke="#7e66b4" stroke-width="0.35"/>
<circle cx="108.60" cy="889.70" r="3.35" fill="#a58bd8" stroke="#7e66b4" stroke-width="0.35"/>
<circle cx="115.40" cy="889.70" r="3.35" fill="#a58bd8" stroke="#7e66b4" stroke-width="0.35"/>
<line x1="92.17" y1="887.50" x2="86.07" y2="885.10" stroke="#222" stroke-width="0.55"/>
<line x1="91.63" y1="888.90" x2="85.53" y2="886.50" stroke="#222" stroke-width="0.55"/>
<line x1="91.90" y1="890.90" x2="85.80" y2="894.00" stroke="#222" stroke-width="0.6"/>
<text x="83.00" y="887.50" font-size="7.20" fill="#111" text-anchor="middle">O</text>
<text x="83.00" y="897.00" font-size="7.20" fill="#111" text-anchor="middle">O</text>
<line x1="118.66" y1="888.90" x2="125.06" y2="886.50" stroke="#222" stroke-width="0.55"/>
<line x1="118.14" y1="887.50" x2="124.54" y2="885.10" stroke="#222" stroke-width="0.55"/>
<line x1="118.40" y1="890.90" x2="124.80" y2="894.00" stroke="#222" stroke-width="0.6"/>
<text x="127.60" y="887.50" font-size="7.20" fill="#111" text-anchor="middle">O</text>
<text x="127.60" y="897.00" font-size="7.20" fill="#111" text-anchor="middle">O</text>
<text x="105.40" y="904.30" font-size="9.00" fill="#111" text-anchor="middle" font-weight="bold">Oxaloacetate</text>
<rect x="150.50" y="899.40" width="52.00" height="31.70" rx="0" fill="#fff" stroke="#4a8fd6" stroke-width="1.1"/>
<line x1="179.40" y1="912.20" x2="179.40" y2="907.50" stroke="#222" stroke-width="0.6"/>
<text x="180.50" y="906.00" font-size="7.80" fill="#111" text-anchor="middle">NH<tspan font-size="5.07" dy="1.2">2</tspan></text>
<circle cx="166.10" cy="915.50" r="3.35" fill="#a58bd8" stroke="#7e66b4" stroke-width="0.35"/>
<circle cx="172.70" cy="915.50" r="3.35" fill="#a58bd8" stroke="#7e66b4" stroke-width="0.35"/>
<circle cx="179.40" cy="915.50" r="3.35" fill="#a58bd8" stroke="#7e66b4" stroke-width="0.35"/>
<circle cx="186.60" cy="915.50" r="3.35" fill="#a58bd8" stroke="#7e66b4" stroke-width="0.35"/>
<line x1="163.34" y1="913.29" x2="157.34" y2="911.29" stroke="#222" stroke-width="0.55"/>
<line x1="162.86" y1="914.71" x2="156.86" y2="912.71" stroke="#222" stroke-width="0.55"/>
<line x1="163.10" y1="916.70" x2="157.10" y2="919.20" stroke="#222" stroke-width="0.6"/>
<text x="154.30" y="913.70" font-size="7.20" fill="#111" text-anchor="middle">O</text>
<text x="154.30" y="922.20" font-size="7.20" fill="#111" text-anchor="middle">O</text>
<line x1="189.84" y1="914.71" x2="195.84" y2="912.71" stroke="#222" stroke-width="0.55"/>
<line x1="189.36" y1="913.29" x2="195.36" y2="911.29" stroke="#222" stroke-width="0.55"/>
<line x1="189.60" y1="916.70" x2="195.60" y2="919.20" stroke="#222" stroke-width="0.6"/>
<text x="198.40" y="913.70" font-size="7.20" fill="#111" text-anchor="middle">O</text>
<text x="198.40" y="922.20" font-size="7.20" fill="#111" text-anchor="middle">O</text>
<text x="176.50" y="929.60" font-size="9.00" fill="#111" text-anchor="middle" font-weight="bold">Aspartate</text>
<rect x="91.50" y="917.40" width="48.00" height="32.30" rx="0" fill="#fff" stroke="#4a8fd6" stroke-width="1.1"/>
<text x="101.80" y="924.30" font-size="7.20" fill="#111" text-anchor="middle">OH</text>
<text x="115.00" y="924.50" font-size="7.60" fill="#111" text-anchor="middle">NH<tspan font-size="4.94" dy="1.2">2</tspan></text>
<line x1="105.00" y1="925.50" x2="105.00" y2="930.70" stroke="#222" stroke-width="0.6"/>
<line x1="111.60" y1="925.50" x2="111.60" y2="930.70" stroke="#222" stroke-width="0.6"/>
<circle cx="98.30" cy="934.00" r="3.35" fill="#a58bd8" stroke="#7e66b4" stroke-width="0.35"/>
<circle cx="105.00" cy="934.00" r="3.35" fill="#a58bd8" stroke="#7e66b4" stroke-width="0.35"/>
<circle cx="111.60" cy="934.00" r="3.35" fill="#a58bd8" stroke="#7e66b4" stroke-width="0.35"/>
<circle cx="118.70" cy="934.00" r="3.35" fill="#a58bd8" stroke="#7e66b4" stroke-width="0.35"/>
<line x1="122.12" y1="933.18" x2="127.82" y2="930.48" stroke="#222" stroke-width="0.55"/>
<line x1="121.48" y1="931.82" x2="127.18" y2="929.12" stroke="#222" stroke-width="0.55"/>
<text x="130.00" y="931.50" font-size="7.20" fill="#111" text-anchor="middle">O</text>
<line x1="121.80" y1="935.50" x2="127.50" y2="938.30" stroke="#222" stroke-width="0.6"/>
<text x="133.20" y="941.50" font-size="7.20" fill="#111" text-anchor="middle">OH</text>
<text x="114.30" y="948.00" font-size="9.00" fill="#111" text-anchor="middle" font-weight="bold">Threonine</text>
<rect x="209.30" y="812.20" width="60.50" height="29.20" rx="0" fill="#fff" stroke="#4a8fd6" stroke-width="1.1"/>
<line x1="214.30" y1="826.00" x2="214.30" y2="820.00" stroke="#222" stroke-width="0.6"/>
<text x="214.30" y="819.80" font-size="7.20" fill="#111" text-anchor="middle">O</text>
<line x1="221.00" y1="826.00" x2="221.00" y2="820.00" stroke="#222" stroke-width="0.6"/>
<text x="221.00" y="819.80" font-size="7.20" fill="#111" text-anchor="middle">O</text>
<line x1="228.00" y1="826.00" x2="228.00" y2="820.00" stroke="#222" stroke-width="0.6"/>
<text x="228.00" y="819.80" font-size="7.20" fill="#111" text-anchor="middle">O</text>
<line x1="234.80" y1="826.00" x2="234.80" y2="820.00" stroke="#222" stroke-width="0.6"/>
<text x="234.80" y="819.80" font-size="7.20" fill="#111" text-anchor="middle">O</text>
<line x1="242.45" y1="826.00" x2="242.45" y2="820.00" stroke="#222" stroke-width="0.55"/>
<line x1="240.95" y1="826.00" x2="240.95" y2="820.00" stroke="#222" stroke-width="0.55"/>
<text x="241.70" y="819.80" font-size="7.20" fill="#111" text-anchor="middle">O</text>
<circle cx="214.30" cy="829.30" r="3.35" fill="#a58bd8" stroke="#7e66b4" stroke-width="0.35"/>
<circle cx="221.00" cy="829.30" r="3.35" fill="#a58bd8" stroke="#7e66b4" stroke-width="0.35"/>
<circle cx="228.00" cy="829.30" r="3.35" fill="#a58bd8" stroke="#7e66b4" stroke-width="0.35"/>
<circle cx="234.80" cy="829.30" r="3.35" fill="#a58bd8" stroke="#7e66b4" stroke-width="0.35"/>
<circle cx="241.70" cy="829.30" r="3.35" fill="#a58bd8" stroke="#7e66b4" stroke-width="0.35"/>
<circle cx="248.50" cy="829.30" r="3.35" fill="#a58bd8" stroke="#7e66b4" stroke-width="0.35"/>
<line x1="251.80" y1="828.20" x2="257.50" y2="825.50" stroke="#222" stroke-width="0.6"/>
<text x="262.80" y="826.80" font-size="7.00" fill="#111" text-anchor="middle">PO<tspan font-size="4.55" dy="1.2">3</tspan></text>
<text x="233.70" y="840.20" font-size="9.30" fill="#111" text-anchor="middle" font-weight="bold">H6P</text>
<rect x="203.70" y="868.60" width="71.60" height="28.10" rx="0" fill="#fff" stroke="#4a8fd6" stroke-width="1.1"/>
<line x1="225.70" y1="879.70" x2="225.70" y2="874.50" stroke="#222" stroke-width="0.6"/>
<text x="225.70" y="874.30" font-size="7.20" fill="#111" text-anchor="middle">O</text>
<line x1="232.70" y1="879.70" x2="232.70" y2="874.50" stroke="#222" stroke-width="0.6"/>
<text x="232.70" y="874.30" font-size="7.20" fill="#111" text-anchor="middle">O</text>
<line x1="239.50" y1="879.70" x2="239.50" y2="874.50" stroke="#222" stroke-width="0.6"/>
<text x="239.50" y="874.30" font-size="7.20" fill="#111" text-anchor="middle">O</text>
<line x1="247.15" y1="879.70" x2="247.15" y2="874.50" stroke="#222" stroke-width="0.55"/>
<line x1="245.65" y1="879.70" x2="245.65" y2="874.50" stroke="#222" stroke-width="0.55"/>
<text x="246.40" y="874.30" font-size="7.20" fill="#111" text-anchor="middle">O</text>
<circle cx="218.70" cy="883.00" r="3.35" fill="#a58bd8" stroke="#7e66b4" stroke-width="0.35"/>
<circle cx="225.70" cy="883.00" r="3.35" fill="#a58bd8" stroke="#7e66b4" stroke-width="0.35"/>
<circle cx="232.70" cy="883.00" r="3.35" fill="#a58bd8" stroke="#7e66b4" stroke-width="0.35"/>
<circle cx="239.50" cy="883.00" r="3.35" fill="#a58bd8" stroke="#7e66b4" stroke-width="0.35"/>
<circle cx="246.40" cy="883.00" r="3.35" fill="#a58bd8" stroke="#7e66b4" stroke-width="0.35"/>
<circle cx="253.20" cy="883.00" r="3.35" fill="#a58bd8" stroke="#7e66b4" stroke-width="0.35"/>
<line x1="209.72" y1="880.20" x2="215.22" y2="882.40" stroke="#222" stroke-width="0.55"/>
<line x1="210.28" y1="878.80" x2="215.78" y2="881.00" stroke="#222" stroke-width="0.55"/>
<text x="207.00" y="881.10" font-size="7.20" fill="#111" text-anchor="middle">O</text>
<line x1="256.50" y1="882.00" x2="262.00" y2="879.60" stroke="#222" stroke-width="0.6"/>
<text x="267.80" y="881.10" font-size="7.00" fill="#111" text-anchor="middle">PO<tspan font-size="4.55" dy="1.2">3</tspan></text>
<text x="237.60" y="895.50" font-size="9.30" fill="#111" text-anchor="middle" font-weight="bold">F6P</text>
<rect x="272.30" y="775.50" width="57.50" height="30.10" rx="0" fill="#fff" stroke="#4a8fd6" stroke-width="1.1"/>
<line x1="294.50" y1="788.00" x2="294.50" y2="783.00" stroke="#222" stroke-width="0.6"/>
<text x="294.50" y="782.70" font-size="7.20" fill="#111" text-anchor="middle">O</text>
<line x1="301.20" y1="788.00" x2="301.20" y2="783.00" stroke="#222" stroke-width="0.6"/>
<text x="301.20" y="782.70" font-size="7.20" fill="#111" text-anchor="middle">O</text>
<circle cx="287.70" cy="791.30" r="3.35" fill="#a58bd8" stroke="#7e66b4" stroke-width="0.35"/>
<circle cx="294.50" cy="791.30" r="3.35" fill="#a58bd8" stroke="#7e66b4" stroke-width="0.35"/>
<circle cx="301.20" cy="791.30" r="3.35" fill="#a58bd8" stroke="#7e66b4" stroke-width="0.35"/>
<circle cx="308.10" cy="791.30" r="3.35" fill="#a58bd8" stroke="#7e66b4" stroke-width="0.35"/>
<line x1="278.74" y1="788.70" x2="284.24" y2="790.70" stroke="#222" stroke-width="0.55"/>
<line x1="279.26" y1="787.30" x2="284.76" y2="789.30" stroke="#222" stroke-width="0.55"/>
<text x="275.80" y="789.10" font-size="7.20" fill="#111" text-anchor="middle">O</text>
<line x1="311.30" y1="790.30" x2="316.50" y2="787.60" stroke="#222" stroke-width="0.6"/>
<text x="322.90" y="789.10" font-size="7.00" fill="#111" text-anchor="middle">PO<tspan font-size="4.55" dy="1.2">3</tspan></text>
<text x="298.90" y="803.50" font-size="9.30" fill="#111" text-anchor="middle" font-weight="bold">E4P</text>
<rect x="215.70" y="926.30" width="45.80" height="25.20" rx="0" fill="#fff" stroke="#4a8fd6" stroke-width="1.1"/>
<circle cx="224.90" cy="934.80" r="3.35" fill="#a58bd8" stroke="#7e66b4" stroke-width="0.35"/>
<circle cx="231.30" cy="934.80" r="3.35" fill="#a58bd8" stroke="#7e66b4" stroke-width="0.35"/>
<line x1="234.70" y1="933.99" x2="240.90" y2="931.29" stroke="#222" stroke-width="0.55"/>
<line x1="234.10" y1="932.61" x2="240.30" y2="929.91" stroke="#222" stroke-width="0.55"/>
<text x="243.40" y="932.00" font-size="7.20" fill="#111" text-anchor="middle">O</text>
<line x1="234.40" y1="936.20" x2="240.00" y2="939.00" stroke="#222" stroke-width="0.6"/>
<text x="240.10" y="941.50" font-size="6.80" fill="#111">S-CoA</text>
<text x="239.00" y="949.80" font-size="9.00" fill="#111" text-anchor="middle" font-weight="bold">Acetyl-CoA</text>
<rect x="2.20" y="924.00" width="65.80" height="27.80" rx="6" fill="#fff" stroke="#777" stroke-width="0.9"/>
<circle cx="8.30" cy="931.50" r="3.00" fill="#fff" stroke="#444" stroke-width="0.6"/>
<circle cx="8.30" cy="945.40" r="3.10" fill="#a58bd8" stroke="#7e66b4" stroke-width="0.35"/>
<text x="13.3" y="934.5" font-size="8.6" font-weight="bold" fill="#111"><tspan font-size="5.5" dy="-3">12</tspan><tspan dy="3">C-unlabeled</tspan></text>
<text x="13.3" y="948.4" font-size="8.6" font-weight="bold" fill="#111"><tspan font-size="5.5" dy="-3">13</tspan><tspan dy="3">C-labeled</tspan></text>
<text x="332.60" y="734.90" font-size="11.50" fill="#000" font-weight="bold">h</text>
<rect x="371.30" y="761.27" width="21.60" height="154.93" rx="0" fill="#9db4c5" stroke="#333" stroke-width="0.35"/>
<rect x="371.30" y="752.76" width="21.60" height="8.51" rx="0" fill="#3b4b7d" stroke="#333" stroke-width="0.35"/>
<rect x="371.30" y="745.95" width="21.60" height="6.81" rx="0" fill="#9bb9a7" stroke="#333" stroke-width="0.35"/>
<text x="382.10" y="752.36" font-size="8.30" fill="#fff" text-anchor="middle" font-weight="bold">4%</text>
<text x="382.10" y="760.02" font-size="8.30" fill="#fff" text-anchor="middle" font-weight="bold">5%</text>
<text x="382.10" y="842.42" font-size="8.30" fill="#fff" text-anchor="middle" font-weight="bold">91%</text>
<rect x="415.30" y="905.99" width="21.60" height="10.21" rx="0" fill="#9db4c5" stroke="#333" stroke-width="0.35"/>
<rect x="415.30" y="749.36" width="21.60" height="156.63" rx="0" fill="#34495a" stroke="#333" stroke-width="0.35"/>
<rect x="415.30" y="745.95" width="21.60" height="3.40" rx="0" fill="#9bb9a7" stroke="#333" stroke-width="0.35"/>
<text x="426.10" y="750.65" font-size="8.30" fill="#fff" text-anchor="middle" font-weight="bold">2%</text>
<text x="426.10" y="831.18" font-size="8.30" fill="#fff" text-anchor="middle" font-weight="bold">92%</text>
<text x="426.10" y="914.43" font-size="8.30" fill="#fff" text-anchor="middle" font-weight="bold">6%</text>
<rect x="459.10" y="912.80" width="21.60" height="3.40" rx="0" fill="#9bb9a7" stroke="#333" stroke-width="0.35"/>
<rect x="459.10" y="759.57" width="21.60" height="153.22" rx="0" fill="#34495a" stroke="#333" stroke-width="0.35"/>
<rect x="459.10" y="745.95" width="21.60" height="13.62" rx="0" fill="#9db4c5" stroke="#333" stroke-width="0.35"/>
<text x="469.90" y="755.76" font-size="8.30" fill="#fff" text-anchor="middle" font-weight="bold">8%</text>
<text x="469.90" y="839.35" font-size="8.30" fill="#fff" text-anchor="middle" font-weight="bold">90%</text>
<text x="469.90" y="914.43" font-size="8.30" fill="#fff" text-anchor="middle" font-weight="bold">2%</text>
<rect x="502.90" y="766.38" width="21.60" height="149.82" rx="0" fill="#cbb196" stroke="#333" stroke-width="0.35"/>
<rect x="502.90" y="754.46" width="21.60" height="11.92" rx="0" fill="#9db4c5" stroke="#333" stroke-width="0.35"/>
<rect x="502.90" y="745.95" width="21.60" height="8.51" rx="0" fill="#34495a" stroke="#333" stroke-width="0.35"/>
<text x="513.70" y="753.21" font-size="8.30" fill="#fff" text-anchor="middle" font-weight="bold">5%</text>
<text x="513.70" y="763.42" font-size="8.30" fill="#fff" text-anchor="middle" font-weight="bold">7%</text>
<text x="513.70" y="844.97" font-size="8.30" fill="#1a1a1a" text-anchor="middle" font-weight="bold">88%</text>
<rect x="546.80" y="757.87" width="21.60" height="158.33" rx="0" fill="#cbb196" stroke="#333" stroke-width="0.35"/>
<rect x="546.80" y="752.76" width="21.60" height="5.11" rx="0" fill="#9db4c5" stroke="#333" stroke-width="0.35"/>
<rect x="546.80" y="745.95" width="21.60" height="6.81" rx="0" fill="#34495a" stroke="#333" stroke-width="0.35"/>
<text x="557.60" y="752.36" font-size="8.30" fill="#fff" text-anchor="middle" font-weight="bold">4%</text>
<text x="557.60" y="758.31" font-size="8.30" fill="#fff" text-anchor="middle" font-weight="bold">3%</text>
<text x="557.60" y="840.03" font-size="8.30" fill="#1a1a1a" text-anchor="middle" font-weight="bold">93%</text>
<rect x="590.80" y="907.69" width="21.60" height="8.51" rx="0" fill="#cbb196" stroke="#333" stroke-width="0.35"/>
<rect x="590.80" y="752.76" width="21.60" height="154.93" rx="0" fill="#a48b72" stroke="#333" stroke-width="0.35"/>
<rect x="590.80" y="745.95" width="21.60" height="6.81" rx="0" fill="#9a7e62" stroke="#333" stroke-width="0.35"/>
<text x="601.60" y="752.36" font-size="8.30" fill="#1a1a1a" text-anchor="middle" font-weight="bold">4%</text>
<text x="601.60" y="833.05" font-size="8.30" fill="#1a1a1a" text-anchor="middle" font-weight="bold">91%</text>
<text x="601.60" y="914.94" font-size="8.30" fill="#1a1a1a" text-anchor="middle" font-weight="bold">5%</text>
<rect x="634.80" y="914.50" width="21.60" height="1.70" rx="0" fill="#7d9a5e" stroke="#333" stroke-width="0.35"/>
<rect x="634.80" y="745.95" width="21.60" height="168.55" rx="0" fill="#8b8e72" stroke="#333" stroke-width="0.35"/>
<text x="645.60" y="834.08" font-size="8.30" fill="#1a1a1a" text-anchor="middle" font-weight="bold">99%</text>
<text x="645.60" y="914.60" font-size="8.30" fill="#1a1a1a" text-anchor="middle" font-weight="bold">1%</text>
<line x1="370.50" y1="746.50" x2="678.50" y2="746.50" stroke="#333" stroke-width="0.9"/>
<line x1="678.50" y1="746.50" x2="678.50" y2="916.30" stroke="#333" stroke-width="0.9"/>
<line x1="370.50" y1="744.00" x2="370.50" y2="916.30" stroke="#333" stroke-width="1"/>
<line x1="366.30" y1="916.20" x2="370.30" y2="916.20" stroke="#333" stroke-width="0.8"/>
<text x="363.20" y="919.80" font-size="10.30" fill="#111" text-anchor="end" font-weight="bold">0</text>
<line x1="367.90" y1="907.69" x2="370.30" y2="907.69" stroke="#333" stroke-width="0.8"/>
<line x1="366.30" y1="899.18" x2="370.30" y2="899.18" stroke="#333" stroke-width="0.8"/>
<text x="363.20" y="902.78" font-size="10.30" fill="#111" text-anchor="end" font-weight="bold">10</text>
<line x1="367.90" y1="890.66" x2="370.30" y2="890.66" stroke="#333" stroke-width="0.8"/>
<line x1="366.30" y1="882.15" x2="370.30" y2="882.15" stroke="#333" stroke-width="0.8"/>
<text x="363.20" y="885.75" font-size="10.30" fill="#111" text-anchor="end" font-weight="bold">20</text>
<line x1="367.90" y1="873.64" x2="370.30" y2="873.64" stroke="#333" stroke-width="0.8"/>
<line x1="366.30" y1="865.12" x2="370.30" y2="865.12" stroke="#333" stroke-width="0.8"/>
<text x="363.20" y="868.73" font-size="10.30" fill="#111" text-anchor="end" font-weight="bold">30</text>
<line x1="367.90" y1="856.61" x2="370.30" y2="856.61" stroke="#333" stroke-width="0.8"/>
<line x1="366.30" y1="848.10" x2="370.30" y2="848.10" stroke="#333" stroke-width="0.8"/>
<text x="363.20" y="851.70" font-size="10.30" fill="#111" text-anchor="end" font-weight="bold">40</text>
<line x1="367.90" y1="839.59" x2="370.30" y2="839.59" stroke="#333" stroke-width="0.8"/>
<line x1="366.30" y1="831.08" x2="370.30" y2="831.08" stroke="#333" stroke-width="0.8"/>
<text x="363.20" y="834.68" font-size="10.30" fill="#111" text-anchor="end" font-weight="bold">50</text>
<line x1="367.90" y1="822.56" x2="370.30" y2="822.56" stroke="#333" stroke-width="0.8"/>
<line x1="366.30" y1="814.05" x2="370.30" y2="814.05" stroke="#333" stroke-width="0.8"/>
<text x="363.20" y="817.65" font-size="10.30" fill="#111" text-anchor="end" font-weight="bold">60</text>
<line x1="367.90" y1="805.54" x2="370.30" y2="805.54" stroke="#333" stroke-width="0.8"/>
<line x1="366.30" y1="797.03" x2="370.30" y2="797.03" stroke="#333" stroke-width="0.8"/>
<text x="363.20" y="800.63" font-size="10.30" fill="#111" text-anchor="end" font-weight="bold">70</text>
<line x1="367.90" y1="788.51" x2="370.30" y2="788.51" stroke="#333" stroke-width="0.8"/>
<line x1="366.30" y1="780.00" x2="370.30" y2="780.00" stroke="#333" stroke-width="0.8"/>
<text x="363.20" y="783.60" font-size="10.30" fill="#111" text-anchor="end" font-weight="bold">80</text>
<line x1="367.90" y1="771.49" x2="370.30" y2="771.49" stroke="#333" stroke-width="0.8"/>
<line x1="366.30" y1="762.98" x2="370.30" y2="762.98" stroke="#333" stroke-width="0.8"/>
<text x="363.20" y="766.58" font-size="10.30" fill="#111" text-anchor="end" font-weight="bold">90</text>
<line x1="367.90" y1="754.46" x2="370.30" y2="754.46" stroke="#333" stroke-width="0.8"/>
<line x1="366.30" y1="745.95" x2="370.30" y2="745.95" stroke="#333" stroke-width="0.8"/>
<text x="363.20" y="749.55" font-size="10.30" fill="#111" text-anchor="end" font-weight="bold">100</text>
<rect x="370.30" y="916.30" width="307.10" height="14.10" rx="0" fill="#d4d4d4" stroke="#555" stroke-width="0.9"/>
<text x="382.10" y="927.00" font-size="8.60" fill="#111" text-anchor="middle" font-weight="bold">G</text>
<text x="426.10" y="927.00" font-size="8.60" fill="#111" text-anchor="middle" font-weight="bold">S</text>
<text x="469.90" y="927.00" font-size="8.60" fill="#111" text-anchor="middle" font-weight="bold">A</text>
<text x="513.70" y="927.00" font-size="8.60" fill="#111" text-anchor="middle" font-weight="bold">D</text>
<text x="557.60" y="927.00" font-size="8.60" fill="#111" text-anchor="middle" font-weight="bold">T</text>
<text x="601.60" y="927.00" font-size="8.60" fill="#111" text-anchor="middle" font-weight="bold">H</text>
<text x="645.60" y="927.00" font-size="8.60" fill="#111" text-anchor="middle" font-weight="bold">Total</text>
<text x="525.3" y="944.8" font-size="8.3" font-weight="bold" fill="#111" text-anchor="middle"><tspan font-size="5.3" dy="-2.8">13</tspan><tspan dy="2.8">C-Methanol</tspan></text>
<text transform="translate(345.4 830.5) rotate(-90)" font-size="11.1" font-weight="bold" fill="#111" text-anchor="middle">Fraction(%)</text>
<rect x="395.90" y="731.00" width="14.80" height="7.80" rx="0" fill="#3b4b7d" stroke="#444" stroke-width="0.3"/>
<text x="411.50" y="738" font-size="7.6" font-weight="bold" fill="#111">0-<tspan font-size="4.9" dy="-2.6">13</tspan><tspan dy="2.6">C</tspan></text>
<rect x="433.35" y="731.00" width="14.80" height="7.80" rx="0" fill="#9bb9a7" stroke="#444" stroke-width="0.3"/>
<text x="448.95" y="738" font-size="7.6" font-weight="bold" fill="#111">1-<tspan font-size="4.9" dy="-2.6">13</tspan><tspan dy="2.6">C</tspan></text>
<rect x="470.80" y="731.00" width="14.80" height="7.80" rx="0" fill="#9db4c5" stroke="#444" stroke-width="0.3"/>
<text x="486.40" y="738" font-size="7.6" font-weight="bold" fill="#111">2-<tspan font-size="4.9" dy="-2.6">13</tspan><tspan dy="2.6">C</tspan></text>
<rect x="508.25" y="731.00" width="14.80" height="7.80" rx="0" fill="#34495a" stroke="#444" stroke-width="0.3"/>
<text x="523.85" y="738" font-size="7.6" font-weight="bold" fill="#111">3-<tspan font-size="4.9" dy="-2.6">13</tspan><tspan dy="2.6">C</tspan></text>
<rect x="545.70" y="731.00" width="14.80" height="7.80" rx="0" fill="#cbb196" stroke="#444" stroke-width="0.3"/>
<text x="561.30" y="738" font-size="7.6" font-weight="bold" fill="#111">4-<tspan font-size="4.9" dy="-2.6">13</tspan><tspan dy="2.6">C</tspan></text>
<rect x="583.15" y="731.00" width="14.80" height="7.80" rx="0" fill="#9a7e62" stroke="#444" stroke-width="0.3"/>
<text x="598.75" y="738" font-size="7.6" font-weight="bold" fill="#111">5-<tspan font-size="4.9" dy="-2.6">13</tspan><tspan dy="2.6">C</tspan></text>
<rect x="620.60" y="731.00" width="14.80" height="7.80" rx="0" fill="#a48b72" stroke="#444" stroke-width="0.3"/>
<text x="636.20" y="738" font-size="7.6" font-weight="bold" fill="#111">6-<tspan font-size="4.9" dy="-2.6">13</tspan><tspan dy="2.6">C</tspan></text>
</svg></body></html>
